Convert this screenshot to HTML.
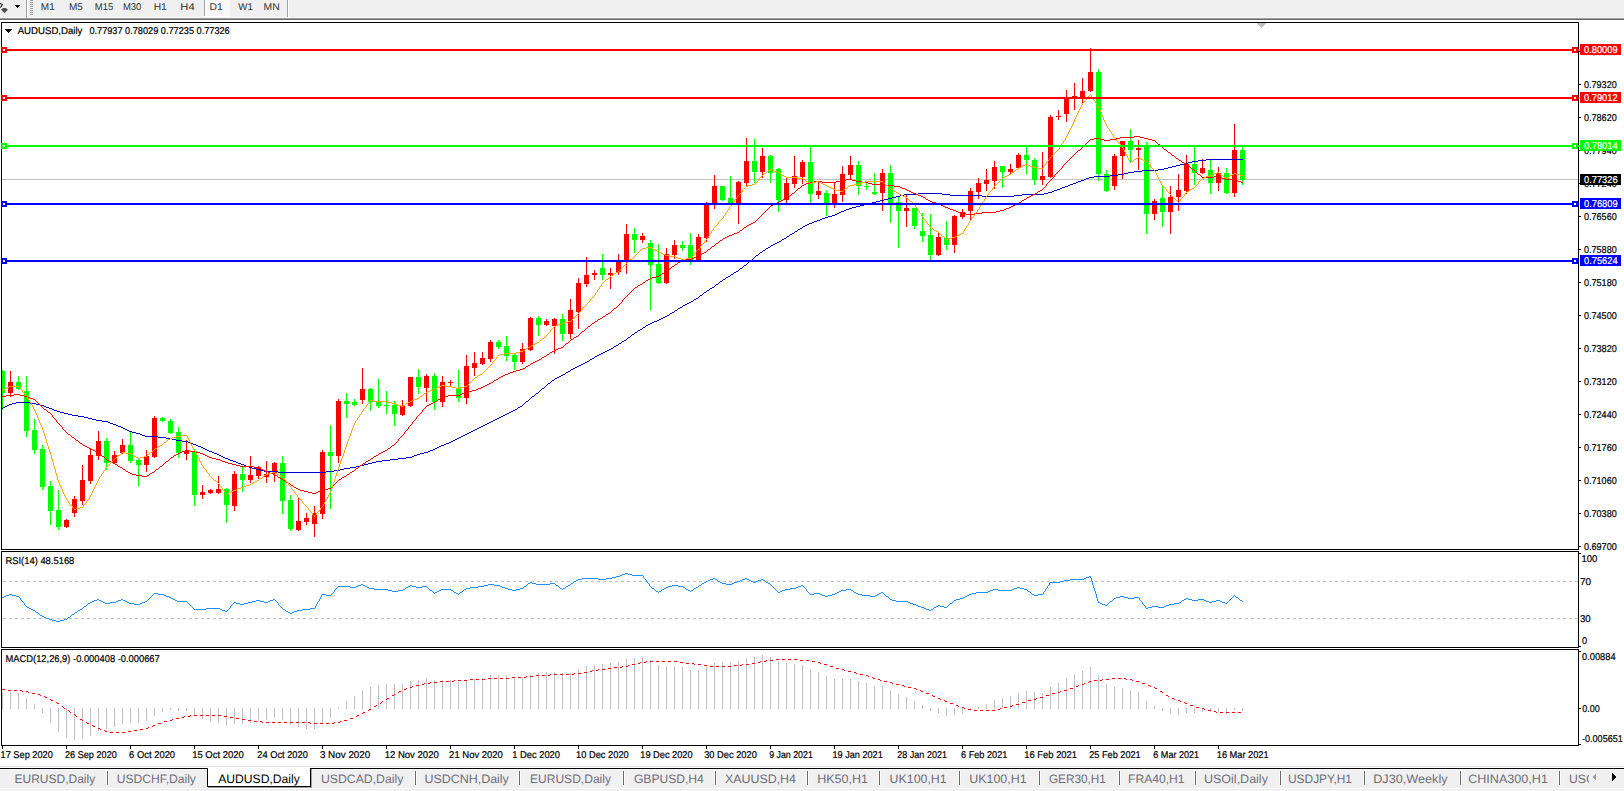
<!DOCTYPE html>
<html><head><meta charset="utf-8"><style>
html,body{margin:0;padding:0;width:1624px;height:791px;overflow:hidden;background:#fff;}
svg{display:block;}
text{font-family:"Liberation Sans",sans-serif;text-rendering:geometricPrecision;}
</style></head><body>
<svg width="1624" height="791" viewBox="0 0 1624 791" shape-rendering="crispEdges">
<rect x="0" y="0" width="1624" height="17" fill="#f0f0f0"/>
<rect x="0" y="17" width="1624" height="1" fill="#f5f5f5"/>
<rect x="0" y="18" width="1624" height="1" fill="#a0a0a0"/>
<rect x="0" y="19" width="1624" height="1" fill="#696969"/>
<path d="M0 3.2 L2.4 4.6 L0.3 7.6" fill="none" stroke="#404040" stroke-width="1.3" shape-rendering="auto"/>
<path d="M3.2 8 L5.6 8 L8 9.5 L4.4 13.2 L0.9 9.5 Z" fill="#505050" shape-rendering="auto"/>
<path d="M15 5 L20 5 L17.5 8 Z" fill="#000"/>
<rect x="26" y="0" width="1" height="18" fill="#a0a0a0"/>
<rect x="27" y="0" width="1" height="17" fill="#ffffff"/>
<rect x="30" y="0" width="3" height="1" fill="#a0a0a0"/>
<rect x="30" y="2" width="3" height="1" fill="#a0a0a0"/>
<rect x="30" y="4" width="3" height="1" fill="#a0a0a0"/>
<rect x="30" y="6" width="3" height="1" fill="#a0a0a0"/>
<rect x="30" y="8" width="3" height="1" fill="#a0a0a0"/>
<rect x="30" y="10" width="3" height="1" fill="#a0a0a0"/>
<rect x="30" y="12" width="3" height="1" fill="#a0a0a0"/>
<rect x="30" y="14" width="3" height="1" fill="#a0a0a0"/>
<rect x="205" y="0" width="24" height="16" fill="#f8f8f8"/>
<rect x="229" y="0" width="1" height="17" fill="#ffffff"/>
<rect x="204" y="16" width="26" height="1" fill="#ffffff"/>
<rect x="204" y="0" width="1" height="16" fill="#a0a0a0"/>
<rect x="287" y="0" width="1" height="17" fill="#a0a0a0"/>
<rect x="288" y="0" width="1" height="17" fill="#ffffff"/>
<text transform="translate(40.78,10) scale(1.0167,1)" font-size="9.9" fill="#303030">M1</text>
<text transform="translate(68.88,10) scale(1.0167,1)" font-size="9.9" fill="#303030">M5</text>
<text transform="translate(94.84,10) scale(0.9611,1)" font-size="9.9" fill="#303030">M15</text>
<text transform="translate(122.94,10) scale(0.9611,1)" font-size="9.9" fill="#303030">M30</text>
<text transform="translate(153.65,10) scale(1.0455,1)" font-size="9.9" fill="#303030">H1</text>
<text transform="translate(180.37,10) scale(1.1273,1)" font-size="9.9" fill="#303030">H4</text>
<text transform="translate(209.55,10) scale(1.0455,1)" font-size="9.9" fill="#303030">D1</text>
<text transform="translate(238.30,10) scale(0.9857,1)" font-size="9.9" fill="#303030">W1</text>
<text transform="translate(263.55,10) scale(1.0500,1)" font-size="9.9" fill="#303030">MN</text>
<defs><clipPath id="cm"><rect x="2" y="23" width="1576" height="526"/></clipPath><clipPath id="cr"><rect x="2" y="552" width="1576" height="95"/></clipPath><clipPath id="cd"><rect x="2" y="650" width="1576" height="95"/></clipPath></defs>
<rect x="2" y="179" width="1576" height="1" fill="#c0c0c0"/>
<g clip-path="url(#cm)">
<rect x="2" y="370" width="1" height="40" fill="#00ff00"/>
<rect x="0" y="371" width="5" height="22" fill="#00ff00"/>
<rect x="10" y="371" width="1" height="26" fill="#ff0000"/>
<rect x="8" y="382" width="5" height="11" fill="#ff0000"/>
<rect x="18" y="376" width="1" height="14" fill="#00ff00"/>
<rect x="16" y="382" width="5" height="7" fill="#00ff00"/>
<rect x="26" y="376" width="1" height="61" fill="#00ff00"/>
<rect x="24" y="391" width="5" height="40" fill="#00ff00"/>
<rect x="34" y="419" width="1" height="35" fill="#00ff00"/>
<rect x="32" y="430" width="5" height="20" fill="#00ff00"/>
<rect x="42" y="445" width="1" height="45" fill="#00ff00"/>
<rect x="40" y="449" width="5" height="38" fill="#00ff00"/>
<rect x="50" y="481" width="1" height="44" fill="#00ff00"/>
<rect x="48" y="486" width="5" height="25" fill="#00ff00"/>
<rect x="58" y="490" width="1" height="40" fill="#00ff00"/>
<rect x="56" y="510" width="5" height="17" fill="#00ff00"/>
<rect x="66" y="519" width="1" height="9" fill="#ff0000"/>
<rect x="64" y="520" width="5" height="7" fill="#ff0000"/>
<rect x="74" y="496" width="1" height="21" fill="#ff0000"/>
<rect x="72" y="499" width="5" height="14" fill="#ff0000"/>
<rect x="82" y="465" width="1" height="40" fill="#ff0000"/>
<rect x="80" y="480" width="5" height="21" fill="#ff0000"/>
<rect x="90" y="448" width="1" height="36" fill="#ff0000"/>
<rect x="88" y="455" width="5" height="26" fill="#ff0000"/>
<rect x="98" y="431" width="1" height="29" fill="#ff0000"/>
<rect x="96" y="441" width="5" height="15" fill="#ff0000"/>
<rect x="106" y="438" width="1" height="32" fill="#00ff00"/>
<rect x="104" y="441" width="5" height="22" fill="#00ff00"/>
<rect x="114" y="451" width="1" height="13" fill="#ff0000"/>
<rect x="112" y="455" width="5" height="8" fill="#ff0000"/>
<rect x="122" y="439" width="1" height="15" fill="#ff0000"/>
<rect x="120" y="445" width="5" height="8" fill="#ff0000"/>
<rect x="130" y="432" width="1" height="31" fill="#00ff00"/>
<rect x="128" y="445" width="5" height="16" fill="#00ff00"/>
<rect x="138" y="458" width="1" height="28" fill="#00ff00"/>
<rect x="136" y="460" width="5" height="5" fill="#00ff00"/>
<rect x="146" y="450" width="1" height="22" fill="#ff0000"/>
<rect x="144" y="456" width="5" height="9" fill="#ff0000"/>
<rect x="154" y="416" width="1" height="42" fill="#ff0000"/>
<rect x="152" y="418" width="5" height="39" fill="#ff0000"/>
<rect x="162" y="417" width="1" height="5" fill="#00ff00"/>
<rect x="160" y="418" width="5" height="3" fill="#00ff00"/>
<rect x="170" y="419" width="1" height="15" fill="#00ff00"/>
<rect x="168" y="421" width="5" height="12" fill="#00ff00"/>
<rect x="178" y="427" width="1" height="31" fill="#00ff00"/>
<rect x="176" y="432" width="5" height="21" fill="#00ff00"/>
<rect x="186" y="440" width="1" height="20" fill="#ff0000"/>
<rect x="184" y="451" width="5" height="3" fill="#ff0000"/>
<rect x="194" y="449" width="1" height="57" fill="#00ff00"/>
<rect x="192" y="451" width="5" height="44" fill="#00ff00"/>
<rect x="202" y="485" width="1" height="14" fill="#ff0000"/>
<rect x="200" y="492" width="5" height="3" fill="#ff0000"/>
<rect x="210" y="489" width="1" height="5" fill="#ff0000"/>
<rect x="208" y="490" width="5" height="3" fill="#ff0000"/>
<rect x="218" y="476" width="1" height="18" fill="#ff0000"/>
<rect x="216" y="489" width="5" height="4" fill="#ff0000"/>
<rect x="226" y="488" width="1" height="35" fill="#00ff00"/>
<rect x="224" y="489" width="5" height="16" fill="#00ff00"/>
<rect x="234" y="471" width="1" height="40" fill="#ff0000"/>
<rect x="232" y="474" width="5" height="32" fill="#ff0000"/>
<rect x="242" y="466" width="1" height="26" fill="#00ff00"/>
<rect x="240" y="474" width="5" height="6" fill="#00ff00"/>
<rect x="250" y="456" width="1" height="27" fill="#ff0000"/>
<rect x="248" y="475" width="5" height="5" fill="#ff0000"/>
<rect x="258" y="466" width="1" height="13" fill="#ff0000"/>
<rect x="256" y="467" width="5" height="9" fill="#ff0000"/>
<rect x="266" y="461" width="1" height="22" fill="#ff0000"/>
<rect x="264" y="474" width="5" height="3" fill="#ff0000"/>
<rect x="274" y="462" width="1" height="20" fill="#ff0000"/>
<rect x="272" y="463" width="5" height="11" fill="#ff0000"/>
<rect x="282" y="456" width="1" height="58" fill="#00ff00"/>
<rect x="280" y="463" width="5" height="38" fill="#00ff00"/>
<rect x="290" y="495" width="1" height="36" fill="#00ff00"/>
<rect x="288" y="500" width="5" height="29" fill="#00ff00"/>
<rect x="298" y="498" width="1" height="33" fill="#ff0000"/>
<rect x="296" y="521" width="5" height="9" fill="#ff0000"/>
<rect x="306" y="513" width="1" height="12" fill="#ff0000"/>
<rect x="304" y="518" width="5" height="4" fill="#ff0000"/>
<rect x="314" y="506" width="1" height="31" fill="#ff0000"/>
<rect x="312" y="513" width="5" height="11" fill="#ff0000"/>
<rect x="322" y="450" width="1" height="69" fill="#ff0000"/>
<rect x="320" y="452" width="5" height="62" fill="#ff0000"/>
<rect x="330" y="425" width="1" height="84" fill="#00ff00"/>
<rect x="328" y="452" width="5" height="4" fill="#00ff00"/>
<rect x="338" y="399" width="1" height="64" fill="#ff0000"/>
<rect x="336" y="401" width="5" height="55" fill="#ff0000"/>
<rect x="346" y="393" width="1" height="25" fill="#00ff00"/>
<rect x="344" y="401" width="5" height="3" fill="#00ff00"/>
<rect x="354" y="399" width="1" height="7" fill="#00ff00"/>
<rect x="352" y="402" width="5" height="3" fill="#00ff00"/>
<rect x="362" y="368" width="1" height="36" fill="#ff0000"/>
<rect x="360" y="389" width="5" height="11" fill="#ff0000"/>
<rect x="370" y="388" width="1" height="23" fill="#00ff00"/>
<rect x="368" y="389" width="5" height="13" fill="#00ff00"/>
<rect x="378" y="379" width="1" height="29" fill="#00ff00"/>
<rect x="376" y="402" width="5" height="4" fill="#00ff00"/>
<rect x="386" y="391" width="1" height="23" fill="#00ff00"/>
<rect x="384" y="405" width="5" height="1" fill="#00ff00"/>
<rect x="394" y="401" width="1" height="25" fill="#00ff00"/>
<rect x="392" y="405" width="5" height="9" fill="#00ff00"/>
<rect x="402" y="400" width="1" height="16" fill="#ff0000"/>
<rect x="400" y="406" width="5" height="9" fill="#ff0000"/>
<rect x="410" y="377" width="1" height="30" fill="#ff0000"/>
<rect x="408" y="377" width="5" height="29" fill="#ff0000"/>
<rect x="418" y="369" width="1" height="25" fill="#00ff00"/>
<rect x="416" y="377" width="5" height="10" fill="#00ff00"/>
<rect x="426" y="374" width="1" height="28" fill="#ff0000"/>
<rect x="424" y="376" width="5" height="12" fill="#ff0000"/>
<rect x="434" y="373" width="1" height="37" fill="#00ff00"/>
<rect x="432" y="376" width="5" height="26" fill="#00ff00"/>
<rect x="442" y="376" width="1" height="31" fill="#ff0000"/>
<rect x="440" y="382" width="5" height="20" fill="#ff0000"/>
<rect x="450" y="380" width="1" height="6" fill="#ff0000"/>
<rect x="448" y="382" width="5" height="1" fill="#ff0000"/>
<rect x="458" y="370" width="1" height="32" fill="#00ff00"/>
<rect x="456" y="388" width="5" height="10" fill="#00ff00"/>
<rect x="466" y="355" width="1" height="49" fill="#ff0000"/>
<rect x="464" y="366" width="5" height="32" fill="#ff0000"/>
<rect x="474" y="352" width="1" height="24" fill="#ff0000"/>
<rect x="472" y="363" width="5" height="5" fill="#ff0000"/>
<rect x="482" y="352" width="1" height="13" fill="#ff0000"/>
<rect x="480" y="358" width="5" height="6" fill="#ff0000"/>
<rect x="490" y="340" width="1" height="22" fill="#ff0000"/>
<rect x="488" y="342" width="5" height="17" fill="#ff0000"/>
<rect x="498" y="340" width="1" height="9" fill="#00ff00"/>
<rect x="496" y="342" width="5" height="5" fill="#00ff00"/>
<rect x="506" y="336" width="1" height="25" fill="#00ff00"/>
<rect x="504" y="346" width="5" height="10" fill="#00ff00"/>
<rect x="514" y="353" width="1" height="17" fill="#00ff00"/>
<rect x="512" y="355" width="5" height="7" fill="#00ff00"/>
<rect x="522" y="343" width="1" height="21" fill="#ff0000"/>
<rect x="520" y="349" width="5" height="13" fill="#ff0000"/>
<rect x="530" y="317" width="1" height="34" fill="#ff0000"/>
<rect x="528" y="318" width="5" height="32" fill="#ff0000"/>
<rect x="538" y="316" width="1" height="20" fill="#00ff00"/>
<rect x="536" y="318" width="5" height="7" fill="#00ff00"/>
<rect x="546" y="319" width="1" height="7" fill="#ff0000"/>
<rect x="544" y="321" width="5" height="4" fill="#ff0000"/>
<rect x="554" y="318" width="1" height="36" fill="#ff0000"/>
<rect x="552" y="319" width="5" height="7" fill="#ff0000"/>
<rect x="562" y="314" width="1" height="27" fill="#00ff00"/>
<rect x="560" y="319" width="5" height="15" fill="#00ff00"/>
<rect x="570" y="299" width="1" height="40" fill="#ff0000"/>
<rect x="568" y="310" width="5" height="24" fill="#ff0000"/>
<rect x="578" y="278" width="1" height="51" fill="#ff0000"/>
<rect x="576" y="283" width="5" height="29" fill="#ff0000"/>
<rect x="586" y="257" width="1" height="30" fill="#ff0000"/>
<rect x="584" y="275" width="5" height="9" fill="#ff0000"/>
<rect x="594" y="270" width="1" height="10" fill="#ff0000"/>
<rect x="592" y="273" width="5" height="2" fill="#ff0000"/>
<rect x="602" y="254" width="1" height="26" fill="#00ff00"/>
<rect x="600" y="268" width="5" height="7" fill="#00ff00"/>
<rect x="610" y="268" width="1" height="21" fill="#ff0000"/>
<rect x="608" y="273" width="5" height="2" fill="#ff0000"/>
<rect x="618" y="254" width="1" height="21" fill="#ff0000"/>
<rect x="616" y="261" width="5" height="11" fill="#ff0000"/>
<rect x="626" y="224" width="1" height="50" fill="#ff0000"/>
<rect x="624" y="234" width="5" height="28" fill="#ff0000"/>
<rect x="634" y="228" width="1" height="25" fill="#00ff00"/>
<rect x="632" y="234" width="5" height="6" fill="#00ff00"/>
<rect x="642" y="233" width="1" height="10" fill="#ff0000"/>
<rect x="640" y="236" width="5" height="4" fill="#ff0000"/>
<rect x="650" y="240" width="1" height="70" fill="#00ff00"/>
<rect x="648" y="243" width="5" height="22" fill="#00ff00"/>
<rect x="658" y="244" width="1" height="40" fill="#00ff00"/>
<rect x="656" y="264" width="5" height="19" fill="#00ff00"/>
<rect x="666" y="248" width="1" height="36" fill="#ff0000"/>
<rect x="664" y="254" width="5" height="29" fill="#ff0000"/>
<rect x="674" y="240" width="1" height="19" fill="#ff0000"/>
<rect x="672" y="245" width="5" height="10" fill="#ff0000"/>
<rect x="682" y="241" width="1" height="10" fill="#00ff00"/>
<rect x="680" y="245" width="5" height="3" fill="#00ff00"/>
<rect x="690" y="233" width="1" height="32" fill="#00ff00"/>
<rect x="688" y="245" width="5" height="17" fill="#00ff00"/>
<rect x="698" y="234" width="1" height="27" fill="#ff0000"/>
<rect x="696" y="237" width="5" height="23" fill="#ff0000"/>
<rect x="706" y="202" width="1" height="40" fill="#ff0000"/>
<rect x="704" y="204" width="5" height="34" fill="#ff0000"/>
<rect x="714" y="175" width="1" height="34" fill="#ff0000"/>
<rect x="712" y="186" width="5" height="17" fill="#ff0000"/>
<rect x="722" y="186" width="1" height="15" fill="#00ff00"/>
<rect x="720" y="186" width="5" height="14" fill="#00ff00"/>
<rect x="730" y="176" width="1" height="29" fill="#00ff00"/>
<rect x="728" y="198" width="5" height="6" fill="#00ff00"/>
<rect x="738" y="181" width="1" height="43" fill="#ff0000"/>
<rect x="736" y="182" width="5" height="21" fill="#ff0000"/>
<rect x="746" y="138" width="1" height="48" fill="#ff0000"/>
<rect x="744" y="161" width="5" height="22" fill="#ff0000"/>
<rect x="754" y="139" width="1" height="44" fill="#00ff00"/>
<rect x="752" y="161" width="5" height="11" fill="#00ff00"/>
<rect x="762" y="148" width="1" height="30" fill="#ff0000"/>
<rect x="760" y="156" width="5" height="16" fill="#ff0000"/>
<rect x="770" y="155" width="1" height="28" fill="#00ff00"/>
<rect x="768" y="156" width="5" height="17" fill="#00ff00"/>
<rect x="778" y="168" width="1" height="44" fill="#00ff00"/>
<rect x="776" y="169" width="5" height="31" fill="#00ff00"/>
<rect x="786" y="177" width="1" height="26" fill="#ff0000"/>
<rect x="784" y="183" width="5" height="17" fill="#ff0000"/>
<rect x="794" y="156" width="1" height="32" fill="#ff0000"/>
<rect x="792" y="176" width="5" height="8" fill="#ff0000"/>
<rect x="802" y="160" width="1" height="24" fill="#ff0000"/>
<rect x="800" y="162" width="5" height="15" fill="#ff0000"/>
<rect x="810" y="146" width="1" height="58" fill="#00ff00"/>
<rect x="808" y="162" width="5" height="32" fill="#00ff00"/>
<rect x="818" y="182" width="1" height="17" fill="#ff0000"/>
<rect x="816" y="191" width="5" height="4" fill="#ff0000"/>
<rect x="826" y="190" width="1" height="26" fill="#00ff00"/>
<rect x="824" y="193" width="5" height="10" fill="#00ff00"/>
<rect x="834" y="182" width="1" height="26" fill="#ff0000"/>
<rect x="832" y="194" width="5" height="9" fill="#ff0000"/>
<rect x="842" y="166" width="1" height="36" fill="#ff0000"/>
<rect x="840" y="174" width="5" height="21" fill="#ff0000"/>
<rect x="850" y="156" width="1" height="24" fill="#ff0000"/>
<rect x="848" y="165" width="5" height="10" fill="#ff0000"/>
<rect x="858" y="161" width="1" height="34" fill="#00ff00"/>
<rect x="856" y="165" width="5" height="21" fill="#00ff00"/>
<rect x="866" y="183" width="1" height="7" fill="#00ff00"/>
<rect x="864" y="186" width="5" height="1" fill="#00ff00"/>
<rect x="874" y="173" width="1" height="22" fill="#00ff00"/>
<rect x="872" y="192" width="5" height="2" fill="#00ff00"/>
<rect x="882" y="169" width="1" height="42" fill="#ff0000"/>
<rect x="880" y="173" width="5" height="20" fill="#ff0000"/>
<rect x="890" y="165" width="1" height="58" fill="#00ff00"/>
<rect x="888" y="173" width="5" height="30" fill="#00ff00"/>
<rect x="898" y="196" width="1" height="52" fill="#00ff00"/>
<rect x="896" y="202" width="5" height="9" fill="#00ff00"/>
<rect x="906" y="194" width="1" height="33" fill="#ff0000"/>
<rect x="904" y="208" width="5" height="3" fill="#ff0000"/>
<rect x="914" y="208" width="1" height="21" fill="#00ff00"/>
<rect x="912" y="208" width="5" height="18" fill="#00ff00"/>
<rect x="922" y="213" width="1" height="29" fill="#00ff00"/>
<rect x="920" y="231" width="5" height="5" fill="#00ff00"/>
<rect x="930" y="214" width="1" height="46" fill="#00ff00"/>
<rect x="928" y="235" width="5" height="20" fill="#00ff00"/>
<rect x="938" y="232" width="1" height="24" fill="#ff0000"/>
<rect x="936" y="237" width="5" height="18" fill="#ff0000"/>
<rect x="946" y="221" width="1" height="29" fill="#00ff00"/>
<rect x="944" y="238" width="5" height="7" fill="#00ff00"/>
<rect x="954" y="215" width="1" height="38" fill="#ff0000"/>
<rect x="952" y="216" width="5" height="29" fill="#ff0000"/>
<rect x="962" y="209" width="1" height="10" fill="#ff0000"/>
<rect x="960" y="212" width="5" height="5" fill="#ff0000"/>
<rect x="970" y="188" width="1" height="32" fill="#ff0000"/>
<rect x="968" y="191" width="5" height="20" fill="#ff0000"/>
<rect x="978" y="178" width="1" height="21" fill="#ff0000"/>
<rect x="976" y="183" width="5" height="9" fill="#ff0000"/>
<rect x="986" y="169" width="1" height="22" fill="#ff0000"/>
<rect x="984" y="180" width="5" height="4" fill="#ff0000"/>
<rect x="994" y="161" width="1" height="28" fill="#ff0000"/>
<rect x="992" y="167" width="5" height="14" fill="#ff0000"/>
<rect x="1002" y="166" width="1" height="22" fill="#00ff00"/>
<rect x="1000" y="166" width="5" height="6" fill="#00ff00"/>
<rect x="1010" y="164" width="1" height="10" fill="#ff0000"/>
<rect x="1008" y="169" width="5" height="3" fill="#ff0000"/>
<rect x="1018" y="153" width="1" height="16" fill="#ff0000"/>
<rect x="1016" y="155" width="5" height="13" fill="#ff0000"/>
<rect x="1026" y="146" width="1" height="28" fill="#00ff00"/>
<rect x="1024" y="155" width="5" height="5" fill="#00ff00"/>
<rect x="1034" y="158" width="1" height="27" fill="#00ff00"/>
<rect x="1032" y="160" width="5" height="20" fill="#00ff00"/>
<rect x="1042" y="152" width="1" height="33" fill="#ff0000"/>
<rect x="1040" y="176" width="5" height="4" fill="#ff0000"/>
<rect x="1050" y="115" width="1" height="63" fill="#ff0000"/>
<rect x="1048" y="117" width="5" height="60" fill="#ff0000"/>
<rect x="1058" y="110" width="1" height="10" fill="#ff0000"/>
<rect x="1056" y="116" width="5" height="1" fill="#ff0000"/>
<rect x="1066" y="90" width="1" height="32" fill="#ff0000"/>
<rect x="1064" y="98" width="5" height="16" fill="#ff0000"/>
<rect x="1074" y="83" width="1" height="27" fill="#ff0000"/>
<rect x="1072" y="96" width="5" height="2" fill="#ff0000"/>
<rect x="1082" y="78" width="1" height="25" fill="#ff0000"/>
<rect x="1080" y="91" width="5" height="7" fill="#ff0000"/>
<rect x="1090" y="48" width="1" height="44" fill="#ff0000"/>
<rect x="1088" y="72" width="5" height="19" fill="#ff0000"/>
<rect x="1098" y="69" width="1" height="112" fill="#00ff00"/>
<rect x="1096" y="72" width="5" height="102" fill="#00ff00"/>
<rect x="1106" y="170" width="1" height="22" fill="#00ff00"/>
<rect x="1104" y="174" width="5" height="17" fill="#00ff00"/>
<rect x="1114" y="154" width="1" height="36" fill="#ff0000"/>
<rect x="1112" y="156" width="5" height="30" fill="#ff0000"/>
<rect x="1122" y="141" width="1" height="38" fill="#ff0000"/>
<rect x="1120" y="141" width="5" height="15" fill="#ff0000"/>
<rect x="1130" y="129" width="1" height="33" fill="#00ff00"/>
<rect x="1128" y="141" width="5" height="9" fill="#00ff00"/>
<rect x="1138" y="140" width="1" height="30" fill="#ff0000"/>
<rect x="1136" y="148" width="5" height="2" fill="#ff0000"/>
<rect x="1146" y="142" width="1" height="92" fill="#00ff00"/>
<rect x="1144" y="146" width="5" height="68" fill="#00ff00"/>
<rect x="1154" y="199" width="1" height="21" fill="#ff0000"/>
<rect x="1152" y="201" width="5" height="13" fill="#ff0000"/>
<rect x="1162" y="185" width="1" height="42" fill="#00ff00"/>
<rect x="1160" y="198" width="5" height="14" fill="#00ff00"/>
<rect x="1170" y="186" width="1" height="48" fill="#ff0000"/>
<rect x="1168" y="197" width="5" height="15" fill="#ff0000"/>
<rect x="1178" y="174" width="1" height="37" fill="#ff0000"/>
<rect x="1176" y="190" width="5" height="7" fill="#ff0000"/>
<rect x="1186" y="155" width="1" height="39" fill="#ff0000"/>
<rect x="1184" y="164" width="5" height="27" fill="#ff0000"/>
<rect x="1194" y="146" width="1" height="39" fill="#00ff00"/>
<rect x="1192" y="164" width="5" height="9" fill="#00ff00"/>
<rect x="1202" y="159" width="1" height="15" fill="#ff0000"/>
<rect x="1200" y="168" width="5" height="5" fill="#ff0000"/>
<rect x="1210" y="160" width="1" height="34" fill="#00ff00"/>
<rect x="1208" y="170" width="5" height="13" fill="#00ff00"/>
<rect x="1218" y="167" width="1" height="24" fill="#ff0000"/>
<rect x="1216" y="173" width="5" height="10" fill="#ff0000"/>
<rect x="1226" y="168" width="1" height="26" fill="#00ff00"/>
<rect x="1224" y="173" width="5" height="20" fill="#00ff00"/>
<rect x="1234" y="124" width="1" height="73" fill="#ff0000"/>
<rect x="1232" y="150" width="5" height="43" fill="#ff0000"/>
<rect x="1242" y="147" width="1" height="38" fill="#00ff00"/>
<rect x="1240" y="150" width="5" height="30" fill="#00ff00"/>
<path d="M2 408h1v1h-1zM3 407h1v1h-1zM4 407h1v1h-1zM5 406h1v1h-1zM6 406h1v1h-1zM7 405h1v1h-1zM8 405h1v1h-1zM9 404h1v1h-1zM10 404h1v1h-1zM11 404h1v1h-1zM12 403h1v1h-1zM13 403h1v1h-1zM14 403h1v1h-1zM15 403h1v1h-1zM16 402h1v1h-1zM17 402h1v1h-1zM18 402h1v1h-1zM19 402h1v1h-1zM20 402h1v1h-1zM21 402h1v1h-1zM22 402h1v1h-1zM23 402h1v1h-1zM24 402h1v1h-1zM25 402h1v1h-1zM26 402h1v1h-1zM27 402h1v1h-1zM28 402h1v1h-1zM29 402h1v1h-1zM30 403h1v1h-1zM31 403h1v1h-1zM32 403h1v1h-1zM33 403h1v1h-1zM34 403h1v1h-1zM35 403h1v1h-1zM36 404h1v1h-1zM37 404h1v1h-1zM38 404h1v1h-1zM39 404h1v1h-1zM40 405h1v1h-1zM41 405h1v1h-1zM42 405h1v1h-1zM43 405h1v1h-1zM44 406h1v1h-1zM45 406h1v1h-1zM46 407h1v1h-1zM47 407h1v1h-1zM48 407h1v1h-1zM49 408h1v1h-1zM50 408h1v1h-1zM51 408h1v1h-1zM52 409h1v1h-1zM53 409h1v1h-1zM54 410h1v1h-1zM55 410h1v1h-1zM56 410h1v1h-1zM57 411h1v1h-1zM58 411h1v1h-1zM59 411h1v1h-1zM60 412h1v1h-1zM61 412h1v1h-1zM62 412h1v1h-1zM63 412h1v1h-1zM64 413h1v1h-1zM65 413h1v1h-1zM66 413h1v1h-1zM67 413h1v1h-1zM68 414h1v1h-1zM69 414h1v1h-1zM70 414h1v1h-1zM71 414h1v1h-1zM72 415h1v1h-1zM73 415h1v1h-1zM74 415h1v1h-1zM75 415h1v1h-1zM76 415h1v1h-1zM77 415h1v1h-1zM78 416h1v1h-1zM79 416h1v1h-1zM80 416h1v1h-1zM81 416h1v1h-1zM82 416h1v1h-1zM83 416h1v1h-1zM84 417h1v1h-1zM85 417h1v1h-1zM86 417h1v1h-1zM87 417h1v1h-1zM88 418h1v1h-1zM89 418h1v1h-1zM90 418h1v1h-1zM91 418h1v1h-1zM92 419h1v1h-1zM93 419h1v1h-1zM94 419h1v1h-1zM95 419h1v1h-1zM96 420h1v1h-1zM97 420h1v1h-1zM98 420h1v1h-1zM99 420h1v1h-1zM100 420h1v1h-1zM101 420h1v1h-1zM102 421h1v1h-1zM103 421h1v1h-1zM104 421h1v1h-1zM105 421h1v1h-1zM106 421h1v1h-1zM107 421h1v1h-1zM108 422h1v1h-1zM109 422h1v1h-1zM110 423h1v1h-1zM111 423h1v1h-1zM112 423h1v1h-1zM113 424h1v1h-1zM114 424h1v1h-1zM115 424h1v1h-1zM116 425h1v1h-1zM117 425h1v1h-1zM118 426h1v1h-1zM119 426h1v1h-1zM120 426h1v1h-1zM121 427h1v1h-1zM122 427h1v1h-1zM123 428h1v1h-1zM124 428h1v1h-1zM125 429h1v1h-1zM126 429h1v1h-1zM127 430h1v1h-1zM128 430h1v1h-1zM129 431h1v1h-1zM130 431h1v1h-1zM131 431h1v1h-1zM132 432h1v1h-1zM133 432h1v1h-1zM134 432h1v1h-1zM135 432h1v1h-1zM136 433h1v1h-1zM137 433h1v1h-1zM138 433h1v1h-1zM139 433h1v1h-1zM140 434h1v1h-1zM141 434h1v1h-1zM142 435h1v1h-1zM143 435h1v1h-1zM144 435h1v1h-1zM145 436h1v1h-1zM146 436h1v1h-1zM147 436h1v1h-1zM148 436h1v1h-1zM149 436h1v1h-1zM150 436h1v1h-1zM151 436h1v1h-1zM152 436h1v1h-1zM153 436h1v1h-1zM154 436h1v1h-1zM155 436h1v1h-1zM156 436h1v1h-1zM157 436h1v1h-1zM158 437h1v1h-1zM159 437h1v1h-1zM160 437h1v1h-1zM161 437h1v1h-1zM162 437h1v1h-1zM163 437h1v1h-1zM164 437h1v1h-1zM165 437h1v1h-1zM166 438h1v1h-1zM167 438h1v1h-1zM168 438h1v1h-1zM169 438h1v1h-1zM170 438h1v1h-1zM171 438h1v1h-1zM172 439h1v1h-1zM173 439h1v1h-1zM174 439h1v1h-1zM175 439h1v1h-1zM176 440h1v1h-1zM177 440h1v1h-1zM178 440h1v1h-1zM179 440h1v1h-1zM180 440h1v1h-1zM181 440h1v1h-1zM182 441h1v1h-1zM183 441h1v1h-1zM184 441h1v1h-1zM185 441h1v1h-1zM186 441h1v1h-1zM187 441h1v1h-1zM188 442h1v1h-1zM189 442h1v1h-1zM190 443h1v1h-1zM191 443h1v1h-1zM192 443h1v1h-1zM193 444h1v1h-1zM194 444h1v1h-1zM195 444h1v1h-1zM196 445h1v1h-1zM197 445h1v1h-1zM198 446h1v1h-1zM199 446h1v1h-1zM200 446h1v1h-1zM201 447h1v1h-1zM202 447h1v1h-1zM203 448h1v1h-1zM204 448h1v1h-1zM205 449h1v1h-1zM206 449h1v1h-1zM207 450h1v1h-1zM208 450h1v1h-1zM209 451h1v1h-1zM210 451h1v1h-1zM211 451h1v1h-1zM212 452h1v1h-1zM213 452h1v1h-1zM214 453h1v1h-1zM215 453h1v1h-1zM216 453h1v1h-1zM217 454h1v1h-1zM218 454h1v1h-1zM219 455h1v1h-1zM220 455h1v1h-1zM221 456h1v1h-1zM222 456h1v1h-1zM223 457h1v1h-1zM224 457h1v1h-1zM225 458h1v1h-1zM226 458h1v1h-1zM227 458h1v1h-1zM228 459h1v1h-1zM229 459h1v1h-1zM230 460h1v1h-1zM231 460h1v1h-1zM232 460h1v1h-1zM233 461h1v1h-1zM234 461h1v1h-1zM235 461h1v1h-1zM236 462h1v1h-1zM237 462h1v1h-1zM238 463h1v1h-1zM239 463h1v1h-1zM240 463h1v1h-1zM241 464h1v1h-1zM242 464h1v1h-1zM243 464h1v1h-1zM244 465h1v1h-1zM245 465h1v1h-1zM246 466h1v1h-1zM247 466h1v1h-1zM248 466h1v1h-1zM249 467h1v1h-1zM250 467h1v1h-1zM251 467h1v1h-1zM252 468h1v1h-1zM253 468h1v1h-1zM254 468h1v1h-1zM255 468h1v1h-1zM256 469h1v1h-1zM257 469h1v1h-1zM258 469h1v1h-1zM259 469h1v1h-1zM260 470h1v1h-1zM261 470h1v1h-1zM262 470h1v1h-1zM263 470h1v1h-1zM264 471h1v1h-1zM265 471h1v1h-1zM266 471h1v1h-1zM267 471h1v1h-1zM268 471h1v1h-1zM269 471h1v1h-1zM270 471h1v1h-1zM271 471h1v1h-1zM272 471h1v1h-1zM273 471h1v1h-1zM274 471h1v1h-1zM275 471h1v1h-1zM276 471h1v1h-1zM277 471h1v1h-1zM278 472h1v1h-1zM279 472h1v1h-1zM280 472h1v1h-1zM281 472h1v1h-1zM282 472h1v1h-1zM283 472h1v1h-1zM284 472h1v1h-1zM285 472h1v1h-1zM286 472h1v1h-1zM287 472h1v1h-1zM288 472h1v1h-1zM289 472h1v1h-1zM290 472h1v1h-1zM291 472h1v1h-1zM292 472h1v1h-1zM293 472h1v1h-1zM294 472h1v1h-1zM295 472h1v1h-1zM296 472h1v1h-1zM297 472h1v1h-1zM298 472h1v1h-1zM299 472h1v1h-1zM300 472h1v1h-1zM301 472h1v1h-1zM302 472h1v1h-1zM303 472h1v1h-1zM304 472h1v1h-1zM305 472h1v1h-1zM306 472h1v1h-1zM307 472h1v1h-1zM308 472h1v1h-1zM309 472h1v1h-1zM310 472h1v1h-1zM311 472h1v1h-1zM312 472h1v1h-1zM313 472h1v1h-1zM314 472h1v1h-1zM315 472h1v1h-1zM316 472h1v1h-1zM317 472h1v1h-1zM318 472h1v1h-1zM319 472h1v1h-1zM320 472h1v1h-1zM321 472h1v1h-1zM322 472h1v1h-1zM323 472h1v1h-1zM324 472h1v1h-1zM325 472h1v1h-1zM326 471h1v1h-1zM327 471h1v1h-1zM328 471h1v1h-1zM329 471h1v1h-1zM330 471h1v1h-1zM331 471h1v1h-1zM332 471h1v1h-1zM333 471h1v1h-1zM334 470h1v1h-1zM335 470h1v1h-1zM336 470h1v1h-1zM337 470h1v1h-1zM338 470h1v1h-1zM339 470h1v1h-1zM340 469h1v1h-1zM341 469h1v1h-1zM342 469h1v1h-1zM343 469h1v1h-1zM344 468h1v1h-1zM345 468h1v1h-1zM346 468h1v1h-1zM347 468h1v1h-1zM348 468h1v1h-1zM349 468h1v1h-1zM350 467h1v1h-1zM351 467h1v1h-1zM352 467h1v1h-1zM353 467h1v1h-1zM354 467h1v1h-1zM355 467h1v1h-1zM356 466h1v1h-1zM357 466h1v1h-1zM358 466h1v1h-1zM359 466h1v1h-1zM360 465h1v1h-1zM361 465h1v1h-1zM362 465h1v1h-1zM363 465h1v1h-1zM364 464h1v1h-1zM365 464h1v1h-1zM366 464h1v1h-1zM367 464h1v1h-1zM368 463h1v1h-1zM369 463h1v1h-1zM370 463h1v1h-1zM371 463h1v1h-1zM372 462h1v1h-1zM373 462h1v1h-1zM374 462h1v1h-1zM375 462h1v1h-1zM376 461h1v1h-1zM377 461h1v1h-1zM378 461h1v1h-1zM379 461h1v1h-1zM380 461h1v1h-1zM381 461h1v1h-1zM382 460h1v1h-1zM383 460h1v1h-1zM384 460h1v1h-1zM385 460h1v1h-1zM386 460h1v1h-1zM387 460h1v1h-1zM388 460h1v1h-1zM389 460h1v1h-1zM390 459h1v1h-1zM391 459h1v1h-1zM392 459h1v1h-1zM393 459h1v1h-1zM394 459h1v1h-1zM395 459h1v1h-1zM396 459h1v1h-1zM397 459h1v1h-1zM398 458h1v1h-1zM399 458h1v1h-1zM400 458h1v1h-1zM401 458h1v1h-1zM402 458h1v1h-1zM403 458h1v1h-1zM404 458h1v1h-1zM405 458h1v1h-1zM406 457h1v1h-1zM407 457h1v1h-1zM408 457h1v1h-1zM409 457h1v1h-1zM410 457h1v1h-1zM411 457h1v1h-1zM412 456h1v1h-1zM413 456h1v1h-1zM414 455h1v1h-1zM415 455h1v1h-1zM416 455h1v1h-1zM417 454h1v1h-1zM418 454h1v1h-1zM419 454h1v1h-1zM420 453h1v1h-1zM421 453h1v1h-1zM422 453h1v1h-1zM423 453h1v1h-1zM424 452h1v1h-1zM425 452h1v1h-1zM426 452h1v1h-1zM427 452h1v1h-1zM428 451h1v1h-1zM429 451h1v1h-1zM430 450h1v1h-1zM431 450h1v1h-1zM432 450h1v1h-1zM433 449h1v1h-1zM434 449h1v1h-1zM435 448h1v1h-1zM436 448h1v1h-1zM437 447h1v1h-1zM438 447h1v1h-1zM439 446h1v1h-1zM440 446h1v1h-1zM441 445h1v1h-1zM442 445h1v1h-1zM443 445h1v1h-1zM444 444h1v1h-1zM445 444h1v1h-1zM446 443h1v1h-1zM447 443h1v1h-1zM448 443h1v1h-1zM449 442h1v1h-1zM450 442h1v1h-1zM451 441h1v1h-1zM452 441h1v1h-1zM453 440h1v1h-1zM454 440h1v1h-1zM455 439h1v1h-1zM456 439h1v1h-1zM457 438h1v1h-1zM458 438h1v1h-1zM459 437h1v1h-1zM460 437h1v1h-1zM461 436h1v1h-1zM462 436h1v1h-1zM463 435h1v1h-1zM464 435h1v1h-1zM465 434h1v1h-1zM466 434h1v1h-1zM467 433h1v1h-1zM468 433h1v1h-1zM469 432h1v1h-1zM470 432h1v1h-1zM471 431h1v1h-1zM472 431h1v1h-1zM473 430h1v1h-1zM474 430h1v1h-1zM475 429h1v1h-1zM476 429h1v1h-1zM477 428h1v1h-1zM478 428h1v1h-1zM479 427h1v1h-1zM480 427h1v1h-1zM481 426h1v1h-1zM482 426h1v1h-1zM483 425h1v1h-1zM484 425h1v1h-1zM485 424h1v1h-1zM486 424h1v1h-1zM487 423h1v1h-1zM488 423h1v1h-1zM489 422h1v1h-1zM490 422h1v1h-1zM491 421h1v1h-1zM492 421h1v1h-1zM493 420h1v1h-1zM494 420h1v1h-1zM495 419h1v1h-1zM496 419h1v1h-1zM497 418h1v1h-1zM498 418h1v1h-1zM499 417h1v1h-1zM500 417h1v1h-1zM501 416h1v1h-1zM502 416h1v1h-1zM503 415h1v1h-1zM504 415h1v1h-1zM505 414h1v1h-1zM506 414h1v1h-1zM507 413h1v1h-1zM508 413h1v1h-1zM509 412h1v1h-1zM510 412h1v1h-1zM511 411h1v1h-1zM512 411h1v1h-1zM513 410h1v1h-1zM514 410h1v1h-1zM515 409h1v1h-1zM516 409h1v1h-1zM517 408h1v1h-1zM518 407h1v1h-1zM519 407h1v1h-1zM520 406h1v1h-1zM521 406h1v1h-1zM522 405h1v1h-1zM523 404h1v1h-1zM524 403h1v1h-1zM525 402h1v1h-1zM526 401h1v1h-1zM527 401h1v1h-1zM528 400h1v1h-1zM529 399h1v1h-1zM530 398h1v1h-1zM531 397h1v1h-1zM532 396h1v1h-1zM533 396h1v1h-1zM534 395h1v1h-1zM535 394h1v1h-1zM536 393h1v1h-1zM537 393h1v1h-1zM538 392h1v1h-1zM539 391h1v1h-1zM540 390h1v1h-1zM541 389h1v1h-1zM542 388h1v1h-1zM543 388h1v1h-1zM544 387h1v1h-1zM545 386h1v1h-1zM546 385h1v1h-1zM547 384h1v1h-1zM548 383h1v1h-1zM549 383h1v1h-1zM550 382h1v1h-1zM551 381h1v1h-1zM552 380h1v1h-1zM553 380h1v1h-1zM554 379h1v1h-1zM555 378h1v1h-1zM556 378h1v1h-1zM557 377h1v1h-1zM558 377h1v1h-1zM559 376h1v1h-1zM560 376h1v1h-1zM561 375h1v1h-1zM562 375h1v1h-1zM563 374h1v1h-1zM564 374h1v1h-1zM565 373h1v1h-1zM566 372h1v1h-1zM567 372h1v1h-1zM568 371h1v1h-1zM569 371h1v1h-1zM570 370h1v1h-1zM571 369h1v1h-1zM572 369h1v1h-1zM573 368h1v1h-1zM574 368h1v1h-1zM575 367h1v1h-1zM576 367h1v1h-1zM577 366h1v1h-1zM578 366h1v1h-1zM579 365h1v1h-1zM580 365h1v1h-1zM581 364h1v1h-1zM582 364h1v1h-1zM583 363h1v1h-1zM584 363h1v1h-1zM585 362h1v1h-1zM586 362h1v1h-1zM587 361h1v1h-1zM588 361h1v1h-1zM589 360h1v1h-1zM590 359h1v1h-1zM591 359h1v1h-1zM592 358h1v1h-1zM593 358h1v1h-1zM594 357h1v1h-1zM595 356h1v1h-1zM596 356h1v1h-1zM597 355h1v1h-1zM598 355h1v1h-1zM599 354h1v1h-1zM600 354h1v1h-1zM601 353h1v1h-1zM602 353h1v1h-1zM603 352h1v1h-1zM604 352h1v1h-1zM605 351h1v1h-1zM606 351h1v1h-1zM607 350h1v1h-1zM608 350h1v1h-1zM609 349h1v1h-1zM610 349h1v1h-1zM611 348h1v1h-1zM612 348h1v1h-1zM613 347h1v1h-1zM614 346h1v1h-1zM615 346h1v1h-1zM616 345h1v1h-1zM617 345h1v1h-1zM618 344h1v1h-1zM619 343h1v1h-1zM620 343h1v1h-1zM621 342h1v1h-1zM622 341h1v1h-1zM623 341h1v1h-1zM624 340h1v1h-1zM625 340h1v1h-1zM626 339h1v1h-1zM627 338h1v1h-1zM628 337h1v1h-1zM629 337h1v1h-1zM630 336h1v1h-1zM631 335h1v1h-1zM632 334h1v1h-1zM633 334h1v1h-1zM634 333h1v1h-1zM635 332h1v1h-1zM636 332h1v1h-1zM637 331h1v1h-1zM638 330h1v1h-1zM639 330h1v1h-1zM640 329h1v1h-1zM641 329h1v1h-1zM642 328h1v1h-1zM643 327h1v1h-1zM644 327h1v1h-1zM645 326h1v1h-1zM646 325h1v1h-1zM647 325h1v1h-1zM648 324h1v1h-1zM649 324h1v1h-1zM650 323h1v1h-1zM651 323h1v1h-1zM652 322h1v1h-1zM653 322h1v1h-1zM654 321h1v1h-1zM655 321h1v1h-1zM656 321h1v1h-1zM657 320h1v1h-1zM658 320h1v1h-1zM659 319h1v1h-1zM660 319h1v1h-1zM661 318h1v1h-1zM662 318h1v1h-1zM663 317h1v1h-1zM664 317h1v1h-1zM665 316h1v1h-1zM666 316h1v1h-1zM667 315h1v1h-1zM668 315h1v1h-1zM669 314h1v1h-1zM670 313h1v1h-1zM671 313h1v1h-1zM672 312h1v1h-1zM673 312h1v1h-1zM674 311h1v1h-1zM675 310h1v1h-1zM676 310h1v1h-1zM677 309h1v1h-1zM678 308h1v1h-1zM679 308h1v1h-1zM680 307h1v1h-1zM681 307h1v1h-1zM682 306h1v1h-1zM683 305h1v1h-1zM684 305h1v1h-1zM685 304h1v1h-1zM686 304h1v1h-1zM687 303h1v1h-1zM688 303h1v1h-1zM689 302h1v1h-1zM690 302h1v1h-1zM691 301h1v1h-1zM692 301h1v1h-1zM693 300h1v1h-1zM694 299h1v1h-1zM695 299h1v1h-1zM696 298h1v1h-1zM697 298h1v1h-1zM698 297h1v1h-1zM699 296h1v1h-1zM700 295h1v1h-1zM701 295h1v1h-1zM702 294h1v1h-1zM703 293h1v1h-1zM704 292h1v1h-1zM705 292h1v1h-1zM706 291h1v1h-1zM707 290h1v1h-1zM708 290h1v1h-1zM709 289h1v1h-1zM710 288h1v1h-1zM711 288h1v1h-1zM712 287h1v1h-1zM713 287h1v1h-1zM714 286h1v1h-1zM715 285h1v1h-1zM716 284h1v1h-1zM717 284h1v1h-1zM718 283h1v1h-1zM719 282h1v1h-1zM720 281h1v1h-1zM721 281h1v1h-1zM722 280h1v1h-1zM723 279h1v1h-1zM724 279h1v1h-1zM725 278h1v1h-1zM726 277h1v1h-1zM727 277h1v1h-1zM728 276h1v1h-1zM729 276h1v1h-1zM730 275h1v1h-1zM731 274h1v1h-1zM732 274h1v1h-1zM733 273h1v1h-1zM734 272h1v1h-1zM735 272h1v1h-1zM736 271h1v1h-1zM737 271h1v1h-1zM738 270h1v1h-1zM739 269h1v1h-1zM740 268h1v1h-1zM741 268h1v1h-1zM742 267h1v1h-1zM743 266h1v1h-1zM744 265h1v1h-1zM745 265h1v1h-1zM746 264h1v1h-1zM747 263h1v1h-1zM748 262h1v1h-1zM749 261h1v1h-1zM750 260h1v1h-1zM751 260h1v1h-1zM752 259h1v1h-1zM753 258h1v1h-1zM754 257h1v1h-1zM755 256h1v1h-1zM756 255h1v1h-1zM757 255h1v1h-1zM758 254h1v1h-1zM759 253h1v1h-1zM760 252h1v1h-1zM761 252h1v1h-1zM762 251h1v1h-1zM763 250h1v1h-1zM764 250h1v1h-1zM765 249h1v1h-1zM766 248h1v1h-1zM767 248h1v1h-1zM768 247h1v1h-1zM769 247h1v1h-1zM770 246h1v1h-1zM771 245h1v1h-1zM772 245h1v1h-1zM773 244h1v1h-1zM774 244h1v1h-1zM775 243h1v1h-1zM776 243h1v1h-1zM777 242h1v1h-1zM778 242h1v1h-1zM779 241h1v1h-1zM780 241h1v1h-1zM781 240h1v1h-1zM782 239h1v1h-1zM783 239h1v1h-1zM784 238h1v1h-1zM785 238h1v1h-1zM786 237h1v1h-1zM787 236h1v1h-1zM788 236h1v1h-1zM789 235h1v1h-1zM790 234h1v1h-1zM791 234h1v1h-1zM792 233h1v1h-1zM793 233h1v1h-1zM794 232h1v1h-1zM795 231h1v1h-1zM796 231h1v1h-1zM797 230h1v1h-1zM798 229h1v1h-1zM799 229h1v1h-1zM800 228h1v1h-1zM801 228h1v1h-1zM802 227h1v1h-1zM803 226h1v1h-1zM804 226h1v1h-1zM805 225h1v1h-1zM806 225h1v1h-1zM807 224h1v1h-1zM808 224h1v1h-1zM809 223h1v1h-1zM810 223h1v1h-1zM811 223h1v1h-1zM812 222h1v1h-1zM813 222h1v1h-1zM814 221h1v1h-1zM815 221h1v1h-1zM816 221h1v1h-1zM817 220h1v1h-1zM818 220h1v1h-1zM819 220h1v1h-1zM820 219h1v1h-1zM821 219h1v1h-1zM822 218h1v1h-1zM823 218h1v1h-1zM824 218h1v1h-1zM825 217h1v1h-1zM826 217h1v1h-1zM827 217h1v1h-1zM828 216h1v1h-1zM829 216h1v1h-1zM830 216h1v1h-1zM831 216h1v1h-1zM832 215h1v1h-1zM833 215h1v1h-1zM834 215h1v1h-1zM835 214h1v1h-1zM836 214h1v1h-1zM837 213h1v1h-1zM838 213h1v1h-1zM839 212h1v1h-1zM840 212h1v1h-1zM841 211h1v1h-1zM842 211h1v1h-1zM843 211h1v1h-1zM844 210h1v1h-1zM845 210h1v1h-1zM846 209h1v1h-1zM847 209h1v1h-1zM848 209h1v1h-1zM849 208h1v1h-1zM850 208h1v1h-1zM851 208h1v1h-1zM852 207h1v1h-1zM853 207h1v1h-1zM854 207h1v1h-1zM855 207h1v1h-1zM856 206h1v1h-1zM857 206h1v1h-1zM858 206h1v1h-1zM859 206h1v1h-1zM860 205h1v1h-1zM861 205h1v1h-1zM862 205h1v1h-1zM863 205h1v1h-1zM864 204h1v1h-1zM865 204h1v1h-1zM866 204h1v1h-1zM867 204h1v1h-1zM868 203h1v1h-1zM869 203h1v1h-1zM870 203h1v1h-1zM871 203h1v1h-1zM872 202h1v1h-1zM873 202h1v1h-1zM874 202h1v1h-1zM875 202h1v1h-1zM876 201h1v1h-1zM877 201h1v1h-1zM878 201h1v1h-1zM879 201h1v1h-1zM880 200h1v1h-1zM881 200h1v1h-1zM882 200h1v1h-1zM883 200h1v1h-1zM884 199h1v1h-1zM885 199h1v1h-1zM886 199h1v1h-1zM887 199h1v1h-1zM888 198h1v1h-1zM889 198h1v1h-1zM890 198h1v1h-1zM891 198h1v1h-1zM892 197h1v1h-1zM893 197h1v1h-1zM894 197h1v1h-1zM895 197h1v1h-1zM896 196h1v1h-1zM897 196h1v1h-1zM898 196h1v1h-1zM899 196h1v1h-1zM900 195h1v1h-1zM901 195h1v1h-1zM902 195h1v1h-1zM903 195h1v1h-1zM904 194h1v1h-1zM905 194h1v1h-1zM906 194h1v1h-1zM907 194h1v1h-1zM908 194h1v1h-1zM909 194h1v1h-1zM910 194h1v1h-1zM911 194h1v1h-1zM912 194h1v1h-1zM913 194h1v1h-1zM914 194h1v1h-1zM915 194h1v1h-1zM916 194h1v1h-1zM917 194h1v1h-1zM918 193h1v1h-1zM919 193h1v1h-1zM920 193h1v1h-1zM921 193h1v1h-1zM922 193h1v1h-1zM923 193h1v1h-1zM924 193h1v1h-1zM925 193h1v1h-1zM926 193h1v1h-1zM927 193h1v1h-1zM928 193h1v1h-1zM929 193h1v1h-1zM930 193h1v1h-1zM931 193h1v1h-1zM932 193h1v1h-1zM933 193h1v1h-1zM934 193h1v1h-1zM935 193h1v1h-1zM936 193h1v1h-1zM937 193h1v1h-1zM938 193h1v1h-1zM939 193h1v1h-1zM940 193h1v1h-1zM941 193h1v1h-1zM942 194h1v1h-1zM943 194h1v1h-1zM944 194h1v1h-1zM945 194h1v1h-1zM946 194h1v1h-1zM947 194h1v1h-1zM948 194h1v1h-1zM949 194h1v1h-1zM950 195h1v1h-1zM951 195h1v1h-1zM952 195h1v1h-1zM953 195h1v1h-1zM954 195h1v1h-1zM955 195h1v1h-1zM956 195h1v1h-1zM957 195h1v1h-1zM958 195h1v1h-1zM959 195h1v1h-1zM960 195h1v1h-1zM961 195h1v1h-1zM962 195h1v1h-1zM963 195h1v1h-1zM964 195h1v1h-1zM965 195h1v1h-1zM966 195h1v1h-1zM967 195h1v1h-1zM968 195h1v1h-1zM969 195h1v1h-1zM970 195h1v1h-1zM971 195h1v1h-1zM972 195h1v1h-1zM973 195h1v1h-1zM974 195h1v1h-1zM975 195h1v1h-1zM976 195h1v1h-1zM977 195h1v1h-1zM978 195h1v1h-1zM979 195h1v1h-1zM980 195h1v1h-1zM981 195h1v1h-1zM982 196h1v1h-1zM983 196h1v1h-1zM984 196h1v1h-1zM985 196h1v1h-1zM986 196h1v1h-1zM987 196h1v1h-1zM988 196h1v1h-1zM989 196h1v1h-1zM990 196h1v1h-1zM991 196h1v1h-1zM992 196h1v1h-1zM993 196h1v1h-1zM994 196h1v1h-1zM995 196h1v1h-1zM996 196h1v1h-1zM997 196h1v1h-1zM998 196h1v1h-1zM999 196h1v1h-1zM1000 196h1v1h-1zM1001 196h1v1h-1zM1002 196h1v1h-1zM1003 196h1v1h-1zM1004 196h1v1h-1zM1005 196h1v1h-1zM1006 196h1v1h-1zM1007 196h1v1h-1zM1008 196h1v1h-1zM1009 196h1v1h-1zM1010 196h1v1h-1zM1011 196h1v1h-1zM1012 196h1v1h-1zM1013 196h1v1h-1zM1014 195h1v1h-1zM1015 195h1v1h-1zM1016 195h1v1h-1zM1017 195h1v1h-1zM1018 195h1v1h-1zM1019 195h1v1h-1zM1020 195h1v1h-1zM1021 195h1v1h-1zM1022 194h1v1h-1zM1023 194h1v1h-1zM1024 194h1v1h-1zM1025 194h1v1h-1zM1026 194h1v1h-1zM1027 194h1v1h-1zM1028 194h1v1h-1zM1029 194h1v1h-1zM1030 194h1v1h-1zM1031 194h1v1h-1zM1032 194h1v1h-1zM1033 194h1v1h-1zM1034 194h1v1h-1zM1035 194h1v1h-1zM1036 194h1v1h-1zM1037 194h1v1h-1zM1038 194h1v1h-1zM1039 194h1v1h-1zM1040 194h1v1h-1zM1041 194h1v1h-1zM1042 194h1v1h-1zM1043 194h1v1h-1zM1044 193h1v1h-1zM1045 193h1v1h-1zM1046 193h1v1h-1zM1047 193h1v1h-1zM1048 192h1v1h-1zM1049 192h1v1h-1zM1050 192h1v1h-1zM1051 192h1v1h-1zM1052 191h1v1h-1zM1053 191h1v1h-1zM1054 190h1v1h-1zM1055 190h1v1h-1zM1056 190h1v1h-1zM1057 189h1v1h-1zM1058 189h1v1h-1zM1059 189h1v1h-1zM1060 188h1v1h-1zM1061 188h1v1h-1zM1062 187h1v1h-1zM1063 187h1v1h-1zM1064 187h1v1h-1zM1065 186h1v1h-1zM1066 186h1v1h-1zM1067 186h1v1h-1zM1068 185h1v1h-1zM1069 185h1v1h-1zM1070 184h1v1h-1zM1071 184h1v1h-1zM1072 184h1v1h-1zM1073 183h1v1h-1zM1074 183h1v1h-1zM1075 183h1v1h-1zM1076 182h1v1h-1zM1077 182h1v1h-1zM1078 181h1v1h-1zM1079 181h1v1h-1zM1080 181h1v1h-1zM1081 180h1v1h-1zM1082 180h1v1h-1zM1083 180h1v1h-1zM1084 179h1v1h-1zM1085 179h1v1h-1zM1086 178h1v1h-1zM1087 178h1v1h-1zM1088 178h1v1h-1zM1089 177h1v1h-1zM1090 177h1v1h-1zM1091 177h1v1h-1zM1092 177h1v1h-1zM1093 177h1v1h-1zM1094 176h1v1h-1zM1095 176h1v1h-1zM1096 176h1v1h-1zM1097 176h1v1h-1zM1098 176h1v1h-1zM1099 176h1v1h-1zM1100 176h1v1h-1zM1101 176h1v1h-1zM1102 176h1v1h-1zM1103 176h1v1h-1zM1104 176h1v1h-1zM1105 176h1v1h-1zM1106 176h1v1h-1zM1107 176h1v1h-1zM1108 176h1v1h-1zM1109 176h1v1h-1zM1110 175h1v1h-1zM1111 175h1v1h-1zM1112 175h1v1h-1zM1113 175h1v1h-1zM1114 175h1v1h-1zM1115 175h1v1h-1zM1116 175h1v1h-1zM1117 175h1v1h-1zM1118 174h1v1h-1zM1119 174h1v1h-1zM1120 174h1v1h-1zM1121 174h1v1h-1zM1122 174h1v1h-1zM1123 174h1v1h-1zM1124 173h1v1h-1zM1125 173h1v1h-1zM1126 173h1v1h-1zM1127 173h1v1h-1zM1128 172h1v1h-1zM1129 172h1v1h-1zM1130 172h1v1h-1zM1131 172h1v1h-1zM1132 172h1v1h-1zM1133 172h1v1h-1zM1134 171h1v1h-1zM1135 171h1v1h-1zM1136 171h1v1h-1zM1137 171h1v1h-1zM1138 171h1v1h-1zM1139 171h1v1h-1zM1140 171h1v1h-1zM1141 171h1v1h-1zM1142 170h1v1h-1zM1143 170h1v1h-1zM1144 170h1v1h-1zM1145 170h1v1h-1zM1146 170h1v1h-1zM1147 170h1v1h-1zM1148 170h1v1h-1zM1149 170h1v1h-1zM1150 170h1v1h-1zM1151 170h1v1h-1zM1152 170h1v1h-1zM1153 170h1v1h-1zM1154 170h1v1h-1zM1155 170h1v1h-1zM1156 170h1v1h-1zM1157 170h1v1h-1zM1158 169h1v1h-1zM1159 169h1v1h-1zM1160 169h1v1h-1zM1161 169h1v1h-1zM1162 169h1v1h-1zM1163 169h1v1h-1zM1164 168h1v1h-1zM1165 168h1v1h-1zM1166 168h1v1h-1zM1167 168h1v1h-1zM1168 167h1v1h-1zM1169 167h1v1h-1zM1170 167h1v1h-1zM1171 167h1v1h-1zM1172 166h1v1h-1zM1173 166h1v1h-1zM1174 166h1v1h-1zM1175 166h1v1h-1zM1176 165h1v1h-1zM1177 165h1v1h-1zM1178 165h1v1h-1zM1179 165h1v1h-1zM1180 164h1v1h-1zM1181 164h1v1h-1zM1182 164h1v1h-1zM1183 164h1v1h-1zM1184 163h1v1h-1zM1185 163h1v1h-1zM1186 163h1v1h-1zM1187 163h1v1h-1zM1188 162h1v1h-1zM1189 162h1v1h-1zM1190 162h1v1h-1zM1191 162h1v1h-1zM1192 161h1v1h-1zM1193 161h1v1h-1zM1194 161h1v1h-1zM1195 161h1v1h-1zM1196 161h1v1h-1zM1197 161h1v1h-1zM1198 160h1v1h-1zM1199 160h1v1h-1zM1200 160h1v1h-1zM1201 160h1v1h-1zM1202 160h1v1h-1zM1203 160h1v1h-1zM1204 160h1v1h-1zM1205 160h1v1h-1zM1206 159h1v1h-1zM1207 159h1v1h-1zM1208 159h1v1h-1zM1209 159h1v1h-1zM1210 159h1v1h-1zM1211 159h1v1h-1zM1212 159h1v1h-1zM1213 159h1v1h-1zM1214 159h1v1h-1zM1215 159h1v1h-1zM1216 159h1v1h-1zM1217 159h1v1h-1zM1218 159h1v1h-1zM1219 159h1v1h-1zM1220 159h1v1h-1zM1221 159h1v1h-1zM1222 159h1v1h-1zM1223 159h1v1h-1zM1224 159h1v1h-1zM1225 159h1v1h-1zM1226 159h1v1h-1zM1227 159h1v1h-1zM1228 159h1v1h-1zM1229 159h1v1h-1zM1230 159h1v1h-1zM1231 159h1v1h-1zM1232 159h1v1h-1zM1233 159h1v1h-1zM1234 159h1v1h-1zM1235 159h1v1h-1zM1236 159h1v1h-1zM1237 159h1v1h-1zM1238 159h1v1h-1zM1239 159h1v1h-1zM1240 159h1v1h-1zM1241 159h1v1h-1zM1242 159h1v1h-1z" fill="#0000cd"/>
<path d="M2 396h1v1h-1zM3 396h1v1h-1zM4 396h1v1h-1zM5 396h1v1h-1zM6 395h1v1h-1zM7 395h1v1h-1zM8 395h1v1h-1zM9 395h1v1h-1zM10 395h1v1h-1zM11 395h1v1h-1zM12 395h1v1h-1zM13 395h1v1h-1zM14 394h1v1h-1zM15 394h1v1h-1zM16 394h1v1h-1zM17 394h1v1h-1zM18 394h1v1h-1zM19 394h1v1h-1zM20 395h1v1h-1zM21 395h1v1h-1zM22 395h1v1h-1zM23 395h1v1h-1zM24 396h1v1h-1zM25 396h1v1h-1zM26 396h1v1h-1zM27 396h1v1h-1zM28 397h1v1h-1zM29 397h1v1h-1zM30 398h1v1h-1zM31 398h1v1h-1zM32 398h1v1h-1zM33 399h1v1h-1zM34 399h1v1h-1zM35 400h1v1h-1zM36 401h1v1h-1zM37 402h1v1h-1zM38 403h1v1h-1zM39 404h1v1h-1zM40 405h1v1h-1zM41 406h1v1h-1zM42 407h1v1h-1zM43 408h1v1h-1zM44 409h1v1h-1zM45 409h1v1h-1zM46 410h1v1h-1zM47 411h1v1h-1zM48 412h1v1h-1zM49 412h1v1h-1zM50 413h1v1h-1zM51 414h1v1h-1zM52 415h1v2h-1zM53 417h1v1h-1zM54 418h1v1h-1zM55 419h1v1h-1zM56 420h1v2h-1zM57 422h1v1h-1zM58 423h1v1h-1zM59 424h1v1h-1zM60 425h1v1h-1zM61 426h1v1h-1zM62 427h1v2h-1zM63 429h1v1h-1zM64 430h1v1h-1zM65 431h1v1h-1zM66 432h1v1h-1zM67 433h1v1h-1zM68 434h1v1h-1zM69 434h1v1h-1zM70 435h1v1h-1zM71 436h1v1h-1zM72 437h1v1h-1zM73 437h1v1h-1zM74 438h1v1h-1zM75 439h1v1h-1zM76 440h1v1h-1zM77 440h1v1h-1zM78 441h1v1h-1zM79 442h1v1h-1zM80 443h1v1h-1zM81 443h1v1h-1zM82 444h1v1h-1zM83 445h1v1h-1zM84 445h1v1h-1zM85 446h1v1h-1zM86 446h1v1h-1zM87 447h1v1h-1zM88 447h1v1h-1zM89 448h1v1h-1zM90 448h1v1h-1zM91 449h1v1h-1zM92 449h1v1h-1zM93 450h1v1h-1zM94 450h1v1h-1zM95 451h1v1h-1zM96 451h1v1h-1zM97 452h1v1h-1zM98 452h1v1h-1zM99 453h1v1h-1zM100 454h1v1h-1zM101 455h1v1h-1zM102 456h1v1h-1zM103 456h1v1h-1zM104 457h1v1h-1zM105 458h1v1h-1zM106 459h1v1h-1zM107 460h1v1h-1zM108 460h1v1h-1zM109 461h1v1h-1zM110 461h1v1h-1zM111 462h1v1h-1zM112 462h1v1h-1zM113 463h1v1h-1zM114 463h1v1h-1zM115 464h1v1h-1zM116 464h1v1h-1zM117 465h1v1h-1zM118 466h1v1h-1zM119 466h1v1h-1zM120 467h1v1h-1zM121 467h1v1h-1zM122 468h1v1h-1zM123 469h1v1h-1zM124 469h1v1h-1zM125 470h1v1h-1zM126 471h1v1h-1zM127 471h1v1h-1zM128 472h1v1h-1zM129 472h1v1h-1zM130 473h1v1h-1zM131 473h1v1h-1zM132 474h1v1h-1zM133 474h1v1h-1zM134 474h1v1h-1zM135 474h1v1h-1zM136 475h1v1h-1zM137 475h1v1h-1zM138 475h1v1h-1zM139 475h1v1h-1zM140 475h1v1h-1zM141 475h1v1h-1zM142 476h1v1h-1zM143 476h1v1h-1zM144 476h1v1h-1zM145 476h1v1h-1zM146 476h1v1h-1zM147 475h1v1h-1zM148 475h1v1h-1zM149 474h1v1h-1zM150 473h1v1h-1zM151 473h1v1h-1zM152 472h1v1h-1zM153 472h1v1h-1zM154 471h1v1h-1zM155 470h1v1h-1zM156 469h1v1h-1zM157 469h1v1h-1zM158 468h1v1h-1zM159 467h1v1h-1zM160 466h1v1h-1zM161 466h1v1h-1zM162 465h1v1h-1zM163 464h1v1h-1zM164 463h1v1h-1zM165 462h1v1h-1zM166 461h1v1h-1zM167 461h1v1h-1zM168 460h1v1h-1zM169 459h1v1h-1zM170 458h1v1h-1zM171 457h1v1h-1zM172 457h1v1h-1zM173 456h1v1h-1zM174 455h1v1h-1zM175 455h1v1h-1zM176 454h1v1h-1zM177 454h1v1h-1zM178 453h1v1h-1zM179 453h1v1h-1zM180 452h1v1h-1zM181 452h1v1h-1zM182 451h1v1h-1zM183 451h1v1h-1zM184 451h1v1h-1zM185 450h1v1h-1zM186 450h1v1h-1zM187 450h1v1h-1zM188 450h1v1h-1zM189 450h1v1h-1zM190 451h1v1h-1zM191 451h1v1h-1zM192 451h1v1h-1zM193 451h1v1h-1zM194 451h1v1h-1zM195 451h1v1h-1zM196 452h1v1h-1zM197 452h1v1h-1zM198 452h1v1h-1zM199 452h1v1h-1zM200 453h1v1h-1zM201 453h1v1h-1zM202 453h1v1h-1zM203 454h1v1h-1zM204 454h1v1h-1zM205 455h1v1h-1zM206 455h1v1h-1zM207 456h1v1h-1zM208 456h1v1h-1zM209 457h1v1h-1zM210 457h1v1h-1zM211 457h1v1h-1zM212 458h1v1h-1zM213 458h1v1h-1zM214 458h1v1h-1zM215 458h1v1h-1zM216 459h1v1h-1zM217 459h1v1h-1zM218 459h1v1h-1zM219 459h1v1h-1zM220 460h1v1h-1zM221 460h1v1h-1zM222 461h1v1h-1zM223 461h1v1h-1zM224 461h1v1h-1zM225 462h1v1h-1zM226 462h1v1h-1zM227 462h1v1h-1zM228 463h1v1h-1zM229 463h1v1h-1zM230 463h1v1h-1zM231 463h1v1h-1zM232 464h1v1h-1zM233 464h1v1h-1zM234 464h1v1h-1zM235 464h1v1h-1zM236 465h1v1h-1zM237 465h1v1h-1zM238 465h1v1h-1zM239 465h1v1h-1zM240 466h1v1h-1zM241 466h1v1h-1zM242 466h1v1h-1zM243 466h1v1h-1zM244 466h1v1h-1zM245 466h1v1h-1zM246 466h1v1h-1zM247 466h1v1h-1zM248 466h1v1h-1zM249 466h1v1h-1zM250 466h1v1h-1zM251 466h1v1h-1zM252 466h1v1h-1zM253 466h1v1h-1zM254 467h1v1h-1zM255 467h1v1h-1zM256 467h1v1h-1zM257 467h1v1h-1zM258 467h1v1h-1zM259 468h1v1h-1zM260 468h1v1h-1zM261 469h1v1h-1zM262 469h1v1h-1zM263 470h1v1h-1zM264 470h1v1h-1zM265 471h1v1h-1zM266 471h1v1h-1zM267 471h1v1h-1zM268 472h1v1h-1zM269 472h1v1h-1zM270 473h1v1h-1zM271 473h1v1h-1zM272 473h1v1h-1zM273 474h1v1h-1zM274 474h1v1h-1zM275 475h1v1h-1zM276 475h1v1h-1zM277 476h1v1h-1zM278 477h1v1h-1zM279 477h1v1h-1zM280 478h1v1h-1zM281 478h1v1h-1zM282 479h1v1h-1zM283 480h1v1h-1zM284 480h1v1h-1zM285 481h1v1h-1zM286 482h1v1h-1zM287 482h1v1h-1zM288 483h1v1h-1zM289 483h1v1h-1zM290 484h1v1h-1zM291 485h1v1h-1zM292 485h1v1h-1zM293 486h1v1h-1zM294 487h1v1h-1zM295 487h1v1h-1zM296 488h1v1h-1zM297 488h1v1h-1zM298 489h1v1h-1zM299 489h1v1h-1zM300 490h1v1h-1zM301 490h1v1h-1zM302 490h1v1h-1zM303 490h1v1h-1zM304 491h1v1h-1zM305 491h1v1h-1zM306 491h1v1h-1zM307 491h1v1h-1zM308 492h1v1h-1zM309 492h1v1h-1zM310 492h1v1h-1zM311 492h1v1h-1zM312 493h1v1h-1zM313 493h1v1h-1zM314 493h1v1h-1zM315 493h1v1h-1zM316 492h1v1h-1zM317 492h1v1h-1zM318 491h1v1h-1zM319 491h1v1h-1zM320 491h1v1h-1zM321 490h1v1h-1zM322 490h1v1h-1zM323 490h1v1h-1zM324 489h1v1h-1zM325 489h1v1h-1zM326 489h1v1h-1zM327 489h1v1h-1zM328 488h1v1h-1zM329 488h1v1h-1zM330 488h1v1h-1zM331 487h1v1h-1zM332 486h1v1h-1zM333 485h1v1h-1zM334 484h1v1h-1zM335 483h1v1h-1zM336 482h1v1h-1zM337 481h1v1h-1zM338 480h1v1h-1zM339 479h1v1h-1zM340 479h1v1h-1zM341 478h1v1h-1zM342 477h1v1h-1zM343 477h1v1h-1zM344 476h1v1h-1zM345 476h1v1h-1zM346 475h1v1h-1zM347 474h1v1h-1zM348 474h1v1h-1zM349 473h1v1h-1zM350 472h1v1h-1zM351 472h1v1h-1zM352 471h1v1h-1zM353 471h1v1h-1zM354 470h1v1h-1zM355 469h1v1h-1zM356 468h1v1h-1zM357 468h1v1h-1zM358 467h1v1h-1zM359 466h1v1h-1zM360 465h1v1h-1zM361 465h1v1h-1zM362 464h1v1h-1zM363 463h1v1h-1zM364 463h1v1h-1zM365 462h1v1h-1zM366 461h1v1h-1zM367 461h1v1h-1zM368 460h1v1h-1zM369 460h1v1h-1zM370 459h1v1h-1zM371 458h1v1h-1zM372 458h1v1h-1zM373 457h1v1h-1zM374 456h1v1h-1zM375 456h1v1h-1zM376 455h1v1h-1zM377 455h1v1h-1zM378 454h1v1h-1zM379 453h1v1h-1zM380 453h1v1h-1zM381 452h1v1h-1zM382 452h1v1h-1zM383 451h1v1h-1zM384 451h1v1h-1zM385 450h1v1h-1zM386 450h1v1h-1zM387 449h1v1h-1zM388 448h1v1h-1zM389 448h1v1h-1zM390 447h1v1h-1zM391 446h1v1h-1zM392 445h1v1h-1zM393 445h1v1h-1zM394 444h1v1h-1zM395 443h1v1h-1zM396 442h1v1h-1zM397 441h1v1h-1zM398 439h1v2h-1zM399 438h1v1h-1zM400 437h1v1h-1zM401 436h1v1h-1zM402 435h1v1h-1zM403 434h1v1h-1zM404 432h1v2h-1zM405 431h1v1h-1zM406 430h1v1h-1zM407 429h1v1h-1zM408 427h1v2h-1zM409 426h1v1h-1zM410 425h1v1h-1zM411 424h1v1h-1zM412 422h1v2h-1zM413 421h1v1h-1zM414 420h1v1h-1zM415 419h1v1h-1zM416 417h1v2h-1zM417 416h1v1h-1zM418 415h1v1h-1zM419 414h1v1h-1zM420 413h1v1h-1zM421 412h1v1h-1zM422 410h1v2h-1zM423 409h1v1h-1zM424 408h1v1h-1zM425 407h1v1h-1zM426 406h1v1h-1zM427 405h1v1h-1zM428 405h1v1h-1zM429 404h1v1h-1zM430 404h1v1h-1zM431 403h1v1h-1zM432 403h1v1h-1zM433 402h1v1h-1zM434 402h1v1h-1zM435 401h1v1h-1zM436 401h1v1h-1zM437 400h1v1h-1zM438 399h1v1h-1zM439 399h1v1h-1zM440 398h1v1h-1zM441 398h1v1h-1zM442 397h1v1h-1zM443 397h1v1h-1zM444 396h1v1h-1zM445 396h1v1h-1zM446 396h1v1h-1zM447 396h1v1h-1zM448 395h1v1h-1zM449 395h1v1h-1zM450 395h1v1h-1zM451 395h1v1h-1zM452 395h1v1h-1zM453 395h1v1h-1zM454 395h1v1h-1zM455 395h1v1h-1zM456 395h1v1h-1zM457 395h1v1h-1zM458 395h1v1h-1zM459 395h1v1h-1zM460 394h1v1h-1zM461 394h1v1h-1zM462 393h1v1h-1zM463 393h1v1h-1zM464 393h1v1h-1zM465 392h1v1h-1zM466 392h1v1h-1zM467 392h1v1h-1zM468 391h1v1h-1zM469 391h1v1h-1zM470 391h1v1h-1zM471 391h1v1h-1zM472 390h1v1h-1zM473 390h1v1h-1zM474 390h1v1h-1zM475 390h1v1h-1zM476 389h1v1h-1zM477 389h1v1h-1zM478 388h1v1h-1zM479 388h1v1h-1zM480 388h1v1h-1zM481 387h1v1h-1zM482 387h1v1h-1zM483 386h1v1h-1zM484 386h1v1h-1zM485 385h1v1h-1zM486 385h1v1h-1zM487 384h1v1h-1zM488 384h1v1h-1zM489 383h1v1h-1zM490 383h1v1h-1zM491 382h1v1h-1zM492 382h1v1h-1zM493 381h1v1h-1zM494 380h1v1h-1zM495 380h1v1h-1zM496 379h1v1h-1zM497 379h1v1h-1zM498 378h1v1h-1zM499 377h1v1h-1zM500 377h1v1h-1zM501 376h1v1h-1zM502 376h1v1h-1zM503 375h1v1h-1zM504 375h1v1h-1zM505 374h1v1h-1zM506 374h1v1h-1zM507 374h1v1h-1zM508 373h1v1h-1zM509 373h1v1h-1zM510 372h1v1h-1zM511 372h1v1h-1zM512 372h1v1h-1zM513 371h1v1h-1zM514 371h1v1h-1zM515 371h1v1h-1zM516 370h1v1h-1zM517 370h1v1h-1zM518 370h1v1h-1zM519 370h1v1h-1zM520 369h1v1h-1zM521 369h1v1h-1zM522 369h1v1h-1zM523 368h1v1h-1zM524 368h1v1h-1zM525 367h1v1h-1zM526 366h1v1h-1zM527 366h1v1h-1zM528 365h1v1h-1zM529 365h1v1h-1zM530 364h1v1h-1zM531 363h1v1h-1zM532 363h1v1h-1zM533 362h1v1h-1zM534 362h1v1h-1zM535 361h1v1h-1zM536 361h1v1h-1zM537 360h1v1h-1zM538 360h1v1h-1zM539 359h1v1h-1zM540 359h1v1h-1zM541 358h1v1h-1zM542 357h1v1h-1zM543 357h1v1h-1zM544 356h1v1h-1zM545 356h1v1h-1zM546 355h1v1h-1zM547 354h1v1h-1zM548 354h1v1h-1zM549 353h1v1h-1zM550 352h1v1h-1zM551 352h1v1h-1zM552 351h1v1h-1zM553 351h1v1h-1zM554 350h1v1h-1zM555 350h1v1h-1zM556 349h1v1h-1zM557 349h1v1h-1zM558 348h1v1h-1zM559 348h1v1h-1zM560 348h1v1h-1zM561 347h1v1h-1zM562 347h1v1h-1zM563 346h1v1h-1zM564 345h1v1h-1zM565 344h1v1h-1zM566 343h1v1h-1zM567 343h1v1h-1zM568 342h1v1h-1zM569 341h1v1h-1zM570 340h1v1h-1zM571 339h1v1h-1zM572 339h1v1h-1zM573 338h1v1h-1zM574 337h1v1h-1zM575 337h1v1h-1zM576 336h1v1h-1zM577 336h1v1h-1zM578 335h1v1h-1zM579 334h1v1h-1zM580 333h1v1h-1zM581 332h1v1h-1zM582 331h1v1h-1zM583 331h1v1h-1zM584 330h1v1h-1zM585 329h1v1h-1zM586 328h1v1h-1zM587 327h1v1h-1zM588 326h1v1h-1zM589 326h1v1h-1zM590 325h1v1h-1zM591 324h1v1h-1zM592 323h1v1h-1zM593 323h1v1h-1zM594 322h1v1h-1zM595 321h1v1h-1zM596 321h1v1h-1zM597 320h1v1h-1zM598 319h1v1h-1zM599 319h1v1h-1zM600 318h1v1h-1zM601 318h1v1h-1zM602 317h1v1h-1zM603 316h1v1h-1zM604 316h1v1h-1zM605 315h1v1h-1zM606 314h1v1h-1zM607 314h1v1h-1zM608 313h1v1h-1zM609 313h1v1h-1zM610 312h1v1h-1zM611 311h1v1h-1zM612 310h1v1h-1zM613 309h1v1h-1zM614 308h1v1h-1zM615 308h1v1h-1zM616 307h1v1h-1zM617 306h1v1h-1zM618 305h1v1h-1zM619 304h1v1h-1zM620 303h1v1h-1zM621 302h1v1h-1zM622 300h1v2h-1zM623 299h1v1h-1zM624 298h1v1h-1zM625 297h1v1h-1zM626 296h1v1h-1zM627 295h1v1h-1zM628 294h1v1h-1zM629 293h1v1h-1zM630 292h1v1h-1zM631 291h1v1h-1zM632 290h1v1h-1zM633 289h1v1h-1zM634 288h1v1h-1zM635 287h1v1h-1zM636 287h1v1h-1zM637 286h1v1h-1zM638 285h1v1h-1zM639 285h1v1h-1zM640 284h1v1h-1zM641 284h1v1h-1zM642 283h1v1h-1zM643 282h1v1h-1zM644 282h1v1h-1zM645 281h1v1h-1zM646 280h1v1h-1zM647 280h1v1h-1zM648 279h1v1h-1zM649 279h1v1h-1zM650 278h1v1h-1zM651 278h1v1h-1zM652 277h1v1h-1zM653 277h1v1h-1zM654 277h1v1h-1zM655 277h1v1h-1zM656 276h1v1h-1zM657 276h1v1h-1zM658 276h1v1h-1zM659 275h1v1h-1zM660 275h1v1h-1zM661 274h1v1h-1zM662 273h1v1h-1zM663 273h1v1h-1zM664 272h1v1h-1zM665 272h1v1h-1zM666 271h1v1h-1zM667 270h1v1h-1zM668 269h1v1h-1zM669 269h1v1h-1zM670 268h1v1h-1zM671 267h1v1h-1zM672 266h1v1h-1zM673 266h1v1h-1zM674 265h1v1h-1zM675 264h1v1h-1zM676 264h1v1h-1zM677 263h1v1h-1zM678 262h1v1h-1zM679 262h1v1h-1zM680 261h1v1h-1zM681 261h1v1h-1zM682 260h1v1h-1zM683 260h1v1h-1zM684 260h1v1h-1zM685 260h1v1h-1zM686 259h1v1h-1zM687 259h1v1h-1zM688 259h1v1h-1zM689 259h1v1h-1zM690 259h1v1h-1zM691 259h1v1h-1zM692 258h1v1h-1zM693 258h1v1h-1zM694 257h1v1h-1zM695 257h1v1h-1zM696 257h1v1h-1zM697 256h1v1h-1zM698 256h1v1h-1zM699 255h1v1h-1zM700 255h1v1h-1zM701 254h1v1h-1zM702 253h1v1h-1zM703 253h1v1h-1zM704 252h1v1h-1zM705 252h1v1h-1zM706 251h1v1h-1zM707 250h1v1h-1zM708 249h1v1h-1zM709 249h1v1h-1zM710 248h1v1h-1zM711 247h1v1h-1zM712 246h1v1h-1zM713 246h1v1h-1zM714 245h1v1h-1zM715 244h1v1h-1zM716 243h1v1h-1zM717 243h1v1h-1zM718 242h1v1h-1zM719 241h1v1h-1zM720 240h1v1h-1zM721 240h1v1h-1zM722 239h1v1h-1zM723 238h1v1h-1zM724 238h1v1h-1zM725 237h1v1h-1zM726 237h1v1h-1zM727 236h1v1h-1zM728 236h1v1h-1zM729 235h1v1h-1zM730 235h1v1h-1zM731 235h1v1h-1zM732 234h1v1h-1zM733 234h1v1h-1zM734 233h1v1h-1zM735 233h1v1h-1zM736 233h1v1h-1zM737 232h1v1h-1zM738 232h1v1h-1zM739 231h1v1h-1zM740 230h1v1h-1zM741 230h1v1h-1zM742 229h1v1h-1zM743 228h1v1h-1zM744 227h1v1h-1zM745 227h1v1h-1zM746 226h1v1h-1zM747 225h1v1h-1zM748 225h1v1h-1zM749 224h1v1h-1zM750 224h1v1h-1zM751 223h1v1h-1zM752 223h1v1h-1zM753 222h1v1h-1zM754 222h1v1h-1zM755 221h1v1h-1zM756 220h1v1h-1zM757 219h1v1h-1zM758 218h1v1h-1zM759 217h1v1h-1zM760 216h1v1h-1zM761 215h1v1h-1zM762 214h1v1h-1zM763 213h1v1h-1zM764 212h1v1h-1zM765 211h1v1h-1zM766 210h1v1h-1zM767 209h1v1h-1zM768 208h1v1h-1zM769 207h1v1h-1zM770 206h1v1h-1zM771 205h1v1h-1zM772 205h1v1h-1zM773 204h1v1h-1zM774 204h1v1h-1zM775 203h1v1h-1zM776 203h1v1h-1zM777 202h1v1h-1zM778 202h1v1h-1zM779 201h1v1h-1zM780 201h1v1h-1zM781 200h1v1h-1zM782 200h1v1h-1zM783 199h1v1h-1zM784 199h1v1h-1zM785 198h1v1h-1zM786 198h1v1h-1zM787 197h1v1h-1zM788 196h1v1h-1zM789 196h1v1h-1zM790 195h1v1h-1zM791 194h1v1h-1zM792 193h1v1h-1zM793 193h1v1h-1zM794 192h1v1h-1zM795 191h1v1h-1zM796 190h1v1h-1zM797 189h1v1h-1zM798 188h1v1h-1zM799 188h1v1h-1zM800 187h1v1h-1zM801 186h1v1h-1zM802 185h1v1h-1zM803 185h1v1h-1zM804 184h1v1h-1zM805 184h1v1h-1zM806 183h1v1h-1zM807 183h1v1h-1zM808 183h1v1h-1zM809 182h1v1h-1zM810 182h1v1h-1zM811 182h1v1h-1zM812 182h1v1h-1zM813 182h1v1h-1zM814 181h1v1h-1zM815 181h1v1h-1zM816 181h1v1h-1zM817 181h1v1h-1zM818 181h1v1h-1zM819 181h1v1h-1zM820 181h1v1h-1zM821 181h1v1h-1zM822 182h1v1h-1zM823 182h1v1h-1zM824 182h1v1h-1zM825 182h1v1h-1zM826 182h1v1h-1zM827 182h1v1h-1zM828 182h1v1h-1zM829 182h1v1h-1zM830 182h1v1h-1zM831 182h1v1h-1zM832 182h1v1h-1zM833 182h1v1h-1zM834 182h1v1h-1zM835 182h1v1h-1zM836 181h1v1h-1zM837 181h1v1h-1zM838 181h1v1h-1zM839 181h1v1h-1zM840 180h1v1h-1zM841 180h1v1h-1zM842 180h1v1h-1zM843 180h1v1h-1zM844 180h1v1h-1zM845 180h1v1h-1zM846 179h1v1h-1zM847 179h1v1h-1zM848 179h1v1h-1zM849 179h1v1h-1zM850 179h1v1h-1zM851 179h1v1h-1zM852 180h1v1h-1zM853 180h1v1h-1zM854 180h1v1h-1zM855 180h1v1h-1zM856 181h1v1h-1zM857 181h1v1h-1zM858 181h1v1h-1zM859 181h1v1h-1zM860 181h1v1h-1zM861 181h1v1h-1zM862 182h1v1h-1zM863 182h1v1h-1zM864 182h1v1h-1zM865 182h1v1h-1zM866 182h1v1h-1zM867 182h1v1h-1zM868 183h1v1h-1zM869 183h1v1h-1zM870 183h1v1h-1zM871 183h1v1h-1zM872 184h1v1h-1zM873 184h1v1h-1zM874 184h1v1h-1zM875 184h1v1h-1zM876 184h1v1h-1zM877 184h1v1h-1zM878 184h1v1h-1zM879 184h1v1h-1zM880 184h1v1h-1zM881 184h1v1h-1zM882 184h1v1h-1zM883 184h1v1h-1zM884 184h1v1h-1zM885 184h1v1h-1zM886 185h1v1h-1zM887 185h1v1h-1zM888 185h1v1h-1zM889 185h1v1h-1zM890 185h1v1h-1zM891 185h1v1h-1zM892 185h1v1h-1zM893 185h1v1h-1zM894 186h1v1h-1zM895 186h1v1h-1zM896 186h1v1h-1zM897 186h1v1h-1zM898 186h1v1h-1zM899 186h1v1h-1zM900 187h1v1h-1zM901 187h1v1h-1zM902 188h1v1h-1zM903 188h1v1h-1zM904 188h1v1h-1zM905 189h1v1h-1zM906 189h1v1h-1zM907 190h1v1h-1zM908 190h1v1h-1zM909 191h1v1h-1zM910 191h1v1h-1zM911 192h1v1h-1zM912 192h1v1h-1zM913 193h1v1h-1zM914 193h1v1h-1zM915 193h1v1h-1zM916 194h1v1h-1zM917 194h1v1h-1zM918 195h1v1h-1zM919 195h1v1h-1zM920 195h1v1h-1zM921 196h1v1h-1zM922 196h1v1h-1zM923 197h1v1h-1zM924 197h1v1h-1zM925 198h1v1h-1zM926 199h1v1h-1zM927 199h1v1h-1zM928 200h1v1h-1zM929 200h1v1h-1zM930 201h1v1h-1zM931 201h1v1h-1zM932 202h1v1h-1zM933 202h1v1h-1zM934 202h1v1h-1zM935 202h1v1h-1zM936 203h1v1h-1zM937 203h1v1h-1zM938 203h1v1h-1zM939 204h1v1h-1zM940 204h1v1h-1zM941 205h1v1h-1zM942 205h1v1h-1zM943 206h1v1h-1zM944 206h1v1h-1zM945 207h1v1h-1zM946 207h1v1h-1zM947 207h1v1h-1zM948 208h1v1h-1zM949 208h1v1h-1zM950 209h1v1h-1zM951 209h1v1h-1zM952 209h1v1h-1zM953 210h1v1h-1zM954 210h1v1h-1zM955 210h1v1h-1zM956 211h1v1h-1zM957 211h1v1h-1zM958 212h1v1h-1zM959 212h1v1h-1zM960 212h1v1h-1zM961 213h1v1h-1zM962 213h1v1h-1zM963 213h1v1h-1zM964 213h1v1h-1zM965 213h1v1h-1zM966 214h1v1h-1zM967 214h1v1h-1zM968 214h1v1h-1zM969 214h1v1h-1zM970 214h1v1h-1zM971 214h1v1h-1zM972 214h1v1h-1zM973 214h1v1h-1zM974 213h1v1h-1zM975 213h1v1h-1zM976 213h1v1h-1zM977 213h1v1h-1zM978 213h1v1h-1zM979 213h1v1h-1zM980 213h1v1h-1zM981 213h1v1h-1zM982 212h1v1h-1zM983 212h1v1h-1zM984 212h1v1h-1zM985 212h1v1h-1zM986 212h1v1h-1zM987 212h1v1h-1zM988 212h1v1h-1zM989 212h1v1h-1zM990 212h1v1h-1zM991 212h1v1h-1zM992 212h1v1h-1zM993 212h1v1h-1zM994 212h1v1h-1zM995 212h1v1h-1zM996 211h1v1h-1zM997 211h1v1h-1zM998 211h1v1h-1zM999 211h1v1h-1zM1000 210h1v1h-1zM1001 210h1v1h-1zM1002 210h1v1h-1zM1003 210h1v1h-1zM1004 209h1v1h-1zM1005 209h1v1h-1zM1006 208h1v1h-1zM1007 208h1v1h-1zM1008 208h1v1h-1zM1009 207h1v1h-1zM1010 207h1v1h-1zM1011 206h1v1h-1zM1012 206h1v1h-1zM1013 205h1v1h-1zM1014 205h1v1h-1zM1015 204h1v1h-1zM1016 204h1v1h-1zM1017 203h1v1h-1zM1018 203h1v1h-1zM1019 202h1v1h-1zM1020 202h1v1h-1zM1021 201h1v1h-1zM1022 200h1v1h-1zM1023 200h1v1h-1zM1024 199h1v1h-1zM1025 199h1v1h-1zM1026 198h1v1h-1zM1027 197h1v1h-1zM1028 197h1v1h-1zM1029 196h1v1h-1zM1030 196h1v1h-1zM1031 195h1v1h-1zM1032 195h1v1h-1zM1033 194h1v1h-1zM1034 194h1v1h-1zM1035 193h1v1h-1zM1036 193h1v1h-1zM1037 192h1v1h-1zM1038 191h1v1h-1zM1039 191h1v1h-1zM1040 190h1v1h-1zM1041 190h1v1h-1zM1042 189h1v1h-1zM1043 188h1v1h-1zM1044 187h1v1h-1zM1045 186h1v1h-1zM1046 184h1v2h-1zM1047 183h1v1h-1zM1048 182h1v1h-1zM1049 181h1v1h-1zM1050 180h1v1h-1zM1051 179h1v1h-1zM1052 178h1v1h-1zM1053 177h1v1h-1zM1054 175h1v2h-1zM1055 174h1v1h-1zM1056 173h1v1h-1zM1057 172h1v1h-1zM1058 171h1v1h-1zM1059 170h1v1h-1zM1060 169h1v1h-1zM1061 168h1v1h-1zM1062 166h1v2h-1zM1063 165h1v1h-1zM1064 164h1v1h-1zM1065 163h1v1h-1zM1066 162h1v1h-1zM1067 161h1v1h-1zM1068 160h1v1h-1zM1069 159h1v1h-1zM1070 158h1v1h-1zM1071 157h1v1h-1zM1072 156h1v1h-1zM1073 155h1v1h-1zM1074 154h1v1h-1zM1075 153h1v1h-1zM1076 152h1v1h-1zM1077 151h1v1h-1zM1078 150h1v1h-1zM1079 150h1v1h-1zM1080 149h1v1h-1zM1081 148h1v1h-1zM1082 147h1v1h-1zM1083 146h1v1h-1zM1084 145h1v1h-1zM1085 144h1v1h-1zM1086 143h1v1h-1zM1087 142h1v1h-1zM1088 141h1v1h-1zM1089 140h1v1h-1zM1090 139h1v1h-1zM1091 139h1v1h-1zM1092 139h1v1h-1zM1093 139h1v1h-1zM1094 138h1v1h-1zM1095 138h1v1h-1zM1096 138h1v1h-1zM1097 138h1v1h-1zM1098 138h1v1h-1zM1099 138h1v1h-1zM1100 139h1v1h-1zM1101 139h1v1h-1zM1102 139h1v1h-1zM1103 139h1v1h-1zM1104 140h1v1h-1zM1105 140h1v1h-1zM1106 140h1v1h-1zM1107 140h1v1h-1zM1108 140h1v1h-1zM1109 140h1v1h-1zM1110 139h1v1h-1zM1111 139h1v1h-1zM1112 139h1v1h-1zM1113 139h1v1h-1zM1114 139h1v1h-1zM1115 139h1v1h-1zM1116 138h1v1h-1zM1117 138h1v1h-1zM1118 138h1v1h-1zM1119 138h1v1h-1zM1120 137h1v1h-1zM1121 137h1v1h-1zM1122 137h1v1h-1zM1123 137h1v1h-1zM1124 137h1v1h-1zM1125 137h1v1h-1zM1126 137h1v1h-1zM1127 137h1v1h-1zM1128 137h1v1h-1zM1129 137h1v1h-1zM1130 137h1v1h-1zM1131 137h1v1h-1zM1132 137h1v1h-1zM1133 137h1v1h-1zM1134 136h1v1h-1zM1135 136h1v1h-1zM1136 136h1v1h-1zM1137 136h1v1h-1zM1138 136h1v1h-1zM1139 136h1v1h-1zM1140 137h1v1h-1zM1141 137h1v1h-1zM1142 137h1v1h-1zM1143 137h1v1h-1zM1144 138h1v1h-1zM1145 138h1v1h-1zM1146 138h1v1h-1zM1147 138h1v1h-1zM1148 139h1v1h-1zM1149 139h1v1h-1zM1150 139h1v1h-1zM1151 139h1v1h-1zM1152 140h1v1h-1zM1153 140h1v1h-1zM1154 140h1v1h-1zM1155 141h1v1h-1zM1156 142h1v1h-1zM1157 143h1v1h-1zM1158 144h1v1h-1zM1159 144h1v1h-1zM1160 145h1v1h-1zM1161 146h1v1h-1zM1162 147h1v1h-1zM1163 148h1v1h-1zM1164 149h1v1h-1zM1165 149h1v1h-1zM1166 150h1v1h-1zM1167 151h1v1h-1zM1168 152h1v1h-1zM1169 152h1v1h-1zM1170 153h1v1h-1zM1171 154h1v1h-1zM1172 155h1v1h-1zM1173 155h1v1h-1zM1174 156h1v1h-1zM1175 157h1v1h-1zM1176 158h1v1h-1zM1177 158h1v1h-1zM1178 159h1v1h-1zM1179 160h1v1h-1zM1180 160h1v1h-1zM1181 161h1v1h-1zM1182 162h1v1h-1zM1183 162h1v1h-1zM1184 163h1v1h-1zM1185 163h1v1h-1zM1186 164h1v1h-1zM1187 165h1v1h-1zM1188 166h1v1h-1zM1189 166h1v1h-1zM1190 167h1v1h-1zM1191 168h1v1h-1zM1192 169h1v1h-1zM1193 169h1v1h-1zM1194 170h1v1h-1zM1195 171h1v1h-1zM1196 172h1v1h-1zM1197 173h1v1h-1zM1198 174h1v1h-1zM1199 174h1v1h-1zM1200 175h1v1h-1zM1201 176h1v1h-1zM1202 177h1v1h-1zM1203 177h1v1h-1zM1204 177h1v1h-1zM1205 177h1v1h-1zM1206 177h1v1h-1zM1207 177h1v1h-1zM1208 177h1v1h-1zM1209 177h1v1h-1zM1210 177h1v1h-1zM1211 177h1v1h-1zM1212 177h1v1h-1zM1213 177h1v1h-1zM1214 176h1v1h-1zM1215 176h1v1h-1zM1216 176h1v1h-1zM1217 176h1v1h-1zM1218 176h1v1h-1zM1219 176h1v1h-1zM1220 177h1v1h-1zM1221 177h1v1h-1zM1222 178h1v1h-1zM1223 178h1v1h-1zM1224 178h1v1h-1zM1225 179h1v1h-1zM1226 179h1v1h-1zM1227 179h1v1h-1zM1228 179h1v1h-1zM1229 179h1v1h-1zM1230 179h1v1h-1zM1231 179h1v1h-1zM1232 179h1v1h-1zM1233 179h1v1h-1zM1234 179h1v1h-1zM1235 179h1v1h-1zM1236 180h1v1h-1zM1237 180h1v1h-1zM1238 181h1v1h-1zM1239 181h1v1h-1zM1240 181h1v1h-1zM1241 182h1v1h-1zM1242 182h1v1h-1z" fill="#ff0000"/>
<path d="M2 390h1v1h-1zM3 389h1v1h-1zM4 389h1v1h-1zM5 388h1v1h-1zM6 388h1v1h-1zM7 387h1v1h-1zM8 387h1v1h-1zM9 386h1v1h-1zM10 386h1v1h-1zM11 386h1v1h-1zM12 386h1v1h-1zM13 386h1v1h-1zM14 386h1v1h-1zM15 386h1v1h-1zM16 386h1v1h-1zM17 386h1v1h-1zM18 386h1v1h-1zM19 387h1v1h-1zM20 388h1v1h-1zM21 389h1v1h-1zM22 390h1v2h-1zM23 392h1v1h-1zM24 393h1v1h-1zM25 394h1v1h-1zM26 395h1v1h-1zM27 396h1v2h-1zM28 398h1v2h-1zM29 400h1v2h-1zM30 402h1v1h-1zM31 403h1v2h-1zM32 405h1v2h-1zM33 407h1v2h-1zM34 409h1v2h-1zM35 411h1v2h-1zM36 413h1v2h-1zM37 415h1v3h-1zM38 418h1v2h-1zM39 420h1v3h-1zM40 423h1v2h-1zM41 425h1v2h-1zM42 427h1v3h-1zM43 430h1v3h-1zM44 433h1v3h-1zM45 436h1v3h-1zM46 439h1v4h-1zM47 443h1v3h-1zM48 446h1v3h-1zM49 449h1v3h-1zM50 452h1v3h-1zM51 455h1v4h-1zM52 459h1v3h-1zM53 462h1v4h-1zM54 466h1v3h-1zM55 469h1v4h-1zM56 473h1v3h-1zM57 476h1v4h-1zM58 480h1v3h-1zM59 483h1v2h-1zM60 485h1v2h-1zM61 487h1v2h-1zM62 489h1v3h-1zM63 492h1v2h-1zM64 494h1v2h-1zM65 496h1v2h-1zM66 498h1v2h-1zM67 500h1v1h-1zM68 501h1v2h-1zM69 503h1v1h-1zM70 504h1v1h-1zM71 505h1v1h-1zM72 506h1v2h-1zM73 508h1v1h-1zM74 509h1v1h-1zM75 509h1v1h-1zM76 508h1v1h-1zM77 508h1v1h-1zM78 508h1v1h-1zM79 508h1v1h-1zM80 507h1v1h-1zM81 507h1v1h-1zM82 507h1v1h-1zM83 505h1v2h-1zM84 504h1v1h-1zM85 503h1v1h-1zM86 501h1v2h-1zM87 500h1v1h-1zM88 499h1v1h-1zM89 497h1v2h-1zM90 495h1v2h-1zM91 493h1v2h-1zM92 491h1v2h-1zM93 489h1v2h-1zM94 487h1v2h-1zM95 485h1v2h-1zM96 483h1v2h-1zM97 481h1v2h-1zM98 479h1v2h-1zM99 477h1v2h-1zM100 476h1v1h-1zM101 474h1v2h-1zM102 473h1v1h-1zM103 471h1v2h-1zM104 470h1v1h-1zM105 468h1v2h-1zM106 467h1v1h-1zM107 466h1v1h-1zM108 465h1v1h-1zM109 464h1v1h-1zM110 463h1v1h-1zM111 462h1v1h-1zM112 461h1v1h-1zM113 460h1v1h-1zM114 459h1v1h-1zM115 458h1v1h-1zM116 457h1v1h-1zM117 456h1v1h-1zM118 455h1v1h-1zM119 455h1v1h-1zM120 454h1v1h-1zM121 453h1v1h-1zM122 452h1v1h-1zM123 452h1v1h-1zM124 452h1v1h-1zM125 452h1v1h-1zM126 453h1v1h-1zM127 453h1v1h-1zM128 453h1v1h-1zM129 453h1v1h-1zM130 453h1v1h-1zM131 454h1v1h-1zM132 454h1v1h-1zM133 455h1v1h-1zM134 456h1v1h-1zM135 456h1v1h-1zM136 457h1v1h-1zM137 457h1v1h-1zM138 458h1v1h-1zM139 458h1v1h-1zM140 457h1v1h-1zM141 457h1v1h-1zM142 457h1v1h-1zM143 457h1v1h-1zM144 456h1v1h-1zM145 456h1v1h-1zM146 456h1v1h-1zM147 455h1v1h-1zM148 454h1v1h-1zM149 453h1v1h-1zM150 452h1v1h-1zM151 452h1v1h-1zM152 451h1v1h-1zM153 450h1v1h-1zM154 449h1v1h-1zM155 448h1v1h-1zM156 448h1v1h-1zM157 447h1v1h-1zM158 446h1v1h-1zM159 446h1v1h-1zM160 445h1v1h-1zM161 445h1v1h-1zM162 444h1v1h-1zM163 443h1v1h-1zM164 442h1v1h-1zM165 442h1v1h-1zM166 441h1v1h-1zM167 440h1v1h-1zM168 439h1v1h-1zM169 439h1v1h-1zM170 438h1v1h-1zM171 438h1v1h-1zM172 437h1v1h-1zM173 437h1v1h-1zM174 437h1v1h-1zM175 437h1v1h-1zM176 436h1v1h-1zM177 436h1v1h-1zM178 436h1v1h-1zM179 436h1v1h-1zM180 436h1v1h-1zM181 436h1v1h-1zM182 435h1v1h-1zM183 435h1v1h-1zM184 435h1v1h-1zM185 435h1v1h-1zM186 435h1v1h-1zM187 436h1v2h-1zM188 438h1v2h-1zM189 440h1v2h-1zM190 442h1v2h-1zM191 444h1v2h-1zM192 446h1v2h-1zM193 448h1v2h-1zM194 450h1v1h-1zM195 451h1v2h-1zM196 453h1v2h-1zM197 455h1v2h-1zM198 457h1v2h-1zM199 459h1v2h-1zM200 461h1v2h-1zM201 463h1v2h-1zM202 465h1v1h-1zM203 466h1v2h-1zM204 468h1v1h-1zM205 469h1v1h-1zM206 470h1v2h-1zM207 472h1v1h-1zM208 473h1v1h-1zM209 474h1v2h-1zM210 476h1v1h-1zM211 477h1v1h-1zM212 478h1v1h-1zM213 479h1v1h-1zM214 480h1v1h-1zM215 480h1v1h-1zM216 481h1v1h-1zM217 482h1v1h-1zM218 483h1v1h-1zM219 484h1v2h-1zM220 486h1v1h-1zM221 487h1v1h-1zM222 488h1v2h-1zM223 490h1v1h-1zM224 491h1v1h-1zM225 492h1v2h-1zM226 494h1v1h-1zM227 493h1v1h-1zM228 493h1v1h-1zM229 492h1v1h-1zM230 492h1v1h-1zM231 491h1v1h-1zM232 491h1v1h-1zM233 490h1v1h-1zM234 490h1v1h-1zM235 490h1v1h-1zM236 489h1v1h-1zM237 489h1v1h-1zM238 488h1v1h-1zM239 488h1v1h-1zM240 488h1v1h-1zM241 487h1v1h-1zM242 487h1v1h-1zM243 487h1v1h-1zM244 486h1v1h-1zM245 486h1v1h-1zM246 485h1v1h-1zM247 485h1v1h-1zM248 485h1v1h-1zM249 484h1v1h-1zM250 484h1v1h-1zM251 483h1v1h-1zM252 483h1v1h-1zM253 482h1v1h-1zM254 482h1v1h-1zM255 481h1v1h-1zM256 481h1v1h-1zM257 480h1v1h-1zM258 480h1v1h-1zM259 479h1v1h-1zM260 478h1v1h-1zM261 478h1v1h-1zM262 477h1v1h-1zM263 476h1v1h-1zM264 475h1v1h-1zM265 475h1v1h-1zM266 474h1v1h-1zM267 474h1v1h-1zM268 473h1v1h-1zM269 473h1v1h-1zM270 473h1v1h-1zM271 473h1v1h-1zM272 472h1v1h-1zM273 472h1v1h-1zM274 472h1v1h-1zM275 473h1v1h-1zM276 473h1v1h-1zM277 474h1v1h-1zM278 474h1v1h-1zM279 475h1v1h-1zM280 475h1v1h-1zM281 476h1v1h-1zM282 476h1v1h-1zM283 477h1v1h-1zM284 478h1v2h-1zM285 480h1v1h-1zM286 481h1v1h-1zM287 482h1v1h-1zM288 483h1v2h-1zM289 485h1v1h-1zM290 486h1v1h-1zM291 487h1v2h-1zM292 489h1v1h-1zM293 490h1v1h-1zM294 491h1v2h-1zM295 493h1v1h-1zM296 494h1v1h-1zM297 495h1v2h-1zM298 497h1v1h-1zM299 498h1v1h-1zM300 499h1v1h-1zM301 500h1v1h-1zM302 501h1v2h-1zM303 503h1v1h-1zM304 504h1v1h-1zM305 505h1v1h-1zM306 506h1v1h-1zM307 507h1v1h-1zM308 508h1v2h-1zM309 510h1v1h-1zM310 511h1v1h-1zM311 512h1v1h-1zM312 513h1v2h-1zM313 515h1v1h-1zM314 516h1v1h-1zM315 515h1v1h-1zM316 513h1v2h-1zM317 512h1v1h-1zM318 511h1v1h-1zM319 510h1v1h-1zM320 508h1v2h-1zM321 507h1v1h-1zM322 506h1v1h-1zM323 504h1v2h-1zM324 502h1v2h-1zM325 500h1v2h-1zM326 499h1v1h-1zM327 497h1v2h-1zM328 495h1v2h-1zM329 493h1v2h-1zM330 491h1v2h-1zM331 488h1v3h-1zM332 485h1v3h-1zM333 482h1v3h-1zM334 479h1v3h-1zM335 476h1v3h-1zM336 473h1v3h-1zM337 470h1v3h-1zM338 467h1v3h-1zM339 464h1v3h-1zM340 461h1v3h-1zM341 458h1v3h-1zM342 456h1v2h-1zM343 453h1v3h-1zM344 450h1v3h-1zM345 447h1v3h-1zM346 444h1v3h-1zM347 441h1v3h-1zM348 439h1v2h-1zM349 436h1v3h-1zM350 433h1v3h-1zM351 430h1v3h-1zM352 428h1v2h-1zM353 425h1v3h-1zM354 423h1v2h-1zM355 421h1v2h-1zM356 420h1v1h-1zM357 418h1v2h-1zM358 417h1v1h-1zM359 415h1v2h-1zM360 414h1v1h-1zM361 412h1v2h-1zM362 411h1v1h-1zM363 409h1v2h-1zM364 408h1v1h-1zM365 407h1v1h-1zM366 405h1v2h-1zM367 404h1v1h-1zM368 403h1v1h-1zM369 401h1v2h-1zM370 400h1v1h-1zM371 400h1v1h-1zM372 400h1v1h-1zM373 400h1v1h-1zM374 401h1v1h-1zM375 401h1v1h-1zM376 401h1v1h-1zM377 401h1v1h-1zM378 401h1v1h-1zM379 401h1v1h-1zM380 401h1v1h-1zM381 401h1v1h-1zM382 401h1v1h-1zM383 401h1v1h-1zM384 401h1v1h-1zM385 401h1v1h-1zM386 401h1v1h-1zM387 401h1v1h-1zM388 402h1v1h-1zM389 402h1v1h-1zM390 402h1v1h-1zM391 402h1v1h-1zM392 403h1v1h-1zM393 403h1v1h-1zM394 403h1v1h-1zM395 403h1v1h-1zM396 404h1v1h-1zM397 404h1v1h-1zM398 405h1v1h-1zM399 405h1v1h-1zM400 405h1v1h-1zM401 406h1v1h-1zM402 406h1v1h-1zM403 405h1v1h-1zM404 405h1v1h-1zM405 404h1v1h-1zM406 403h1v1h-1zM407 403h1v1h-1zM408 402h1v1h-1zM409 402h1v1h-1zM410 401h1v1h-1zM411 401h1v1h-1zM412 400h1v1h-1zM413 400h1v1h-1zM414 399h1v1h-1zM415 399h1v1h-1zM416 399h1v1h-1zM417 398h1v1h-1zM418 398h1v1h-1zM419 397h1v1h-1zM420 396h1v1h-1zM421 396h1v1h-1zM422 395h1v1h-1zM423 394h1v1h-1zM424 393h1v1h-1zM425 393h1v1h-1zM426 392h1v1h-1zM427 392h1v1h-1zM428 391h1v1h-1zM429 391h1v1h-1zM430 390h1v1h-1zM431 390h1v1h-1zM432 390h1v1h-1zM433 389h1v1h-1zM434 389h1v1h-1zM435 388h1v1h-1zM436 388h1v1h-1zM437 387h1v1h-1zM438 387h1v1h-1zM439 386h1v1h-1zM440 386h1v1h-1zM441 385h1v1h-1zM442 385h1v1h-1zM443 385h1v1h-1zM444 385h1v1h-1zM445 385h1v1h-1zM446 386h1v1h-1zM447 386h1v1h-1zM448 386h1v1h-1zM449 386h1v1h-1zM450 386h1v1h-1zM451 386h1v1h-1zM452 387h1v1h-1zM453 387h1v1h-1zM454 387h1v1h-1zM455 387h1v1h-1zM456 388h1v1h-1zM457 388h1v1h-1zM458 388h1v1h-1zM459 388h1v1h-1zM460 387h1v1h-1zM461 387h1v1h-1zM462 387h1v1h-1zM463 387h1v1h-1zM464 386h1v1h-1zM465 386h1v1h-1zM466 386h1v1h-1zM467 385h1v1h-1zM468 384h1v1h-1zM469 383h1v1h-1zM470 382h1v1h-1zM471 381h1v1h-1zM472 380h1v1h-1zM473 379h1v1h-1zM474 378h1v1h-1zM475 377h1v1h-1zM476 377h1v1h-1zM477 376h1v1h-1zM478 375h1v1h-1zM479 375h1v1h-1zM480 374h1v1h-1zM481 374h1v1h-1zM482 373h1v1h-1zM483 372h1v1h-1zM484 371h1v1h-1zM485 370h1v1h-1zM486 369h1v1h-1zM487 368h1v1h-1zM488 367h1v1h-1zM489 366h1v1h-1zM490 365h1v1h-1zM491 364h1v1h-1zM492 362h1v2h-1zM493 361h1v1h-1zM494 360h1v1h-1zM495 359h1v1h-1zM496 357h1v2h-1zM497 356h1v1h-1zM498 355h1v1h-1zM499 355h1v1h-1zM500 354h1v1h-1zM501 354h1v1h-1zM502 354h1v1h-1zM503 354h1v1h-1zM504 353h1v1h-1zM505 353h1v1h-1zM506 353h1v1h-1zM507 353h1v1h-1zM508 353h1v1h-1zM509 353h1v1h-1zM510 353h1v1h-1zM511 353h1v1h-1zM512 353h1v1h-1zM513 353h1v1h-1zM514 353h1v1h-1zM515 353h1v1h-1zM516 352h1v1h-1zM517 352h1v1h-1zM518 352h1v1h-1zM519 352h1v1h-1zM520 351h1v1h-1zM521 351h1v1h-1zM522 351h1v1h-1zM523 350h1v1h-1zM524 350h1v1h-1zM525 349h1v1h-1zM526 348h1v1h-1zM527 348h1v1h-1zM528 347h1v1h-1zM529 347h1v1h-1zM530 346h1v1h-1zM531 345h1v1h-1zM532 345h1v1h-1zM533 344h1v1h-1zM534 344h1v1h-1zM535 343h1v1h-1zM536 343h1v1h-1zM537 342h1v1h-1zM538 342h1v1h-1zM539 341h1v1h-1zM540 340h1v1h-1zM541 339h1v1h-1zM542 338h1v1h-1zM543 338h1v1h-1zM544 337h1v1h-1zM545 336h1v1h-1zM546 335h1v1h-1zM547 334h1v1h-1zM548 333h1v1h-1zM549 332h1v1h-1zM550 330h1v2h-1zM551 329h1v1h-1zM552 328h1v1h-1zM553 327h1v1h-1zM554 326h1v1h-1zM555 326h1v1h-1zM556 325h1v1h-1zM557 325h1v1h-1zM558 324h1v1h-1zM559 324h1v1h-1zM560 324h1v1h-1zM561 323h1v1h-1zM562 323h1v1h-1zM563 323h1v1h-1zM564 322h1v1h-1zM565 322h1v1h-1zM566 322h1v1h-1zM567 322h1v1h-1zM568 321h1v1h-1zM569 321h1v1h-1zM570 321h1v1h-1zM571 320h1v1h-1zM572 319h1v1h-1zM573 318h1v1h-1zM574 317h1v1h-1zM575 316h1v1h-1zM576 315h1v1h-1zM577 314h1v1h-1zM578 313h1v1h-1zM579 312h1v1h-1zM580 311h1v1h-1zM581 310h1v1h-1zM582 308h1v2h-1zM583 307h1v1h-1zM584 306h1v1h-1zM585 305h1v1h-1zM586 304h1v1h-1zM587 303h1v1h-1zM588 302h1v1h-1zM589 301h1v1h-1zM590 299h1v2h-1zM591 298h1v1h-1zM592 297h1v1h-1zM593 296h1v1h-1zM594 295h1v1h-1zM595 293h1v2h-1zM596 292h1v1h-1zM597 290h1v2h-1zM598 289h1v1h-1zM599 287h1v2h-1zM600 286h1v1h-1zM601 284h1v2h-1zM602 283h1v1h-1zM603 282h1v1h-1zM604 281h1v1h-1zM605 280h1v1h-1zM606 279h1v1h-1zM607 279h1v1h-1zM608 278h1v1h-1zM609 277h1v1h-1zM610 276h1v1h-1zM611 275h1v1h-1zM612 275h1v1h-1zM613 274h1v1h-1zM614 273h1v1h-1zM615 273h1v1h-1zM616 272h1v1h-1zM617 272h1v1h-1zM618 271h1v1h-1zM619 270h1v1h-1zM620 269h1v1h-1zM621 268h1v1h-1zM622 267h1v1h-1zM623 266h1v1h-1zM624 265h1v1h-1zM625 264h1v1h-1zM626 263h1v1h-1zM627 262h1v1h-1zM628 261h1v1h-1zM629 260h1v1h-1zM630 259h1v1h-1zM631 259h1v1h-1zM632 258h1v1h-1zM633 257h1v1h-1zM634 256h1v1h-1zM635 255h1v1h-1zM636 254h1v1h-1zM637 253h1v1h-1zM638 252h1v1h-1zM639 251h1v1h-1zM640 250h1v1h-1zM641 249h1v1h-1zM642 248h1v1h-1zM643 248h1v1h-1zM644 248h1v1h-1zM645 248h1v1h-1zM646 247h1v1h-1zM647 247h1v1h-1zM648 247h1v1h-1zM649 247h1v1h-1zM650 247h1v1h-1zM651 248h1v1h-1zM652 248h1v1h-1zM653 249h1v1h-1zM654 249h1v1h-1zM655 250h1v1h-1zM656 250h1v1h-1zM657 251h1v1h-1zM658 251h1v1h-1zM659 252h1v1h-1zM660 252h1v1h-1zM661 253h1v1h-1zM662 253h1v1h-1zM663 254h1v1h-1zM664 254h1v1h-1zM665 255h1v1h-1zM666 255h1v1h-1zM667 255h1v1h-1zM668 255h1v1h-1zM669 255h1v1h-1zM670 256h1v1h-1zM671 256h1v1h-1zM672 256h1v1h-1zM673 256h1v1h-1zM674 256h1v1h-1zM675 256h1v1h-1zM676 257h1v1h-1zM677 257h1v1h-1zM678 258h1v1h-1zM679 258h1v1h-1zM680 258h1v1h-1zM681 259h1v1h-1zM682 259h1v1h-1zM683 259h1v1h-1zM684 259h1v1h-1zM685 259h1v1h-1zM686 258h1v1h-1zM687 258h1v1h-1zM688 258h1v1h-1zM689 258h1v1h-1zM690 258h1v1h-1zM691 257h1v1h-1zM692 256h1v1h-1zM693 255h1v1h-1zM694 253h1v2h-1zM695 252h1v1h-1zM696 251h1v1h-1zM697 250h1v1h-1zM698 249h1v1h-1zM699 248h1v1h-1zM700 246h1v2h-1zM701 245h1v1h-1zM702 244h1v1h-1zM703 243h1v1h-1zM704 241h1v2h-1zM705 240h1v1h-1zM706 239h1v1h-1zM707 237h1v2h-1zM708 236h1v1h-1zM709 234h1v2h-1zM710 233h1v1h-1zM711 231h1v2h-1zM712 230h1v1h-1zM713 228h1v2h-1zM714 227h1v1h-1zM715 226h1v1h-1zM716 225h1v1h-1zM717 224h1v1h-1zM718 222h1v2h-1zM719 221h1v1h-1zM720 220h1v1h-1zM721 219h1v1h-1zM722 218h1v1h-1zM723 216h1v2h-1zM724 215h1v1h-1zM725 213h1v2h-1zM726 212h1v1h-1zM727 210h1v2h-1zM728 209h1v1h-1zM729 207h1v2h-1zM730 206h1v1h-1zM731 204h1v2h-1zM732 203h1v1h-1zM733 202h1v1h-1zM734 200h1v2h-1zM735 199h1v1h-1zM736 198h1v1h-1zM737 196h1v2h-1zM738 195h1v1h-1zM739 194h1v1h-1zM740 193h1v1h-1zM741 192h1v1h-1zM742 190h1v2h-1zM743 189h1v1h-1zM744 188h1v1h-1zM745 187h1v1h-1zM746 186h1v1h-1zM747 186h1v1h-1zM748 185h1v1h-1zM749 185h1v1h-1zM750 185h1v1h-1zM751 185h1v1h-1zM752 184h1v1h-1zM753 184h1v1h-1zM754 184h1v1h-1zM755 183h1v1h-1zM756 182h1v1h-1zM757 181h1v1h-1zM758 179h1v2h-1zM759 178h1v1h-1zM760 177h1v1h-1zM761 176h1v1h-1zM762 175h1v1h-1zM763 174h1v1h-1zM764 173h1v1h-1zM765 173h1v1h-1zM766 172h1v1h-1zM767 171h1v1h-1zM768 170h1v1h-1zM769 170h1v1h-1zM770 169h1v1h-1zM771 169h1v1h-1zM772 170h1v1h-1zM773 170h1v1h-1zM774 171h1v1h-1zM775 171h1v1h-1zM776 171h1v1h-1zM777 172h1v1h-1zM778 172h1v1h-1zM779 173h1v1h-1zM780 173h1v1h-1zM781 174h1v1h-1zM782 175h1v1h-1zM783 175h1v1h-1zM784 176h1v1h-1zM785 176h1v1h-1zM786 177h1v1h-1zM787 177h1v1h-1zM788 177h1v1h-1zM789 177h1v1h-1zM790 177h1v1h-1zM791 177h1v1h-1zM792 177h1v1h-1zM793 177h1v1h-1zM794 177h1v1h-1zM795 177h1v1h-1zM796 177h1v1h-1zM797 177h1v1h-1zM798 178h1v1h-1zM799 178h1v1h-1zM800 178h1v1h-1zM801 178h1v1h-1zM802 178h1v1h-1zM803 179h1v1h-1zM804 179h1v1h-1zM805 180h1v1h-1zM806 181h1v1h-1zM807 181h1v1h-1zM808 182h1v1h-1zM809 182h1v1h-1zM810 183h1v1h-1zM811 183h1v1h-1zM812 182h1v1h-1zM813 182h1v1h-1zM814 182h1v1h-1zM815 182h1v1h-1zM816 181h1v1h-1zM817 181h1v1h-1zM818 181h1v1h-1zM819 182h1v1h-1zM820 182h1v1h-1zM821 183h1v1h-1zM822 183h1v1h-1zM823 184h1v1h-1zM824 184h1v1h-1zM825 185h1v1h-1zM826 185h1v1h-1zM827 186h1v1h-1zM828 186h1v1h-1zM829 187h1v1h-1zM830 187h1v1h-1zM831 188h1v1h-1zM832 188h1v1h-1zM833 189h1v1h-1zM834 189h1v1h-1zM835 189h1v1h-1zM836 190h1v1h-1zM837 190h1v1h-1zM838 190h1v1h-1zM839 190h1v1h-1zM840 191h1v1h-1zM841 191h1v1h-1zM842 191h1v1h-1zM843 190h1v1h-1zM844 189h1v1h-1zM845 189h1v1h-1zM846 188h1v1h-1zM847 187h1v1h-1zM848 186h1v1h-1zM849 186h1v1h-1zM850 185h1v1h-1zM851 185h1v1h-1zM852 185h1v1h-1zM853 185h1v1h-1zM854 184h1v1h-1zM855 184h1v1h-1zM856 184h1v1h-1zM857 184h1v1h-1zM858 184h1v1h-1zM859 184h1v1h-1zM860 183h1v1h-1zM861 183h1v1h-1zM862 182h1v1h-1zM863 182h1v1h-1zM864 182h1v1h-1zM865 181h1v1h-1zM866 181h1v1h-1zM867 181h1v1h-1zM868 181h1v1h-1zM869 181h1v1h-1zM870 181h1v1h-1zM871 181h1v1h-1zM872 181h1v1h-1zM873 181h1v1h-1zM874 181h1v1h-1zM875 181h1v1h-1zM876 181h1v1h-1zM877 181h1v1h-1zM878 181h1v1h-1zM879 181h1v1h-1zM880 181h1v1h-1zM881 181h1v1h-1zM882 181h1v1h-1zM883 182h1v1h-1zM884 183h1v1h-1zM885 184h1v1h-1zM886 185h1v1h-1zM887 185h1v1h-1zM888 186h1v1h-1zM889 187h1v1h-1zM890 188h1v1h-1zM891 189h1v1h-1zM892 189h1v1h-1zM893 190h1v1h-1zM894 191h1v1h-1zM895 191h1v1h-1zM896 192h1v1h-1zM897 192h1v1h-1zM898 193h1v1h-1zM899 194h1v1h-1zM900 194h1v1h-1zM901 195h1v1h-1zM902 195h1v1h-1zM903 196h1v1h-1zM904 196h1v1h-1zM905 197h1v1h-1zM906 197h1v1h-1zM907 198h1v1h-1zM908 199h1v1h-1zM909 200h1v1h-1zM910 201h1v1h-1zM911 201h1v1h-1zM912 202h1v1h-1zM913 203h1v1h-1zM914 204h1v1h-1zM915 205h1v2h-1zM916 207h1v1h-1zM917 208h1v2h-1zM918 210h1v1h-1zM919 211h1v2h-1zM920 213h1v1h-1zM921 214h1v2h-1zM922 216h1v1h-1zM923 217h1v2h-1zM924 219h1v1h-1zM925 220h1v1h-1zM926 221h1v2h-1zM927 223h1v1h-1zM928 224h1v1h-1zM929 225h1v2h-1zM930 227h1v1h-1zM931 228h1v1h-1zM932 228h1v1h-1zM933 229h1v1h-1zM934 230h1v1h-1zM935 230h1v1h-1zM936 231h1v1h-1zM937 231h1v1h-1zM938 232h1v1h-1zM939 233h1v1h-1zM940 234h1v1h-1zM941 235h1v1h-1zM942 236h1v1h-1zM943 236h1v1h-1zM944 237h1v1h-1zM945 238h1v1h-1zM946 239h1v1h-1zM947 239h1v1h-1zM948 238h1v1h-1zM949 238h1v1h-1zM950 238h1v1h-1zM951 238h1v1h-1zM952 237h1v1h-1zM953 237h1v1h-1zM954 237h1v1h-1zM955 236h1v1h-1zM956 236h1v1h-1zM957 235h1v1h-1zM958 235h1v1h-1zM959 234h1v1h-1zM960 234h1v1h-1zM961 233h1v1h-1zM962 233h1v1h-1zM963 231h1v2h-1zM964 229h1v2h-1zM965 228h1v1h-1zM966 226h1v2h-1zM967 225h1v1h-1zM968 223h1v2h-1zM969 221h1v2h-1zM970 220h1v1h-1zM971 218h1v2h-1zM972 217h1v1h-1zM973 216h1v1h-1zM974 214h1v2h-1zM975 213h1v1h-1zM976 212h1v1h-1zM977 210h1v2h-1zM978 209h1v1h-1zM979 207h1v2h-1zM980 205h1v2h-1zM981 204h1v1h-1zM982 202h1v2h-1zM983 201h1v1h-1zM984 199h1v2h-1zM985 197h1v2h-1zM986 196h1v1h-1zM987 195h1v1h-1zM988 193h1v2h-1zM989 192h1v1h-1zM990 191h1v1h-1zM991 190h1v1h-1zM992 188h1v2h-1zM993 187h1v1h-1zM994 186h1v1h-1zM995 185h1v1h-1zM996 184h1v1h-1zM997 183h1v1h-1zM998 182h1v1h-1zM999 181h1v1h-1zM1000 180h1v1h-1zM1001 179h1v1h-1zM1002 178h1v1h-1zM1003 177h1v1h-1zM1004 177h1v1h-1zM1005 176h1v1h-1zM1006 176h1v1h-1zM1007 175h1v1h-1zM1008 175h1v1h-1zM1009 174h1v1h-1zM1010 174h1v1h-1zM1011 173h1v1h-1zM1012 172h1v1h-1zM1013 172h1v1h-1zM1014 171h1v1h-1zM1015 170h1v1h-1zM1016 169h1v1h-1zM1017 169h1v1h-1zM1018 168h1v1h-1zM1019 167h1v1h-1zM1020 167h1v1h-1zM1021 166h1v1h-1zM1022 166h1v1h-1zM1023 165h1v1h-1zM1024 165h1v1h-1zM1025 164h1v1h-1zM1026 164h1v1h-1zM1027 164h1v1h-1zM1028 165h1v1h-1zM1029 165h1v1h-1zM1030 166h1v1h-1zM1031 166h1v1h-1zM1032 166h1v1h-1zM1033 167h1v1h-1zM1034 167h1v1h-1zM1035 167h1v1h-1zM1036 167h1v1h-1zM1037 167h1v1h-1zM1038 168h1v1h-1zM1039 168h1v1h-1zM1040 168h1v1h-1zM1041 168h1v1h-1zM1042 168h1v1h-1zM1043 166h1v2h-1zM1044 165h1v1h-1zM1045 164h1v1h-1zM1046 162h1v2h-1zM1047 161h1v1h-1zM1048 160h1v1h-1zM1049 158h1v2h-1zM1050 157h1v1h-1zM1051 156h1v1h-1zM1052 155h1v1h-1zM1053 154h1v1h-1zM1054 153h1v1h-1zM1055 152h1v1h-1zM1056 151h1v1h-1zM1057 150h1v1h-1zM1058 149h1v1h-1zM1059 147h1v2h-1zM1060 146h1v1h-1zM1061 144h1v2h-1zM1062 143h1v1h-1zM1063 141h1v2h-1zM1064 140h1v1h-1zM1065 138h1v2h-1zM1066 136h1v2h-1zM1067 134h1v2h-1zM1068 132h1v2h-1zM1069 130h1v2h-1zM1070 128h1v2h-1zM1071 126h1v2h-1zM1072 124h1v2h-1zM1073 122h1v2h-1zM1074 119h1v3h-1zM1075 117h1v2h-1zM1076 115h1v2h-1zM1077 113h1v2h-1zM1078 111h1v2h-1zM1079 109h1v2h-1zM1080 107h1v2h-1zM1081 105h1v2h-1zM1082 103h1v2h-1zM1083 102h1v1h-1zM1084 101h1v1h-1zM1085 100h1v1h-1zM1086 98h1v2h-1zM1087 97h1v1h-1zM1088 96h1v1h-1zM1089 95h1v1h-1zM1090 94h1v1h-1zM1091 95h1v2h-1zM1092 97h1v1h-1zM1093 98h1v2h-1zM1094 100h1v1h-1zM1095 101h1v2h-1zM1096 103h1v1h-1zM1097 104h1v2h-1zM1098 106h1v2h-1zM1099 108h1v2h-1zM1100 110h1v2h-1zM1101 112h1v3h-1zM1102 115h1v2h-1zM1103 117h1v3h-1zM1104 120h1v2h-1zM1105 122h1v2h-1zM1106 124h1v2h-1zM1107 126h1v2h-1zM1108 128h1v1h-1zM1109 129h1v2h-1zM1110 131h1v1h-1zM1111 132h1v2h-1zM1112 134h1v1h-1zM1113 135h1v2h-1zM1114 137h1v1h-1zM1115 138h1v1h-1zM1116 139h1v2h-1zM1117 141h1v1h-1zM1118 142h1v1h-1zM1119 143h1v1h-1zM1120 144h1v2h-1zM1121 146h1v1h-1zM1122 147h1v1h-1zM1123 148h1v2h-1zM1124 150h1v2h-1zM1125 152h1v2h-1zM1126 154h1v2h-1zM1127 156h1v2h-1zM1128 158h1v2h-1zM1129 160h1v2h-1zM1130 162h1v1h-1zM1131 161h1v1h-1zM1132 161h1v1h-1zM1133 160h1v1h-1zM1134 159h1v1h-1zM1135 159h1v1h-1zM1136 158h1v1h-1zM1137 158h1v1h-1zM1138 157h1v1h-1zM1139 158h1v1h-1zM1140 158h1v1h-1zM1141 159h1v1h-1zM1142 159h1v1h-1zM1143 160h1v1h-1zM1144 160h1v1h-1zM1145 161h1v1h-1zM1146 161h1v1h-1zM1147 162h1v1h-1zM1148 163h1v1h-1zM1149 164h1v1h-1zM1150 165h1v2h-1zM1151 167h1v1h-1zM1152 168h1v1h-1zM1153 169h1v1h-1zM1154 170h1v1h-1zM1155 171h1v2h-1zM1156 173h1v2h-1zM1157 175h1v2h-1zM1158 177h1v2h-1zM1159 179h1v2h-1zM1160 181h1v2h-1zM1161 183h1v2h-1zM1162 185h1v1h-1zM1163 186h1v1h-1zM1164 187h1v1h-1zM1165 188h1v1h-1zM1166 189h1v2h-1zM1167 191h1v1h-1zM1168 192h1v1h-1zM1169 193h1v1h-1zM1170 194h1v1h-1zM1171 195h1v1h-1zM1172 196h1v1h-1zM1173 197h1v1h-1zM1174 198h1v1h-1zM1175 199h1v1h-1zM1176 200h1v1h-1zM1177 201h1v1h-1zM1178 202h1v1h-1zM1179 201h1v1h-1zM1180 199h1v2h-1zM1181 198h1v1h-1zM1182 197h1v1h-1zM1183 196h1v1h-1zM1184 194h1v2h-1zM1185 193h1v1h-1zM1186 192h1v1h-1zM1187 191h1v1h-1zM1188 191h1v1h-1zM1189 190h1v1h-1zM1190 189h1v1h-1zM1191 189h1v1h-1zM1192 188h1v1h-1zM1193 188h1v1h-1zM1194 187h1v1h-1zM1195 186h1v1h-1zM1196 185h1v1h-1zM1197 184h1v1h-1zM1198 182h1v2h-1zM1199 181h1v1h-1zM1200 180h1v1h-1zM1201 179h1v1h-1zM1202 178h1v1h-1zM1203 178h1v1h-1zM1204 177h1v1h-1zM1205 177h1v1h-1zM1206 176h1v1h-1zM1207 176h1v1h-1zM1208 176h1v1h-1zM1209 175h1v1h-1zM1210 175h1v1h-1zM1211 175h1v1h-1zM1212 174h1v1h-1zM1213 174h1v1h-1zM1214 173h1v1h-1zM1215 173h1v1h-1zM1216 173h1v1h-1zM1217 172h1v1h-1zM1218 172h1v1h-1zM1219 173h1v1h-1zM1220 174h1v1h-1zM1221 174h1v1h-1zM1222 175h1v1h-1zM1223 176h1v1h-1zM1224 177h1v1h-1zM1225 177h1v1h-1zM1226 178h1v1h-1zM1227 177h1v1h-1zM1228 177h1v1h-1zM1229 176h1v1h-1zM1230 175h1v1h-1zM1231 175h1v1h-1zM1232 174h1v1h-1zM1233 174h1v1h-1zM1234 173h1v1h-1zM1235 173h1v1h-1zM1236 174h1v1h-1zM1237 174h1v1h-1zM1238 174h1v1h-1zM1239 174h1v1h-1zM1240 175h1v1h-1zM1241 175h1v1h-1zM1242 175h1v1h-1z" fill="#ffa500"/>
</g>
<rect x="2" y="49" width="1576" height="2" fill="#ff0000"/>
<rect x="2" y="97" width="1576" height="2" fill="#ff0000"/>
<rect x="2" y="145" width="1576" height="2" fill="#00ff00"/>
<rect x="2" y="203" width="1576" height="2" fill="#0000ff"/>
<rect x="2" y="260" width="1576" height="2" fill="#0000ff"/>
<rect x="1" y="22" width="1578" height="1" fill="#000"/>
<rect x="1" y="549" width="1578" height="1" fill="#000"/>
<rect x="1" y="22" width="1" height="528" fill="#000"/>
<rect x="1578" y="22" width="1" height="528" fill="#000"/>
<rect x="1578" y="49" width="1" height="2" fill="#ff0000"/>
<rect x="1" y="47" width="6" height="6" fill="#ff0000"/>
<rect x="3" y="49" width="2" height="2" fill="#fff"/>
<rect x="1572" y="47" width="6" height="6" fill="#ff0000"/>
<rect x="1574" y="49" width="2" height="2" fill="#fff"/>
<rect x="1578" y="97" width="1" height="2" fill="#ff0000"/>
<rect x="1" y="95" width="6" height="6" fill="#ff0000"/>
<rect x="3" y="97" width="2" height="2" fill="#fff"/>
<rect x="1572" y="95" width="6" height="6" fill="#ff0000"/>
<rect x="1574" y="97" width="2" height="2" fill="#fff"/>
<rect x="1578" y="145" width="1" height="2" fill="#00ff00"/>
<rect x="1" y="143" width="6" height="6" fill="#00ff00"/>
<rect x="3" y="145" width="2" height="2" fill="#fff"/>
<rect x="1572" y="143" width="6" height="6" fill="#00ff00"/>
<rect x="1574" y="145" width="2" height="2" fill="#fff"/>
<rect x="1578" y="203" width="1" height="2" fill="#0000ff"/>
<rect x="1" y="201" width="6" height="6" fill="#0000ff"/>
<rect x="3" y="203" width="2" height="2" fill="#fff"/>
<rect x="1572" y="201" width="6" height="6" fill="#0000ff"/>
<rect x="1574" y="203" width="2" height="2" fill="#fff"/>
<rect x="1578" y="260" width="1" height="2" fill="#0000ff"/>
<rect x="1" y="258" width="6" height="6" fill="#0000ff"/>
<rect x="3" y="260" width="2" height="2" fill="#fff"/>
<rect x="1572" y="258" width="6" height="6" fill="#0000ff"/>
<rect x="1574" y="260" width="2" height="2" fill="#fff"/>
<rect x="1579" y="51" width="2" height="1" fill="#000"/>
<text transform="translate(1584.00,55) scale(0.9167,1)" font-size="9.9" fill="#000" stroke="#000" stroke-width="0.2">0.80000</text>
<rect x="1579" y="84" width="2" height="1" fill="#000"/>
<text transform="translate(1584.00,88) scale(0.9167,1)" font-size="9.9" fill="#000" stroke="#000" stroke-width="0.2">0.79320</text>
<rect x="1579" y="117" width="2" height="1" fill="#000"/>
<text transform="translate(1584.00,121) scale(0.9167,1)" font-size="9.9" fill="#000" stroke="#000" stroke-width="0.2">0.78620</text>
<rect x="1579" y="150" width="2" height="1" fill="#000"/>
<text transform="translate(1584.00,154) scale(0.9167,1)" font-size="9.9" fill="#000" stroke="#000" stroke-width="0.2">0.77940</text>
<rect x="1579" y="183" width="2" height="1" fill="#000"/>
<text transform="translate(1584.00,187) scale(0.9167,1)" font-size="9.9" fill="#000" stroke="#000" stroke-width="0.2">0.77240</text>
<rect x="1579" y="216" width="2" height="1" fill="#000"/>
<text transform="translate(1584.00,220) scale(0.9167,1)" font-size="9.9" fill="#000" stroke="#000" stroke-width="0.2">0.76560</text>
<rect x="1579" y="249" width="2" height="1" fill="#000"/>
<text transform="translate(1584.00,253) scale(0.9167,1)" font-size="9.9" fill="#000" stroke="#000" stroke-width="0.2">0.75880</text>
<rect x="1579" y="282" width="2" height="1" fill="#000"/>
<text transform="translate(1584.00,286) scale(0.9167,1)" font-size="9.9" fill="#000" stroke="#000" stroke-width="0.2">0.75180</text>
<rect x="1579" y="315" width="2" height="1" fill="#000"/>
<text transform="translate(1584.00,319) scale(0.9167,1)" font-size="9.9" fill="#000" stroke="#000" stroke-width="0.2">0.74500</text>
<rect x="1579" y="348" width="2" height="1" fill="#000"/>
<text transform="translate(1584.00,352) scale(0.9167,1)" font-size="9.9" fill="#000" stroke="#000" stroke-width="0.2">0.73820</text>
<rect x="1579" y="381" width="2" height="1" fill="#000"/>
<text transform="translate(1584.00,385) scale(0.9167,1)" font-size="9.9" fill="#000" stroke="#000" stroke-width="0.2">0.73120</text>
<rect x="1579" y="414" width="2" height="1" fill="#000"/>
<text transform="translate(1584.00,418) scale(0.9167,1)" font-size="9.9" fill="#000" stroke="#000" stroke-width="0.2">0.72440</text>
<rect x="1579" y="447" width="2" height="1" fill="#000"/>
<text transform="translate(1584.00,451) scale(0.9167,1)" font-size="9.9" fill="#000" stroke="#000" stroke-width="0.2">0.71760</text>
<rect x="1579" y="480" width="2" height="1" fill="#000"/>
<text transform="translate(1584.00,484) scale(0.9167,1)" font-size="9.9" fill="#000" stroke="#000" stroke-width="0.2">0.71060</text>
<rect x="1579" y="513" width="2" height="1" fill="#000"/>
<text transform="translate(1584.00,517) scale(0.9167,1)" font-size="9.9" fill="#000" stroke="#000" stroke-width="0.2">0.70380</text>
<rect x="1579" y="546" width="2" height="1" fill="#000"/>
<text transform="translate(1584.00,550) scale(0.9167,1)" font-size="9.9" fill="#000" stroke="#000" stroke-width="0.2">0.69700</text>
<rect x="1580" y="44" width="41" height="11" fill="#ff0000"/>
<text transform="translate(1584.00,53) scale(0.9429,1)" font-size="9.9" fill="#fff" stroke="#fff" stroke-width="0.2">0.80009</text>
<rect x="1580" y="92" width="41" height="11" fill="#ff0000"/>
<text transform="translate(1584.00,101) scale(0.9429,1)" font-size="9.9" fill="#fff" stroke="#fff" stroke-width="0.2">0.79012</text>
<rect x="1580" y="140" width="41" height="11" fill="#00ff00"/>
<text transform="translate(1584.00,149) scale(0.9429,1)" font-size="9.9" fill="#fff" stroke="#fff" stroke-width="0.2">0.78014</text>
<rect x="1580" y="174" width="41" height="11" fill="#000000"/>
<text transform="translate(1584.00,183) scale(0.9429,1)" font-size="9.9" fill="#fff" stroke="#fff" stroke-width="0.2">0.77326</text>
<rect x="1580" y="198" width="41" height="11" fill="#0000ff"/>
<text transform="translate(1584.00,207) scale(0.9429,1)" font-size="9.9" fill="#fff" stroke="#fff" stroke-width="0.2">0.76809</text>
<rect x="1580" y="255" width="41" height="11" fill="#0000ff"/>
<text transform="translate(1584.00,264) scale(0.9429,1)" font-size="9.9" fill="#fff" stroke="#fff" stroke-width="0.2">0.75624</text>
<path d="M5 29 L12 29 L8.5 33 Z" fill="#000"/>
<text transform="translate(17.70,34) scale(0.9742,1)" font-size="9.9" fill="#000" stroke="#000" stroke-width="0.2">AUDUSD,Daily</text>
<text transform="translate(89.40,34) scale(0.9291,1)" font-size="9.9" fill="#000" stroke="#000" stroke-width="0.2">0.77937 0.78029 0.77235 0.77326</text>
<path d="M1257 23 L1266 23 L1261.5 28 Z" fill="#c0c0c0"/>
<rect x="1" y="551" width="1578" height="1" fill="#000"/>
<rect x="1" y="647" width="1578" height="1" fill="#000"/>
<rect x="1" y="551" width="1" height="97" fill="#000"/>
<rect x="1578" y="551" width="1" height="97" fill="#000"/>
<line x1="2" y1="581.5" x2="1578" y2="581.5" stroke="#c0c0c0" stroke-width="1" stroke-dasharray="3,3" stroke-dashoffset="-1"/>
<line x1="2" y1="618.5" x2="1578" y2="618.5" stroke="#c0c0c0" stroke-width="1" stroke-dasharray="3,3" stroke-dashoffset="-1"/>
<g clip-path="url(#cr)">
<path d="M2 597h1v1h-1zM3 597h1v1h-1zM4 596h1v1h-1zM5 596h1v1h-1zM6 595h1v1h-1zM7 595h1v1h-1zM8 595h1v1h-1zM9 594h1v1h-1zM10 594h1v1h-1zM11 594h1v1h-1zM12 595h1v1h-1zM13 595h1v1h-1zM14 595h1v1h-1zM15 595h1v1h-1zM16 596h1v1h-1zM17 596h1v1h-1zM18 596h1v1h-1zM19 597h1v1h-1zM20 598h1v2h-1zM21 600h1v1h-1zM22 601h1v1h-1zM23 602h1v1h-1zM24 603h1v2h-1zM25 605h1v1h-1zM26 606h1v1h-1zM27 607h1v1h-1zM28 607h1v1h-1zM29 608h1v1h-1zM30 608h1v1h-1zM31 609h1v1h-1zM32 609h1v1h-1zM33 610h1v1h-1zM34 610h1v1h-1zM35 611h1v1h-1zM36 612h1v1h-1zM37 612h1v1h-1zM38 613h1v1h-1zM39 614h1v1h-1zM40 615h1v1h-1zM41 615h1v1h-1zM42 616h1v1h-1zM43 616h1v1h-1zM44 617h1v1h-1zM45 617h1v1h-1zM46 618h1v1h-1zM47 618h1v1h-1zM48 618h1v1h-1zM49 619h1v1h-1zM50 619h1v1h-1zM51 619h1v1h-1zM52 620h1v1h-1zM53 620h1v1h-1zM54 620h1v1h-1zM55 620h1v1h-1zM56 621h1v1h-1zM57 621h1v1h-1zM58 621h1v1h-1zM59 621h1v1h-1zM60 620h1v1h-1zM61 620h1v1h-1zM62 620h1v1h-1zM63 620h1v1h-1zM64 619h1v1h-1zM65 619h1v1h-1zM66 619h1v1h-1zM67 618h1v1h-1zM68 617h1v1h-1zM69 617h1v1h-1zM70 616h1v1h-1zM71 615h1v1h-1zM72 614h1v1h-1zM73 614h1v1h-1zM74 613h1v1h-1zM75 612h1v1h-1zM76 612h1v1h-1zM77 611h1v1h-1zM78 610h1v1h-1zM79 610h1v1h-1zM80 609h1v1h-1zM81 609h1v1h-1zM82 608h1v1h-1zM83 607h1v1h-1zM84 606h1v1h-1zM85 606h1v1h-1zM86 605h1v1h-1zM87 604h1v1h-1zM88 603h1v1h-1zM89 603h1v1h-1zM90 602h1v1h-1zM91 602h1v1h-1zM92 601h1v1h-1zM93 601h1v1h-1zM94 600h1v1h-1zM95 600h1v1h-1zM96 600h1v1h-1zM97 599h1v1h-1zM98 599h1v1h-1zM99 600h1v1h-1zM100 600h1v1h-1zM101 601h1v1h-1zM102 601h1v1h-1zM103 602h1v1h-1zM104 602h1v1h-1zM105 603h1v1h-1zM106 603h1v1h-1zM107 603h1v1h-1zM108 603h1v1h-1zM109 603h1v1h-1zM110 602h1v1h-1zM111 602h1v1h-1zM112 602h1v1h-1zM113 602h1v1h-1zM114 602h1v1h-1zM115 602h1v1h-1zM116 601h1v1h-1zM117 601h1v1h-1zM118 600h1v1h-1zM119 600h1v1h-1zM120 600h1v1h-1zM121 599h1v1h-1zM122 599h1v1h-1zM123 600h1v1h-1zM124 600h1v1h-1zM125 601h1v1h-1zM126 601h1v1h-1zM127 602h1v1h-1zM128 602h1v1h-1zM129 603h1v1h-1zM130 603h1v1h-1zM131 603h1v1h-1zM132 603h1v1h-1zM133 603h1v1h-1zM134 604h1v1h-1zM135 604h1v1h-1zM136 604h1v1h-1zM137 604h1v1h-1zM138 604h1v1h-1zM139 604h1v1h-1zM140 603h1v1h-1zM141 603h1v1h-1zM142 602h1v1h-1zM143 602h1v1h-1zM144 602h1v1h-1zM145 601h1v1h-1zM146 601h1v1h-1zM147 600h1v1h-1zM148 599h1v1h-1zM149 598h1v1h-1zM150 597h1v1h-1zM151 596h1v1h-1zM152 595h1v1h-1zM153 594h1v1h-1zM154 593h1v1h-1zM155 593h1v1h-1zM156 593h1v1h-1zM157 593h1v1h-1zM158 594h1v1h-1zM159 594h1v1h-1zM160 594h1v1h-1zM161 594h1v1h-1zM162 594h1v1h-1zM163 594h1v1h-1zM164 595h1v1h-1zM165 595h1v1h-1zM166 596h1v1h-1zM167 596h1v1h-1zM168 596h1v1h-1zM169 597h1v1h-1zM170 597h1v1h-1zM171 598h1v1h-1zM172 598h1v1h-1zM173 599h1v1h-1zM174 599h1v1h-1zM175 600h1v1h-1zM176 600h1v1h-1zM177 601h1v1h-1zM178 601h1v1h-1zM179 601h1v1h-1zM180 601h1v1h-1zM181 601h1v1h-1zM182 601h1v1h-1zM183 601h1v1h-1zM184 601h1v1h-1zM185 601h1v1h-1zM186 601h1v1h-1zM187 602h1v1h-1zM188 603h1v1h-1zM189 604h1v1h-1zM190 605h1v1h-1zM191 606h1v1h-1zM192 607h1v1h-1zM193 608h1v1h-1zM194 609h1v1h-1zM195 609h1v1h-1zM196 609h1v1h-1zM197 609h1v1h-1zM198 609h1v1h-1zM199 609h1v1h-1zM200 609h1v1h-1zM201 609h1v1h-1zM202 609h1v1h-1zM203 609h1v1h-1zM204 609h1v1h-1zM205 609h1v1h-1zM206 608h1v1h-1zM207 608h1v1h-1zM208 608h1v1h-1zM209 608h1v1h-1zM210 608h1v1h-1zM211 608h1v1h-1zM212 608h1v1h-1zM213 608h1v1h-1zM214 608h1v1h-1zM215 608h1v1h-1zM216 608h1v1h-1zM217 608h1v1h-1zM218 608h1v1h-1zM219 608h1v1h-1zM220 609h1v1h-1zM221 609h1v1h-1zM222 610h1v1h-1zM223 610h1v1h-1zM224 610h1v1h-1zM225 611h1v1h-1zM226 611h1v1h-1zM227 610h1v1h-1zM228 609h1v1h-1zM229 608h1v1h-1zM230 606h1v2h-1zM231 605h1v1h-1zM232 604h1v1h-1zM233 603h1v1h-1zM234 602h1v1h-1zM235 602h1v1h-1zM236 603h1v1h-1zM237 603h1v1h-1zM238 603h1v1h-1zM239 603h1v1h-1zM240 604h1v1h-1zM241 604h1v1h-1zM242 604h1v1h-1zM243 604h1v1h-1zM244 603h1v1h-1zM245 603h1v1h-1zM246 603h1v1h-1zM247 603h1v1h-1zM248 602h1v1h-1zM249 602h1v1h-1zM250 602h1v1h-1zM251 602h1v1h-1zM252 601h1v1h-1zM253 601h1v1h-1zM254 601h1v1h-1zM255 601h1v1h-1zM256 600h1v1h-1zM257 600h1v1h-1zM258 600h1v1h-1zM259 600h1v1h-1zM260 601h1v1h-1zM261 601h1v1h-1zM262 601h1v1h-1zM263 601h1v1h-1zM264 602h1v1h-1zM265 602h1v1h-1zM266 602h1v1h-1zM267 602h1v1h-1zM268 601h1v1h-1zM269 601h1v1h-1zM270 600h1v1h-1zM271 600h1v1h-1zM272 600h1v1h-1zM273 599h1v1h-1zM274 599h1v1h-1zM275 600h1v1h-1zM276 601h1v1h-1zM277 602h1v1h-1zM278 603h1v2h-1zM279 605h1v1h-1zM280 606h1v1h-1zM281 607h1v1h-1zM282 608h1v1h-1zM283 609h1v1h-1zM284 609h1v1h-1zM285 610h1v1h-1zM286 611h1v1h-1zM287 611h1v1h-1zM288 612h1v1h-1zM289 612h1v1h-1zM290 613h1v1h-1zM291 613h1v1h-1zM292 612h1v1h-1zM293 612h1v1h-1zM294 611h1v1h-1zM295 611h1v1h-1zM296 611h1v1h-1zM297 610h1v1h-1zM298 610h1v1h-1zM299 610h1v1h-1zM300 610h1v1h-1zM301 610h1v1h-1zM302 609h1v1h-1zM303 609h1v1h-1zM304 609h1v1h-1zM305 609h1v1h-1zM306 609h1v1h-1zM307 609h1v1h-1zM308 609h1v1h-1zM309 609h1v1h-1zM310 608h1v1h-1zM311 608h1v1h-1zM312 608h1v1h-1zM313 608h1v1h-1zM314 608h1v1h-1zM315 606h1v2h-1zM316 604h1v2h-1zM317 602h1v2h-1zM318 601h1v1h-1zM319 599h1v2h-1zM320 597h1v2h-1zM321 595h1v2h-1zM322 594h1v1h-1zM323 594h1v1h-1zM324 594h1v1h-1zM325 594h1v1h-1zM326 595h1v1h-1zM327 595h1v1h-1zM328 595h1v1h-1zM329 595h1v1h-1zM330 595h1v1h-1zM331 594h1v1h-1zM332 593h1v1h-1zM333 592h1v1h-1zM334 590h1v2h-1zM335 589h1v1h-1zM336 588h1v1h-1zM337 587h1v1h-1zM338 586h1v1h-1zM339 586h1v1h-1zM340 586h1v1h-1zM341 586h1v1h-1zM342 586h1v1h-1zM343 586h1v1h-1zM344 586h1v1h-1zM345 586h1v1h-1zM346 586h1v1h-1zM347 586h1v1h-1zM348 586h1v1h-1zM349 586h1v1h-1zM350 587h1v1h-1zM351 587h1v1h-1zM352 587h1v1h-1zM353 587h1v1h-1zM354 587h1v1h-1zM355 587h1v1h-1zM356 586h1v1h-1zM357 586h1v1h-1zM358 585h1v1h-1zM359 585h1v1h-1zM360 585h1v1h-1zM361 584h1v1h-1zM362 584h1v1h-1zM363 585h1v1h-1zM364 585h1v1h-1zM365 586h1v1h-1zM366 586h1v1h-1zM367 587h1v1h-1zM368 587h1v1h-1zM369 588h1v1h-1zM370 588h1v1h-1zM371 588h1v1h-1zM372 588h1v1h-1zM373 588h1v1h-1zM374 589h1v1h-1zM375 589h1v1h-1zM376 589h1v1h-1zM377 589h1v1h-1zM378 589h1v1h-1zM379 589h1v1h-1zM380 589h1v1h-1zM381 589h1v1h-1zM382 589h1v1h-1zM383 589h1v1h-1zM384 589h1v1h-1zM385 589h1v1h-1zM386 589h1v1h-1zM387 589h1v1h-1zM388 590h1v1h-1zM389 590h1v1h-1zM390 590h1v1h-1zM391 590h1v1h-1zM392 591h1v1h-1zM393 591h1v1h-1zM394 591h1v1h-1zM395 591h1v1h-1zM396 591h1v1h-1zM397 591h1v1h-1zM398 590h1v1h-1zM399 590h1v1h-1zM400 590h1v1h-1zM401 590h1v1h-1zM402 590h1v1h-1zM403 589h1v1h-1zM404 589h1v1h-1zM405 588h1v1h-1zM406 587h1v1h-1zM407 587h1v1h-1zM408 586h1v1h-1zM409 586h1v1h-1zM410 585h1v1h-1zM411 585h1v1h-1zM412 586h1v1h-1zM413 586h1v1h-1zM414 586h1v1h-1zM415 586h1v1h-1zM416 587h1v1h-1zM417 587h1v1h-1zM418 587h1v1h-1zM419 587h1v1h-1zM420 587h1v1h-1zM421 587h1v1h-1zM422 586h1v1h-1zM423 586h1v1h-1zM424 586h1v1h-1zM425 586h1v1h-1zM426 586h1v1h-1zM427 587h1v1h-1zM428 588h1v1h-1zM429 589h1v1h-1zM430 590h1v1h-1zM431 590h1v1h-1zM432 591h1v1h-1zM433 592h1v1h-1zM434 593h1v1h-1zM435 592h1v1h-1zM436 592h1v1h-1zM437 591h1v1h-1zM438 591h1v1h-1zM439 590h1v1h-1zM440 590h1v1h-1zM441 589h1v1h-1zM442 589h1v1h-1zM443 589h1v1h-1zM444 589h1v1h-1zM445 589h1v1h-1zM446 589h1v1h-1zM447 589h1v1h-1zM448 589h1v1h-1zM449 589h1v1h-1zM450 589h1v1h-1zM451 590h1v1h-1zM452 590h1v1h-1zM453 591h1v1h-1zM454 592h1v1h-1zM455 592h1v1h-1zM456 593h1v1h-1zM457 593h1v1h-1zM458 594h1v1h-1zM459 593h1v1h-1zM460 592h1v1h-1zM461 592h1v1h-1zM462 591h1v1h-1zM463 590h1v1h-1zM464 589h1v1h-1zM465 589h1v1h-1zM466 588h1v1h-1zM467 588h1v1h-1zM468 588h1v1h-1zM469 588h1v1h-1zM470 587h1v1h-1zM471 587h1v1h-1zM472 587h1v1h-1zM473 587h1v1h-1zM474 587h1v1h-1zM475 587h1v1h-1zM476 587h1v1h-1zM477 587h1v1h-1zM478 586h1v1h-1zM479 586h1v1h-1zM480 586h1v1h-1zM481 586h1v1h-1zM482 586h1v1h-1zM483 586h1v1h-1zM484 585h1v1h-1zM485 585h1v1h-1zM486 585h1v1h-1zM487 585h1v1h-1zM488 584h1v1h-1zM489 584h1v1h-1zM490 584h1v1h-1zM491 584h1v1h-1zM492 584h1v1h-1zM493 584h1v1h-1zM494 585h1v1h-1zM495 585h1v1h-1zM496 585h1v1h-1zM497 585h1v1h-1zM498 585h1v1h-1zM499 585h1v1h-1zM500 586h1v1h-1zM501 586h1v1h-1zM502 587h1v1h-1zM503 587h1v1h-1zM504 587h1v1h-1zM505 588h1v1h-1zM506 588h1v1h-1zM507 588h1v1h-1zM508 589h1v1h-1zM509 589h1v1h-1zM510 589h1v1h-1zM511 589h1v1h-1zM512 590h1v1h-1zM513 590h1v1h-1zM514 590h1v1h-1zM515 590h1v1h-1zM516 589h1v1h-1zM517 589h1v1h-1zM518 589h1v1h-1zM519 589h1v1h-1zM520 588h1v1h-1zM521 588h1v1h-1zM522 588h1v1h-1zM523 587h1v1h-1zM524 586h1v1h-1zM525 586h1v1h-1zM526 585h1v1h-1zM527 584h1v1h-1zM528 583h1v1h-1zM529 583h1v1h-1zM530 582h1v1h-1zM531 582h1v1h-1zM532 583h1v1h-1zM533 583h1v1h-1zM534 583h1v1h-1zM535 583h1v1h-1zM536 584h1v1h-1zM537 584h1v1h-1zM538 584h1v1h-1zM539 584h1v1h-1zM540 584h1v1h-1zM541 584h1v1h-1zM542 584h1v1h-1zM543 584h1v1h-1zM544 584h1v1h-1zM545 584h1v1h-1zM546 584h1v1h-1zM547 584h1v1h-1zM548 584h1v1h-1zM549 584h1v1h-1zM550 583h1v1h-1zM551 583h1v1h-1zM552 583h1v1h-1zM553 583h1v1h-1zM554 583h1v1h-1zM555 584h1v1h-1zM556 585h1v1h-1zM557 585h1v1h-1zM558 586h1v1h-1zM559 587h1v1h-1zM560 588h1v1h-1zM561 588h1v1h-1zM562 589h1v1h-1zM563 588h1v1h-1zM564 588h1v1h-1zM565 587h1v1h-1zM566 586h1v1h-1zM567 586h1v1h-1zM568 585h1v1h-1zM569 585h1v1h-1zM570 584h1v1h-1zM571 583h1v1h-1zM572 583h1v1h-1zM573 582h1v1h-1zM574 581h1v1h-1zM575 581h1v1h-1zM576 580h1v1h-1zM577 580h1v1h-1zM578 579h1v1h-1zM579 579h1v1h-1zM580 579h1v1h-1zM581 579h1v1h-1zM582 578h1v1h-1zM583 578h1v1h-1zM584 578h1v1h-1zM585 578h1v1h-1zM586 578h1v1h-1zM587 578h1v1h-1zM588 578h1v1h-1zM589 578h1v1h-1zM590 578h1v1h-1zM591 578h1v1h-1zM592 578h1v1h-1zM593 578h1v1h-1zM594 578h1v1h-1zM595 578h1v1h-1zM596 578h1v1h-1zM597 578h1v1h-1zM598 579h1v1h-1zM599 579h1v1h-1zM600 579h1v1h-1zM601 579h1v1h-1zM602 579h1v1h-1zM603 579h1v1h-1zM604 579h1v1h-1zM605 579h1v1h-1zM606 578h1v1h-1zM607 578h1v1h-1zM608 578h1v1h-1zM609 578h1v1h-1zM610 578h1v1h-1zM611 578h1v1h-1zM612 577h1v1h-1zM613 577h1v1h-1zM614 577h1v1h-1zM615 577h1v1h-1zM616 576h1v1h-1zM617 576h1v1h-1zM618 576h1v1h-1zM619 576h1v1h-1zM620 575h1v1h-1zM621 575h1v1h-1zM622 574h1v1h-1zM623 574h1v1h-1zM624 574h1v1h-1zM625 573h1v1h-1zM626 573h1v1h-1zM627 573h1v1h-1zM628 574h1v1h-1zM629 574h1v1h-1zM630 574h1v1h-1zM631 574h1v1h-1zM632 575h1v1h-1zM633 575h1v1h-1zM634 575h1v1h-1zM635 575h1v1h-1zM636 575h1v1h-1zM637 575h1v1h-1zM638 575h1v1h-1zM639 575h1v1h-1zM640 575h1v1h-1zM641 575h1v1h-1zM642 575h1v1h-1zM643 576h1v2h-1zM644 578h1v1h-1zM645 579h1v1h-1zM646 580h1v2h-1zM647 582h1v1h-1zM648 583h1v1h-1zM649 584h1v2h-1zM650 586h1v1h-1zM651 587h1v1h-1zM652 588h1v1h-1zM653 588h1v1h-1zM654 589h1v1h-1zM655 590h1v1h-1zM656 591h1v1h-1zM657 591h1v1h-1zM658 592h1v1h-1zM659 591h1v1h-1zM660 591h1v1h-1zM661 590h1v1h-1zM662 589h1v1h-1zM663 589h1v1h-1zM664 588h1v1h-1zM665 588h1v1h-1zM666 587h1v1h-1zM667 587h1v1h-1zM668 586h1v1h-1zM669 586h1v1h-1zM670 586h1v1h-1zM671 586h1v1h-1zM672 585h1v1h-1zM673 585h1v1h-1zM674 585h1v1h-1zM675 585h1v1h-1zM676 585h1v1h-1zM677 585h1v1h-1zM678 586h1v1h-1zM679 586h1v1h-1zM680 586h1v1h-1zM681 586h1v1h-1zM682 586h1v1h-1zM683 587h1v1h-1zM684 587h1v1h-1zM685 588h1v1h-1zM686 589h1v1h-1zM687 589h1v1h-1zM688 590h1v1h-1zM689 590h1v1h-1zM690 591h1v1h-1zM691 590h1v1h-1zM692 590h1v1h-1zM693 589h1v1h-1zM694 588h1v1h-1zM695 588h1v1h-1zM696 587h1v1h-1zM697 587h1v1h-1zM698 586h1v1h-1zM699 585h1v1h-1zM700 585h1v1h-1zM701 584h1v1h-1zM702 583h1v1h-1zM703 583h1v1h-1zM704 582h1v1h-1zM705 582h1v1h-1zM706 581h1v1h-1zM707 581h1v1h-1zM708 580h1v1h-1zM709 580h1v1h-1zM710 579h1v1h-1zM711 579h1v1h-1zM712 579h1v1h-1zM713 578h1v1h-1zM714 578h1v1h-1zM715 579h1v1h-1zM716 579h1v1h-1zM717 580h1v1h-1zM718 581h1v1h-1zM719 581h1v1h-1zM720 582h1v1h-1zM721 582h1v1h-1zM722 583h1v1h-1zM723 583h1v1h-1zM724 583h1v1h-1zM725 583h1v1h-1zM726 584h1v1h-1zM727 584h1v1h-1zM728 584h1v1h-1zM729 584h1v1h-1zM730 584h1v1h-1zM731 584h1v1h-1zM732 583h1v1h-1zM733 583h1v1h-1zM734 582h1v1h-1zM735 582h1v1h-1zM736 582h1v1h-1zM737 581h1v1h-1zM738 581h1v1h-1zM739 581h1v1h-1zM740 580h1v1h-1zM741 580h1v1h-1zM742 579h1v1h-1zM743 579h1v1h-1zM744 579h1v1h-1zM745 578h1v1h-1zM746 578h1v1h-1zM747 579h1v1h-1zM748 579h1v1h-1zM749 580h1v1h-1zM750 580h1v1h-1zM751 581h1v1h-1zM752 581h1v1h-1zM753 582h1v1h-1zM754 582h1v1h-1zM755 582h1v1h-1zM756 581h1v1h-1zM757 581h1v1h-1zM758 580h1v1h-1zM759 580h1v1h-1zM760 580h1v1h-1zM761 579h1v1h-1zM762 579h1v1h-1zM763 580h1v1h-1zM764 580h1v1h-1zM765 581h1v1h-1zM766 582h1v1h-1zM767 582h1v1h-1zM768 583h1v1h-1zM769 583h1v1h-1zM770 584h1v1h-1zM771 585h1v1h-1zM772 586h1v1h-1zM773 587h1v1h-1zM774 588h1v1h-1zM775 589h1v1h-1zM776 590h1v1h-1zM777 591h1v1h-1zM778 592h1v1h-1zM779 592h1v1h-1zM780 591h1v1h-1zM781 591h1v1h-1zM782 590h1v1h-1zM783 590h1v1h-1zM784 590h1v1h-1zM785 589h1v1h-1zM786 589h1v1h-1zM787 589h1v1h-1zM788 589h1v1h-1zM789 589h1v1h-1zM790 588h1v1h-1zM791 588h1v1h-1zM792 588h1v1h-1zM793 588h1v1h-1zM794 588h1v1h-1zM795 588h1v1h-1zM796 587h1v1h-1zM797 587h1v1h-1zM798 586h1v1h-1zM799 586h1v1h-1zM800 586h1v1h-1zM801 585h1v1h-1zM802 585h1v1h-1zM803 586h1v1h-1zM804 587h1v1h-1zM805 588h1v1h-1zM806 589h1v2h-1zM807 591h1v1h-1zM808 592h1v1h-1zM809 593h1v1h-1zM810 594h1v1h-1zM811 594h1v1h-1zM812 594h1v1h-1zM813 594h1v1h-1zM814 593h1v1h-1zM815 593h1v1h-1zM816 593h1v1h-1zM817 593h1v1h-1zM818 593h1v1h-1zM819 593h1v1h-1zM820 594h1v1h-1zM821 594h1v1h-1zM822 595h1v1h-1zM823 595h1v1h-1zM824 595h1v1h-1zM825 596h1v1h-1zM826 596h1v1h-1zM827 596h1v1h-1zM828 595h1v1h-1zM829 595h1v1h-1zM830 595h1v1h-1zM831 595h1v1h-1zM832 594h1v1h-1zM833 594h1v1h-1zM834 594h1v1h-1zM835 593h1v1h-1zM836 593h1v1h-1zM837 592h1v1h-1zM838 592h1v1h-1zM839 591h1v1h-1zM840 591h1v1h-1zM841 590h1v1h-1zM842 590h1v1h-1zM843 590h1v1h-1zM844 590h1v1h-1zM845 590h1v1h-1zM846 589h1v1h-1zM847 589h1v1h-1zM848 589h1v1h-1zM849 589h1v1h-1zM850 589h1v1h-1zM851 590h1v1h-1zM852 590h1v1h-1zM853 591h1v1h-1zM854 592h1v1h-1zM855 592h1v1h-1zM856 593h1v1h-1zM857 593h1v1h-1zM858 594h1v1h-1zM859 594h1v1h-1zM860 594h1v1h-1zM861 594h1v1h-1zM862 595h1v1h-1zM863 595h1v1h-1zM864 595h1v1h-1zM865 595h1v1h-1zM866 595h1v1h-1zM867 595h1v1h-1zM868 595h1v1h-1zM869 595h1v1h-1zM870 596h1v1h-1zM871 596h1v1h-1zM872 596h1v1h-1zM873 596h1v1h-1zM874 596h1v1h-1zM875 595h1v1h-1zM876 595h1v1h-1zM877 594h1v1h-1zM878 594h1v1h-1zM879 593h1v1h-1zM880 593h1v1h-1zM881 592h1v1h-1zM882 592h1v1h-1zM883 593h1v1h-1zM884 594h1v1h-1zM885 595h1v1h-1zM886 596h1v1h-1zM887 596h1v1h-1zM888 597h1v1h-1zM889 598h1v1h-1zM890 599h1v1h-1zM891 599h1v1h-1zM892 600h1v1h-1zM893 600h1v1h-1zM894 600h1v1h-1zM895 600h1v1h-1zM896 601h1v1h-1zM897 601h1v1h-1zM898 601h1v1h-1zM899 601h1v1h-1zM900 601h1v1h-1zM901 601h1v1h-1zM902 601h1v1h-1zM903 601h1v1h-1zM904 601h1v1h-1zM905 601h1v1h-1zM906 601h1v1h-1zM907 601h1v1h-1zM908 602h1v1h-1zM909 602h1v1h-1zM910 603h1v1h-1zM911 603h1v1h-1zM912 603h1v1h-1zM913 604h1v1h-1zM914 604h1v1h-1zM915 604h1v1h-1zM916 605h1v1h-1zM917 605h1v1h-1zM918 606h1v1h-1zM919 606h1v1h-1zM920 606h1v1h-1zM921 607h1v1h-1zM922 607h1v1h-1zM923 607h1v1h-1zM924 608h1v1h-1zM925 608h1v1h-1zM926 609h1v1h-1zM927 609h1v1h-1zM928 609h1v1h-1zM929 610h1v1h-1zM930 610h1v1h-1zM931 609h1v1h-1zM932 609h1v1h-1zM933 608h1v1h-1zM934 607h1v1h-1zM935 607h1v1h-1zM936 606h1v1h-1zM937 606h1v1h-1zM938 605h1v1h-1zM939 605h1v1h-1zM940 606h1v1h-1zM941 606h1v1h-1zM942 606h1v1h-1zM943 606h1v1h-1zM944 607h1v1h-1zM945 607h1v1h-1zM946 607h1v1h-1zM947 606h1v1h-1zM948 605h1v1h-1zM949 604h1v1h-1zM950 603h1v1h-1zM951 603h1v1h-1zM952 602h1v1h-1zM953 601h1v1h-1zM954 600h1v1h-1zM955 600h1v1h-1zM956 599h1v1h-1zM957 599h1v1h-1zM958 599h1v1h-1zM959 599h1v1h-1zM960 598h1v1h-1zM961 598h1v1h-1zM962 598h1v1h-1zM963 597h1v1h-1zM964 597h1v1h-1zM965 596h1v1h-1zM966 596h1v1h-1zM967 595h1v1h-1zM968 595h1v1h-1zM969 594h1v1h-1zM970 594h1v1h-1zM971 594h1v1h-1zM972 593h1v1h-1zM973 593h1v1h-1zM974 593h1v1h-1zM975 593h1v1h-1zM976 592h1v1h-1zM977 592h1v1h-1zM978 592h1v1h-1zM979 592h1v1h-1zM980 592h1v1h-1zM981 592h1v1h-1zM982 592h1v1h-1zM983 592h1v1h-1zM984 592h1v1h-1zM985 592h1v1h-1zM986 592h1v1h-1zM987 592h1v1h-1zM988 591h1v1h-1zM989 591h1v1h-1zM990 590h1v1h-1zM991 590h1v1h-1zM992 590h1v1h-1zM993 589h1v1h-1zM994 589h1v1h-1zM995 589h1v1h-1zM996 589h1v1h-1zM997 589h1v1h-1zM998 590h1v1h-1zM999 590h1v1h-1zM1000 590h1v1h-1zM1001 590h1v1h-1zM1002 590h1v1h-1zM1003 590h1v1h-1zM1004 590h1v1h-1zM1005 590h1v1h-1zM1006 590h1v1h-1zM1007 590h1v1h-1zM1008 590h1v1h-1zM1009 590h1v1h-1zM1010 590h1v1h-1zM1011 590h1v1h-1zM1012 589h1v1h-1zM1013 589h1v1h-1zM1014 588h1v1h-1zM1015 588h1v1h-1zM1016 588h1v1h-1zM1017 587h1v1h-1zM1018 587h1v1h-1zM1019 587h1v1h-1zM1020 588h1v1h-1zM1021 588h1v1h-1zM1022 588h1v1h-1zM1023 588h1v1h-1zM1024 589h1v1h-1zM1025 589h1v1h-1zM1026 589h1v1h-1zM1027 590h1v1h-1zM1028 591h1v1h-1zM1029 591h1v1h-1zM1030 592h1v1h-1zM1031 593h1v1h-1zM1032 594h1v1h-1zM1033 594h1v1h-1zM1034 595h1v1h-1zM1035 595h1v1h-1zM1036 595h1v1h-1zM1037 595h1v1h-1zM1038 594h1v1h-1zM1039 594h1v1h-1zM1040 594h1v1h-1zM1041 594h1v1h-1zM1042 594h1v1h-1zM1043 592h1v2h-1zM1044 591h1v1h-1zM1045 589h1v2h-1zM1046 588h1v1h-1zM1047 586h1v2h-1zM1048 585h1v1h-1zM1049 583h1v2h-1zM1050 582h1v1h-1zM1051 582h1v1h-1zM1052 582h1v1h-1zM1053 582h1v1h-1zM1054 582h1v1h-1zM1055 582h1v1h-1zM1056 582h1v1h-1zM1057 582h1v1h-1zM1058 582h1v1h-1zM1059 582h1v1h-1zM1060 581h1v1h-1zM1061 581h1v1h-1zM1062 581h1v1h-1zM1063 581h1v1h-1zM1064 580h1v1h-1zM1065 580h1v1h-1zM1066 580h1v1h-1zM1067 580h1v1h-1zM1068 580h1v1h-1zM1069 580h1v1h-1zM1070 579h1v1h-1zM1071 579h1v1h-1zM1072 579h1v1h-1zM1073 579h1v1h-1zM1074 579h1v1h-1zM1075 579h1v1h-1zM1076 579h1v1h-1zM1077 579h1v1h-1zM1078 579h1v1h-1zM1079 579h1v1h-1zM1080 579h1v1h-1zM1081 579h1v1h-1zM1082 579h1v1h-1zM1083 579h1v1h-1zM1084 578h1v1h-1zM1085 578h1v1h-1zM1086 577h1v1h-1zM1087 577h1v1h-1zM1088 577h1v1h-1zM1089 576h1v1h-1zM1090 576h1v2h-1zM1091 578h1v3h-1zM1092 581h1v4h-1zM1093 585h1v3h-1zM1094 588h1v3h-1zM1095 591h1v3h-1zM1096 594h1v4h-1zM1097 598h1v3h-1zM1098 601h1v2h-1zM1099 602h1v1h-1zM1100 603h1v1h-1zM1101 603h1v1h-1zM1102 604h1v1h-1zM1103 604h1v1h-1zM1104 604h1v1h-1zM1105 605h1v1h-1zM1106 605h1v1h-1zM1107 604h1v1h-1zM1108 603h1v1h-1zM1109 602h1v1h-1zM1110 601h1v1h-1zM1111 601h1v1h-1zM1112 600h1v1h-1zM1113 599h1v1h-1zM1114 598h1v1h-1zM1115 598h1v1h-1zM1116 597h1v1h-1zM1117 597h1v1h-1zM1118 597h1v1h-1zM1119 597h1v1h-1zM1120 596h1v1h-1zM1121 596h1v1h-1zM1122 596h1v1h-1zM1123 596h1v1h-1zM1124 597h1v1h-1zM1125 597h1v1h-1zM1126 597h1v1h-1zM1127 597h1v1h-1zM1128 598h1v1h-1zM1129 598h1v1h-1zM1130 598h1v1h-1zM1131 598h1v1h-1zM1132 598h1v1h-1zM1133 598h1v1h-1zM1134 597h1v1h-1zM1135 597h1v1h-1zM1136 597h1v1h-1zM1137 597h1v1h-1zM1138 597h1v1h-1zM1139 598h1v2h-1zM1140 600h1v1h-1zM1141 601h1v1h-1zM1142 602h1v2h-1zM1143 604h1v1h-1zM1144 605h1v1h-1zM1145 606h1v2h-1zM1146 608h1v1h-1zM1147 608h1v1h-1zM1148 607h1v1h-1zM1149 607h1v1h-1zM1150 607h1v1h-1zM1151 607h1v1h-1zM1152 606h1v1h-1zM1153 606h1v1h-1zM1154 606h1v1h-1zM1155 606h1v1h-1zM1156 606h1v1h-1zM1157 606h1v1h-1zM1158 607h1v1h-1zM1159 607h1v1h-1zM1160 607h1v1h-1zM1161 607h1v1h-1zM1162 607h1v1h-1zM1163 607h1v1h-1zM1164 606h1v1h-1zM1165 606h1v1h-1zM1166 605h1v1h-1zM1167 605h1v1h-1zM1168 605h1v1h-1zM1169 604h1v1h-1zM1170 604h1v1h-1zM1171 604h1v1h-1zM1172 604h1v1h-1zM1173 604h1v1h-1zM1174 603h1v1h-1zM1175 603h1v1h-1zM1176 603h1v1h-1zM1177 603h1v1h-1zM1178 603h1v1h-1zM1179 602h1v1h-1zM1180 602h1v1h-1zM1181 601h1v1h-1zM1182 600h1v1h-1zM1183 600h1v1h-1zM1184 599h1v1h-1zM1185 599h1v1h-1zM1186 598h1v1h-1zM1187 598h1v1h-1zM1188 599h1v1h-1zM1189 599h1v1h-1zM1190 599h1v1h-1zM1191 599h1v1h-1zM1192 600h1v1h-1zM1193 600h1v1h-1zM1194 600h1v1h-1zM1195 600h1v1h-1zM1196 600h1v1h-1zM1197 600h1v1h-1zM1198 599h1v1h-1zM1199 599h1v1h-1zM1200 599h1v1h-1zM1201 599h1v1h-1zM1202 599h1v1h-1zM1203 599h1v1h-1zM1204 600h1v1h-1zM1205 600h1v1h-1zM1206 601h1v1h-1zM1207 601h1v1h-1zM1208 601h1v1h-1zM1209 602h1v1h-1zM1210 602h1v1h-1zM1211 602h1v1h-1zM1212 601h1v1h-1zM1213 601h1v1h-1zM1214 601h1v1h-1zM1215 601h1v1h-1zM1216 600h1v1h-1zM1217 600h1v1h-1zM1218 600h1v1h-1zM1219 600h1v1h-1zM1220 601h1v1h-1zM1221 601h1v1h-1zM1222 602h1v1h-1zM1223 602h1v1h-1zM1224 602h1v1h-1zM1225 603h1v1h-1zM1226 603h1v1h-1zM1227 602h1v1h-1zM1228 601h1v1h-1zM1229 600h1v1h-1zM1230 599h1v1h-1zM1231 598h1v1h-1zM1232 597h1v1h-1zM1233 596h1v1h-1zM1234 595h1v1h-1zM1235 596h1v1h-1zM1236 597h1v1h-1zM1237 597h1v1h-1zM1238 598h1v1h-1zM1239 599h1v1h-1zM1240 600h1v1h-1zM1241 600h1v1h-1zM1242 601h1v1h-1z" fill="#1e90ff"/>
</g>
<text transform="translate(5.45,564) scale(0.9507,1)" font-size="9.9" fill="#000" stroke="#000" stroke-width="0.2">RSI(14) 48.5168</text>
<rect x="1579" y="553" width="2" height="1" fill="#000"/>
<rect x="1579" y="646" width="2" height="1" fill="#000"/>
<text transform="translate(1581.44,562) scale(0.9600,1)" font-size="9.9" fill="#000" stroke="#000" stroke-width="0.2">100</text>
<text transform="translate(1579.89,585) scale(1.0100,1)" font-size="9.9" fill="#000" stroke="#000" stroke-width="0.2">70</text>
<text transform="translate(1579.92,622) scale(0.9800,1)" font-size="9.9" fill="#000" stroke="#000" stroke-width="0.2">30</text>
<text transform="translate(1582.10,644) scale(0.9200,1)" font-size="9.9" fill="#000" stroke="#000" stroke-width="0.2">0</text>
<rect x="1" y="649" width="1578" height="1" fill="#000"/>
<rect x="1" y="745" width="1578" height="1" fill="#000"/>
<rect x="1" y="649" width="1" height="97" fill="#000"/>
<rect x="1578" y="649" width="1" height="97" fill="#000"/>
<g clip-path="url(#cd)">
<rect x="2" y="692" width="1" height="17" fill="#c0c0c0"/>
<rect x="10" y="692" width="1" height="17" fill="#c0c0c0"/>
<rect x="18" y="693" width="1" height="16" fill="#c0c0c0"/>
<rect x="26" y="698" width="1" height="11" fill="#c0c0c0"/>
<rect x="34" y="704" width="1" height="5" fill="#c0c0c0"/>
<rect x="42" y="708" width="1" height="5" fill="#c0c0c0"/>
<rect x="50" y="708" width="1" height="15" fill="#c0c0c0"/>
<rect x="58" y="708" width="1" height="24" fill="#c0c0c0"/>
<rect x="66" y="708" width="1" height="30" fill="#c0c0c0"/>
<rect x="74" y="708" width="1" height="32" fill="#c0c0c0"/>
<rect x="82" y="708" width="1" height="31" fill="#c0c0c0"/>
<rect x="90" y="708" width="1" height="28" fill="#c0c0c0"/>
<rect x="98" y="708" width="1" height="23" fill="#c0c0c0"/>
<rect x="106" y="708" width="1" height="21" fill="#c0c0c0"/>
<rect x="114" y="708" width="1" height="19" fill="#c0c0c0"/>
<rect x="122" y="708" width="1" height="16" fill="#c0c0c0"/>
<rect x="130" y="708" width="1" height="15" fill="#c0c0c0"/>
<rect x="138" y="708" width="1" height="15" fill="#c0c0c0"/>
<rect x="146" y="708" width="1" height="13" fill="#c0c0c0"/>
<rect x="154" y="708" width="1" height="8" fill="#c0c0c0"/>
<rect x="162" y="708" width="1" height="4" fill="#c0c0c0"/>
<rect x="170" y="708" width="1" height="2" fill="#c0c0c0"/>
<rect x="178" y="708" width="1" height="3" fill="#c0c0c0"/>
<rect x="186" y="708" width="1" height="3" fill="#c0c0c0"/>
<rect x="194" y="708" width="1" height="8" fill="#c0c0c0"/>
<rect x="202" y="708" width="1" height="11" fill="#c0c0c0"/>
<rect x="210" y="708" width="1" height="14" fill="#c0c0c0"/>
<rect x="218" y="708" width="1" height="15" fill="#c0c0c0"/>
<rect x="226" y="708" width="1" height="18" fill="#c0c0c0"/>
<rect x="234" y="708" width="1" height="16" fill="#c0c0c0"/>
<rect x="242" y="708" width="1" height="16" fill="#c0c0c0"/>
<rect x="250" y="708" width="1" height="15" fill="#c0c0c0"/>
<rect x="258" y="708" width="1" height="13" fill="#c0c0c0"/>
<rect x="266" y="708" width="1" height="12" fill="#c0c0c0"/>
<rect x="274" y="708" width="1" height="10" fill="#c0c0c0"/>
<rect x="282" y="708" width="1" height="12" fill="#c0c0c0"/>
<rect x="290" y="708" width="1" height="17" fill="#c0c0c0"/>
<rect x="298" y="708" width="1" height="19" fill="#c0c0c0"/>
<rect x="306" y="708" width="1" height="21" fill="#c0c0c0"/>
<rect x="314" y="708" width="1" height="21" fill="#c0c0c0"/>
<rect x="322" y="708" width="1" height="15" fill="#c0c0c0"/>
<rect x="330" y="708" width="1" height="10" fill="#c0c0c0"/>
<rect x="338" y="708" width="1" height="1" fill="#c0c0c0"/>
<rect x="346" y="701" width="1" height="8" fill="#c0c0c0"/>
<rect x="354" y="696" width="1" height="13" fill="#c0c0c0"/>
<rect x="362" y="690" width="1" height="19" fill="#c0c0c0"/>
<rect x="370" y="687" width="1" height="22" fill="#c0c0c0"/>
<rect x="378" y="685" width="1" height="24" fill="#c0c0c0"/>
<rect x="386" y="684" width="1" height="25" fill="#c0c0c0"/>
<rect x="394" y="684" width="1" height="25" fill="#c0c0c0"/>
<rect x="402" y="684" width="1" height="25" fill="#c0c0c0"/>
<rect x="410" y="681" width="1" height="28" fill="#c0c0c0"/>
<rect x="418" y="680" width="1" height="29" fill="#c0c0c0"/>
<rect x="426" y="678" width="1" height="31" fill="#c0c0c0"/>
<rect x="434" y="680" width="1" height="29" fill="#c0c0c0"/>
<rect x="442" y="680" width="1" height="29" fill="#c0c0c0"/>
<rect x="450" y="680" width="1" height="29" fill="#c0c0c0"/>
<rect x="458" y="682" width="1" height="27" fill="#c0c0c0"/>
<rect x="466" y="680" width="1" height="29" fill="#c0c0c0"/>
<rect x="474" y="679" width="1" height="30" fill="#c0c0c0"/>
<rect x="482" y="678" width="1" height="31" fill="#c0c0c0"/>
<rect x="490" y="675" width="1" height="34" fill="#c0c0c0"/>
<rect x="498" y="675" width="1" height="34" fill="#c0c0c0"/>
<rect x="506" y="675" width="1" height="34" fill="#c0c0c0"/>
<rect x="514" y="677" width="1" height="32" fill="#c0c0c0"/>
<rect x="522" y="677" width="1" height="32" fill="#c0c0c0"/>
<rect x="530" y="674" width="1" height="35" fill="#c0c0c0"/>
<rect x="538" y="673" width="1" height="36" fill="#c0c0c0"/>
<rect x="546" y="672" width="1" height="37" fill="#c0c0c0"/>
<rect x="554" y="672" width="1" height="37" fill="#c0c0c0"/>
<rect x="562" y="673" width="1" height="36" fill="#c0c0c0"/>
<rect x="570" y="673" width="1" height="36" fill="#c0c0c0"/>
<rect x="578" y="669" width="1" height="40" fill="#c0c0c0"/>
<rect x="586" y="666" width="1" height="43" fill="#c0c0c0"/>
<rect x="594" y="665" width="1" height="44" fill="#c0c0c0"/>
<rect x="602" y="664" width="1" height="45" fill="#c0c0c0"/>
<rect x="610" y="663" width="1" height="46" fill="#c0c0c0"/>
<rect x="618" y="662" width="1" height="47" fill="#c0c0c0"/>
<rect x="626" y="659" width="1" height="50" fill="#c0c0c0"/>
<rect x="634" y="658" width="1" height="51" fill="#c0c0c0"/>
<rect x="642" y="657" width="1" height="52" fill="#c0c0c0"/>
<rect x="650" y="660" width="1" height="49" fill="#c0c0c0"/>
<rect x="658" y="665" width="1" height="44" fill="#c0c0c0"/>
<rect x="666" y="666" width="1" height="43" fill="#c0c0c0"/>
<rect x="674" y="666" width="1" height="43" fill="#c0c0c0"/>
<rect x="682" y="667" width="1" height="42" fill="#c0c0c0"/>
<rect x="690" y="670" width="1" height="39" fill="#c0c0c0"/>
<rect x="698" y="670" width="1" height="39" fill="#c0c0c0"/>
<rect x="706" y="667" width="1" height="42" fill="#c0c0c0"/>
<rect x="714" y="663" width="1" height="46" fill="#c0c0c0"/>
<rect x="722" y="662" width="1" height="47" fill="#c0c0c0"/>
<rect x="730" y="662" width="1" height="47" fill="#c0c0c0"/>
<rect x="738" y="661" width="1" height="48" fill="#c0c0c0"/>
<rect x="746" y="658" width="1" height="51" fill="#c0c0c0"/>
<rect x="754" y="657" width="1" height="52" fill="#c0c0c0"/>
<rect x="762" y="655" width="1" height="54" fill="#c0c0c0"/>
<rect x="770" y="657" width="1" height="52" fill="#c0c0c0"/>
<rect x="778" y="661" width="1" height="48" fill="#c0c0c0"/>
<rect x="786" y="663" width="1" height="46" fill="#c0c0c0"/>
<rect x="794" y="664" width="1" height="45" fill="#c0c0c0"/>
<rect x="802" y="665" width="1" height="44" fill="#c0c0c0"/>
<rect x="810" y="669" width="1" height="40" fill="#c0c0c0"/>
<rect x="818" y="672" width="1" height="37" fill="#c0c0c0"/>
<rect x="826" y="676" width="1" height="33" fill="#c0c0c0"/>
<rect x="834" y="679" width="1" height="30" fill="#c0c0c0"/>
<rect x="842" y="679" width="1" height="30" fill="#c0c0c0"/>
<rect x="850" y="679" width="1" height="30" fill="#c0c0c0"/>
<rect x="858" y="681" width="1" height="28" fill="#c0c0c0"/>
<rect x="866" y="683" width="1" height="26" fill="#c0c0c0"/>
<rect x="874" y="686" width="1" height="23" fill="#c0c0c0"/>
<rect x="882" y="686" width="1" height="23" fill="#c0c0c0"/>
<rect x="890" y="690" width="1" height="19" fill="#c0c0c0"/>
<rect x="898" y="694" width="1" height="15" fill="#c0c0c0"/>
<rect x="906" y="697" width="1" height="12" fill="#c0c0c0"/>
<rect x="914" y="701" width="1" height="8" fill="#c0c0c0"/>
<rect x="922" y="705" width="1" height="4" fill="#c0c0c0"/>
<rect x="930" y="708" width="1" height="3" fill="#c0c0c0"/>
<rect x="938" y="708" width="1" height="5" fill="#c0c0c0"/>
<rect x="946" y="708" width="1" height="8" fill="#c0c0c0"/>
<rect x="954" y="708" width="1" height="7" fill="#c0c0c0"/>
<rect x="962" y="708" width="1" height="6" fill="#c0c0c0"/>
<rect x="970" y="708" width="1" height="2" fill="#c0c0c0"/>
<rect x="978" y="707" width="1" height="2" fill="#c0c0c0"/>
<rect x="986" y="704" width="1" height="5" fill="#c0c0c0"/>
<rect x="994" y="700" width="1" height="9" fill="#c0c0c0"/>
<rect x="1002" y="698" width="1" height="11" fill="#c0c0c0"/>
<rect x="1010" y="696" width="1" height="13" fill="#c0c0c0"/>
<rect x="1018" y="693" width="1" height="16" fill="#c0c0c0"/>
<rect x="1026" y="691" width="1" height="18" fill="#c0c0c0"/>
<rect x="1034" y="692" width="1" height="17" fill="#c0c0c0"/>
<rect x="1042" y="693" width="1" height="16" fill="#c0c0c0"/>
<rect x="1050" y="687" width="1" height="22" fill="#c0c0c0"/>
<rect x="1058" y="683" width="1" height="26" fill="#c0c0c0"/>
<rect x="1066" y="678" width="1" height="31" fill="#c0c0c0"/>
<rect x="1074" y="674" width="1" height="35" fill="#c0c0c0"/>
<rect x="1082" y="671" width="1" height="38" fill="#c0c0c0"/>
<rect x="1090" y="667" width="1" height="42" fill="#c0c0c0"/>
<rect x="1098" y="675" width="1" height="34" fill="#c0c0c0"/>
<rect x="1106" y="684" width="1" height="25" fill="#c0c0c0"/>
<rect x="1114" y="687" width="1" height="22" fill="#c0c0c0"/>
<rect x="1122" y="688" width="1" height="21" fill="#c0c0c0"/>
<rect x="1130" y="690" width="1" height="19" fill="#c0c0c0"/>
<rect x="1138" y="692" width="1" height="17" fill="#c0c0c0"/>
<rect x="1146" y="701" width="1" height="8" fill="#c0c0c0"/>
<rect x="1154" y="706" width="1" height="3" fill="#c0c0c0"/>
<rect x="1162" y="708" width="1" height="3" fill="#c0c0c0"/>
<rect x="1170" y="708" width="1" height="6" fill="#c0c0c0"/>
<rect x="1178" y="708" width="1" height="7" fill="#c0c0c0"/>
<rect x="1186" y="708" width="1" height="5" fill="#c0c0c0"/>
<rect x="1194" y="708" width="1" height="5" fill="#c0c0c0"/>
<rect x="1202" y="708" width="1" height="4" fill="#c0c0c0"/>
<rect x="1210" y="708" width="1" height="4" fill="#c0c0c0"/>
<rect x="1218" y="708" width="1" height="4" fill="#c0c0c0"/>
<rect x="1226" y="708" width="1" height="6" fill="#c0c0c0"/>
<rect x="1234" y="708" width="1" height="2" fill="#c0c0c0"/>
<rect x="1242" y="708" width="1" height="3" fill="#c0c0c0"/>
<path d="M2 689h1v1h-1zM3 689h1v1h-1zM4 689h1v1h-1zM8 690h1v1h-1zM9 690h1v1h-1zM10 690h1v1h-1zM14 690h1v1h-1zM15 690h1v1h-1zM16 690h1v1h-1zM20 690h1v1h-1zM21 690h1v1h-1zM22 691h1v1h-1zM26 691h1v1h-1zM27 691h1v1h-1zM28 692h1v1h-1zM32 693h1v1h-1zM33 693h1v1h-1zM34 693h1v1h-1zM38 694h1v1h-1zM39 694h1v1h-1zM40 695h1v1h-1zM44 696h1v1h-1zM45 697h1v1h-1zM46 697h1v1h-1zM50 699h1v1h-1zM51 700h1v1h-1zM52 700h1v1h-1zM56 702h1v1h-1zM57 703h1v1h-1zM58 703h1v1h-1zM62 706h1v1h-1zM63 707h1v1h-1zM64 708h1v1h-1zM68 710h1v1h-1zM69 711h1v1h-1zM70 712h1v1h-1zM74 714h1v1h-1zM75 715h1v1h-1zM76 716h1v1h-1zM80 719h1v1h-1zM81 719h1v1h-1zM82 720h1v1h-1zM86 722h1v1h-1zM87 723h1v1h-1zM88 723h1v1h-1zM92 725h1v1h-1zM93 726h1v1h-1zM94 726h1v1h-1zM98 728h1v1h-1zM99 728h1v1h-1zM100 729h1v1h-1zM104 730h1v1h-1zM105 731h1v1h-1zM106 731h1v1h-1zM110 732h1v1h-1zM111 732h1v1h-1zM112 732h1v1h-1zM116 732h1v1h-1zM117 732h1v1h-1zM118 732h1v1h-1zM122 732h1v1h-1zM123 732h1v1h-1zM124 732h1v1h-1zM128 731h1v1h-1zM129 731h1v1h-1zM130 731h1v1h-1zM134 730h1v1h-1zM135 730h1v1h-1zM136 730h1v1h-1zM140 729h1v1h-1zM141 729h1v1h-1zM142 729h1v1h-1zM146 728h1v1h-1zM147 728h1v1h-1zM148 727h1v1h-1zM152 726h1v1h-1zM153 725h1v1h-1zM154 725h1v1h-1zM158 723h1v1h-1zM159 723h1v1h-1zM160 723h1v1h-1zM164 721h1v1h-1zM165 721h1v1h-1zM166 721h1v1h-1zM170 720h1v1h-1zM171 720h1v1h-1zM172 719h1v1h-1zM176 718h1v1h-1zM177 718h1v1h-1zM178 718h1v1h-1zM182 717h1v1h-1zM183 717h1v1h-1zM184 716h1v1h-1zM188 716h1v1h-1zM189 716h1v1h-1zM190 715h1v1h-1zM194 715h1v1h-1zM195 715h1v1h-1zM196 715h1v1h-1zM200 715h1v1h-1zM201 715h1v1h-1zM202 715h1v1h-1zM206 715h1v1h-1zM207 715h1v1h-1zM208 715h1v1h-1zM212 715h1v1h-1zM213 715h1v1h-1zM214 715h1v1h-1zM218 715h1v1h-1zM219 715h1v1h-1zM220 715h1v1h-1zM224 716h1v1h-1zM225 716h1v1h-1zM226 716h1v1h-1zM230 717h1v1h-1zM231 717h1v1h-1zM232 717h1v1h-1zM236 718h1v1h-1zM237 718h1v1h-1zM238 718h1v1h-1zM242 719h1v1h-1zM243 719h1v1h-1zM244 719h1v1h-1zM248 720h1v1h-1zM249 720h1v1h-1zM250 720h1v1h-1zM254 721h1v1h-1zM255 721h1v1h-1zM256 721h1v1h-1zM260 721h1v1h-1zM261 721h1v1h-1zM262 722h1v1h-1zM266 722h1v1h-1zM267 722h1v1h-1zM268 722h1v1h-1zM272 722h1v1h-1zM273 722h1v1h-1zM274 722h1v1h-1zM278 722h1v1h-1zM279 722h1v1h-1zM280 722h1v1h-1zM284 722h1v1h-1zM285 722h1v1h-1zM286 722h1v1h-1zM290 722h1v1h-1zM291 722h1v1h-1zM292 722h1v1h-1zM296 722h1v1h-1zM297 722h1v1h-1zM298 722h1v1h-1zM302 722h1v1h-1zM303 722h1v1h-1zM304 722h1v1h-1zM308 722h1v1h-1zM309 722h1v1h-1zM310 723h1v1h-1zM314 723h1v1h-1zM315 723h1v1h-1zM316 723h1v1h-1zM320 723h1v1h-1zM321 723h1v1h-1zM322 723h1v1h-1zM326 723h1v1h-1zM327 723h1v1h-1zM328 723h1v1h-1zM332 723h1v1h-1zM333 723h1v1h-1zM334 722h1v1h-1zM338 722h1v1h-1zM339 722h1v1h-1zM340 721h1v1h-1zM344 720h1v1h-1zM345 720h1v1h-1zM346 720h1v1h-1zM350 718h1v1h-1zM351 718h1v1h-1zM352 718h1v1h-1zM356 716h1v1h-1zM357 715h1v1h-1zM358 715h1v1h-1zM362 713h1v1h-1zM363 712h1v1h-1zM364 712h1v1h-1zM368 710h1v1h-1zM369 709h1v1h-1zM370 709h1v1h-1zM374 706h1v1h-1zM375 706h1v1h-1zM376 705h1v1h-1zM380 703h1v1h-1zM381 702h1v1h-1zM382 701h1v1h-1zM386 699h1v1h-1zM387 698h1v1h-1zM388 698h1v1h-1zM392 695h1v1h-1zM393 695h1v1h-1zM394 694h1v1h-1zM398 692h1v1h-1zM399 691h1v1h-1zM400 691h1v1h-1zM404 689h1v1h-1zM405 689h1v1h-1zM406 688h1v1h-1zM410 687h1v1h-1zM411 687h1v1h-1zM412 686h1v1h-1zM416 685h1v1h-1zM417 685h1v1h-1zM418 685h1v1h-1zM422 684h1v1h-1zM423 684h1v1h-1zM424 683h1v1h-1zM428 683h1v1h-1zM429 683h1v1h-1zM430 682h1v1h-1zM434 682h1v1h-1zM435 682h1v1h-1zM436 682h1v1h-1zM440 681h1v1h-1zM441 681h1v1h-1zM442 681h1v1h-1zM446 681h1v1h-1zM447 681h1v1h-1zM448 681h1v1h-1zM452 681h1v1h-1zM453 681h1v1h-1zM454 680h1v1h-1zM458 680h1v1h-1zM459 680h1v1h-1zM460 680h1v1h-1zM464 680h1v1h-1zM465 680h1v1h-1zM466 680h1v1h-1zM470 679h1v1h-1zM471 679h1v1h-1zM472 679h1v1h-1zM476 679h1v1h-1zM477 679h1v1h-1zM478 679h1v1h-1zM482 679h1v1h-1zM483 679h1v1h-1zM484 679h1v1h-1zM488 678h1v1h-1zM489 678h1v1h-1zM490 678h1v1h-1zM494 678h1v1h-1zM495 678h1v1h-1zM496 678h1v1h-1zM500 678h1v1h-1zM501 678h1v1h-1zM502 678h1v1h-1zM506 678h1v1h-1zM507 678h1v1h-1zM508 678h1v1h-1zM512 677h1v1h-1zM513 677h1v1h-1zM514 677h1v1h-1zM518 677h1v1h-1zM519 677h1v1h-1zM520 677h1v1h-1zM524 677h1v1h-1zM525 677h1v1h-1zM526 676h1v1h-1zM530 676h1v1h-1zM531 676h1v1h-1zM532 676h1v1h-1zM536 675h1v1h-1zM537 675h1v1h-1zM538 675h1v1h-1zM542 675h1v1h-1zM543 675h1v1h-1zM544 675h1v1h-1zM548 675h1v1h-1zM549 675h1v1h-1zM550 674h1v1h-1zM554 674h1v1h-1zM555 674h1v1h-1zM556 674h1v1h-1zM560 674h1v1h-1zM561 674h1v1h-1zM562 674h1v1h-1zM566 674h1v1h-1zM567 674h1v1h-1zM568 674h1v1h-1zM572 674h1v1h-1zM573 674h1v1h-1zM574 673h1v1h-1zM578 673h1v1h-1zM579 673h1v1h-1zM580 673h1v1h-1zM584 672h1v1h-1zM585 672h1v1h-1zM586 672h1v1h-1zM590 671h1v1h-1zM591 671h1v1h-1zM592 670h1v1h-1zM596 670h1v1h-1zM597 670h1v1h-1zM598 669h1v1h-1zM602 669h1v1h-1zM603 669h1v1h-1zM604 669h1v1h-1zM608 668h1v1h-1zM609 668h1v1h-1zM610 668h1v1h-1zM614 667h1v1h-1zM615 667h1v1h-1zM616 667h1v1h-1zM620 667h1v1h-1zM621 667h1v1h-1zM622 666h1v1h-1zM626 666h1v1h-1zM627 666h1v1h-1zM628 665h1v1h-1zM632 664h1v1h-1zM633 664h1v1h-1zM634 664h1v1h-1zM638 663h1v1h-1zM639 663h1v1h-1zM640 662h1v1h-1zM644 662h1v1h-1zM645 662h1v1h-1zM646 661h1v1h-1zM650 661h1v1h-1zM651 661h1v1h-1zM652 661h1v1h-1zM656 661h1v1h-1zM657 661h1v1h-1zM658 661h1v1h-1zM662 661h1v1h-1zM663 661h1v1h-1zM664 661h1v1h-1zM668 661h1v1h-1zM669 661h1v1h-1zM670 661h1v1h-1zM674 661h1v1h-1zM675 661h1v1h-1zM676 661h1v1h-1zM680 662h1v1h-1zM681 662h1v1h-1zM682 662h1v1h-1zM686 663h1v1h-1zM687 663h1v1h-1zM688 663h1v1h-1zM692 663h1v1h-1zM693 663h1v1h-1zM694 664h1v1h-1zM698 664h1v1h-1zM699 664h1v1h-1zM700 664h1v1h-1zM704 665h1v1h-1zM705 665h1v1h-1zM706 665h1v1h-1zM710 666h1v1h-1zM711 666h1v1h-1zM712 666h1v1h-1zM716 666h1v1h-1zM717 666h1v1h-1zM718 666h1v1h-1zM722 666h1v1h-1zM723 666h1v1h-1zM724 666h1v1h-1zM728 666h1v1h-1zM729 666h1v1h-1zM730 666h1v1h-1zM734 665h1v1h-1zM735 665h1v1h-1zM736 665h1v1h-1zM740 665h1v1h-1zM741 665h1v1h-1zM742 664h1v1h-1zM746 664h1v1h-1zM747 664h1v1h-1zM748 664h1v1h-1zM752 663h1v1h-1zM753 663h1v1h-1zM754 663h1v1h-1zM758 662h1v1h-1zM759 662h1v1h-1zM760 661h1v1h-1zM764 661h1v1h-1zM765 661h1v1h-1zM766 660h1v1h-1zM770 660h1v1h-1zM771 660h1v1h-1zM772 660h1v1h-1zM776 659h1v1h-1zM777 659h1v1h-1zM778 659h1v1h-1zM782 659h1v1h-1zM783 659h1v1h-1zM784 659h1v1h-1zM788 659h1v1h-1zM789 659h1v1h-1zM790 659h1v1h-1zM794 659h1v1h-1zM795 659h1v1h-1zM796 659h1v1h-1zM800 660h1v1h-1zM801 660h1v1h-1zM802 660h1v1h-1zM806 660h1v1h-1zM807 660h1v1h-1zM808 660h1v1h-1zM812 661h1v1h-1zM813 661h1v1h-1zM814 661h1v1h-1zM818 662h1v1h-1zM819 662h1v1h-1zM820 663h1v1h-1zM824 664h1v1h-1zM825 664h1v1h-1zM826 664h1v1h-1zM830 666h1v1h-1zM831 666h1v1h-1zM832 666h1v1h-1zM836 668h1v1h-1zM837 668h1v1h-1zM838 668h1v1h-1zM842 669h1v1h-1zM843 669h1v1h-1zM844 670h1v1h-1zM848 671h1v1h-1zM849 671h1v1h-1zM850 671h1v1h-1zM854 672h1v1h-1zM855 672h1v1h-1zM856 673h1v1h-1zM860 674h1v1h-1zM861 674h1v1h-1zM862 674h1v1h-1zM866 675h1v1h-1zM867 675h1v1h-1zM868 676h1v1h-1zM872 677h1v1h-1zM873 678h1v1h-1zM874 678h1v1h-1zM878 679h1v1h-1zM879 679h1v1h-1zM880 680h1v1h-1zM884 681h1v1h-1zM885 681h1v1h-1zM886 681h1v1h-1zM890 682h1v1h-1zM891 682h1v1h-1zM892 683h1v1h-1zM896 684h1v1h-1zM897 684h1v1h-1zM898 684h1v1h-1zM902 685h1v1h-1zM903 685h1v1h-1zM904 686h1v1h-1zM908 687h1v1h-1zM909 687h1v1h-1zM910 687h1v1h-1zM914 688h1v1h-1zM915 688h1v1h-1zM916 689h1v1h-1zM920 690h1v1h-1zM921 691h1v1h-1zM922 691h1v1h-1zM926 693h1v1h-1zM927 693h1v1h-1zM928 693h1v1h-1zM932 695h1v1h-1zM933 696h1v1h-1zM934 696h1v1h-1zM938 698h1v1h-1zM939 698h1v1h-1zM940 699h1v1h-1zM944 700h1v1h-1zM945 701h1v1h-1zM946 701h1v1h-1zM950 703h1v1h-1zM951 703h1v1h-1zM952 703h1v1h-1zM956 705h1v1h-1zM957 705h1v1h-1zM958 706h1v1h-1zM962 707h1v1h-1zM963 707h1v1h-1zM964 708h1v1h-1zM968 709h1v1h-1zM969 709h1v1h-1zM970 709h1v1h-1zM974 710h1v1h-1zM975 710h1v1h-1zM976 710h1v1h-1zM980 710h1v1h-1zM981 710h1v1h-1zM982 710h1v1h-1zM986 710h1v1h-1zM987 710h1v1h-1zM988 710h1v1h-1zM992 710h1v1h-1zM993 710h1v1h-1zM994 710h1v1h-1zM998 709h1v1h-1zM999 709h1v1h-1zM1000 708h1v1h-1zM1004 707h1v1h-1zM1005 707h1v1h-1zM1006 707h1v1h-1zM1010 706h1v1h-1zM1011 706h1v1h-1zM1012 705h1v1h-1zM1016 704h1v1h-1zM1017 704h1v1h-1zM1018 704h1v1h-1zM1022 702h1v1h-1zM1023 702h1v1h-1zM1024 702h1v1h-1zM1028 700h1v1h-1zM1029 700h1v1h-1zM1030 700h1v1h-1zM1034 699h1v1h-1zM1035 699h1v1h-1zM1036 698h1v1h-1zM1040 697h1v1h-1zM1041 697h1v1h-1zM1042 697h1v1h-1zM1046 695h1v1h-1zM1047 695h1v1h-1zM1048 695h1v1h-1zM1052 693h1v1h-1zM1053 693h1v1h-1zM1054 693h1v1h-1zM1058 692h1v1h-1zM1059 692h1v1h-1zM1060 691h1v1h-1zM1064 690h1v1h-1zM1065 690h1v1h-1zM1066 690h1v1h-1zM1070 688h1v1h-1zM1071 688h1v1h-1zM1072 688h1v1h-1zM1076 686h1v1h-1zM1077 686h1v1h-1zM1078 685h1v1h-1zM1082 684h1v1h-1zM1083 684h1v1h-1zM1084 683h1v1h-1zM1088 682h1v1h-1zM1089 681h1v1h-1zM1090 681h1v1h-1zM1094 680h1v1h-1zM1095 680h1v1h-1zM1096 680h1v1h-1zM1100 680h1v1h-1zM1101 680h1v1h-1zM1102 679h1v1h-1zM1106 679h1v1h-1zM1107 679h1v1h-1zM1108 679h1v1h-1zM1112 678h1v1h-1zM1113 678h1v1h-1zM1114 678h1v1h-1zM1118 678h1v1h-1zM1119 678h1v1h-1zM1120 678h1v1h-1zM1124 678h1v1h-1zM1125 678h1v1h-1zM1126 679h1v1h-1zM1130 679h1v1h-1zM1131 679h1v1h-1zM1132 680h1v1h-1zM1136 681h1v1h-1zM1137 681h1v1h-1zM1138 681h1v1h-1zM1142 683h1v1h-1zM1143 683h1v1h-1zM1144 683h1v1h-1zM1148 685h1v1h-1zM1149 685h1v1h-1zM1150 686h1v1h-1zM1154 687h1v1h-1zM1155 688h1v1h-1zM1156 688h1v1h-1zM1160 691h1v1h-1zM1161 691h1v1h-1zM1162 692h1v1h-1zM1166 695h1v1h-1zM1167 695h1v1h-1zM1168 696h1v1h-1zM1172 698h1v1h-1zM1173 698h1v1h-1zM1174 699h1v1h-1zM1178 700h1v1h-1zM1179 700h1v1h-1zM1180 701h1v1h-1zM1184 702h1v1h-1zM1185 703h1v1h-1zM1186 703h1v1h-1zM1190 705h1v1h-1zM1191 705h1v1h-1zM1192 705h1v1h-1zM1196 707h1v1h-1zM1197 707h1v1h-1zM1198 707h1v1h-1zM1202 708h1v1h-1zM1203 708h1v1h-1zM1204 709h1v1h-1zM1208 710h1v1h-1zM1209 710h1v1h-1zM1210 710h1v1h-1zM1214 711h1v1h-1zM1215 711h1v1h-1zM1216 712h1v1h-1zM1220 712h1v1h-1zM1221 712h1v1h-1zM1222 712h1v1h-1zM1226 712h1v1h-1zM1227 712h1v1h-1zM1228 712h1v1h-1zM1232 712h1v1h-1zM1233 712h1v1h-1zM1234 712h1v1h-1zM1238 712h1v1h-1zM1239 712h1v1h-1zM1240 712h1v1h-1z" fill="#ff0000"/>
</g>
<text transform="translate(5.55,662) scale(0.9457,1)" font-size="9.9" fill="#000" stroke="#000" stroke-width="0.2">MACD(12,26,9) -0.000408 -0.000667</text>
<rect x="1579" y="651" width="2" height="1" fill="#000"/>
<rect x="1579" y="708" width="2" height="1" fill="#000"/>
<rect x="1579" y="744" width="2" height="1" fill="#000"/>
<text transform="translate(1582.00,660) scale(0.9400,1)" font-size="9.9" fill="#000" stroke="#000" stroke-width="0.2">0.00884</text>
<text transform="translate(1582.20,712) scale(0.9158,1)" font-size="9.9" fill="#000" stroke="#000" stroke-width="0.2">0.00</text>
<text transform="translate(1582.00,742) scale(0.9182,1)" font-size="9.9" fill="#000" stroke="#000" stroke-width="0.2">-0.005651</text>
<rect x="2" y="746" width="1" height="3" fill="#000"/>
<text transform="translate(0.57,758) scale(0.9327,1)" font-size="9.9" fill="#000" stroke="#000" stroke-width="0.2">17 Sep 2020</text>
<rect x="66" y="746" width="1" height="3" fill="#000"/>
<text transform="translate(65.00,758) scale(0.9250,1)" font-size="9.9" fill="#000" stroke="#000" stroke-width="0.2">26 Sep 2020</text>
<rect x="130" y="746" width="1" height="3" fill="#000"/>
<text transform="translate(129.10,758) scale(0.9521,1)" font-size="9.9" fill="#000" stroke="#000" stroke-width="0.2">6 Oct 2020</text>
<rect x="194" y="746" width="1" height="3" fill="#000"/>
<text transform="translate(192.14,758) scale(0.9604,1)" font-size="9.9" fill="#000" stroke="#000" stroke-width="0.2">15 Oct 2020</text>
<rect x="258" y="746" width="1" height="3" fill="#000"/>
<text transform="translate(257.30,758) scale(0.9389,1)" font-size="9.9" fill="#000" stroke="#000" stroke-width="0.2">24 Oct 2020</text>
<rect x="322" y="746" width="1" height="3" fill="#000"/>
<text transform="translate(319.90,758) scale(0.9980,1)" font-size="9.9" fill="#000" stroke="#000" stroke-width="0.2">3 Nov 2020</text>
<rect x="386" y="746" width="1" height="3" fill="#000"/>
<text transform="translate(384.63,758) scale(0.9673,1)" font-size="9.9" fill="#000" stroke="#000" stroke-width="0.2">12 Nov 2020</text>
<rect x="450" y="746" width="1" height="3" fill="#000"/>
<text transform="translate(449.10,758) scale(0.9607,1)" font-size="9.9" fill="#000" stroke="#000" stroke-width="0.2">21 Nov 2020</text>
<rect x="514" y="746" width="1" height="3" fill="#000"/>
<text transform="translate(512.26,758) scale(0.9449,1)" font-size="9.9" fill="#000" stroke="#000" stroke-width="0.2">1 Dec 2020</text>
<rect x="578" y="746" width="1" height="3" fill="#000"/>
<text transform="translate(576.06,758) scale(0.9400,1)" font-size="9.9" fill="#000" stroke="#000" stroke-width="0.2">10 Dec 2020</text>
<rect x="642" y="746" width="1" height="3" fill="#000"/>
<text transform="translate(640.27,758) scale(0.9345,1)" font-size="9.9" fill="#000" stroke="#000" stroke-width="0.2">19 Dec 2020</text>
<rect x="706" y="746" width="1" height="3" fill="#000"/>
<text transform="translate(704.16,758) scale(0.9400,1)" font-size="9.9" fill="#000" stroke="#000" stroke-width="0.2">30 Dec 2020</text>
<rect x="770" y="746" width="1" height="3" fill="#000"/>
<text transform="translate(769.20,758) scale(0.8918,1)" font-size="9.9" fill="#000" stroke="#000" stroke-width="0.2">9 Jan 2021</text>
<rect x="834" y="746" width="1" height="3" fill="#000"/>
<text transform="translate(832.48,758) scale(0.9245,1)" font-size="9.9" fill="#000" stroke="#000" stroke-width="0.2">19 Jan 2021</text>
<rect x="898" y="746" width="1" height="3" fill="#000"/>
<text transform="translate(897.20,758) scale(0.9167,1)" font-size="9.9" fill="#000" stroke="#000" stroke-width="0.2">28 Jan 2021</text>
<rect x="962" y="746" width="1" height="3" fill="#000"/>
<text transform="translate(961.00,758) scale(0.9280,1)" font-size="9.9" fill="#000" stroke="#000" stroke-width="0.2">6 Feb 2021</text>
<rect x="1026" y="746" width="1" height="3" fill="#000"/>
<text transform="translate(1024.25,758) scale(0.9519,1)" font-size="9.9" fill="#000" stroke="#000" stroke-width="0.2">16 Feb 2021</text>
<rect x="1090" y="746" width="1" height="3" fill="#000"/>
<text transform="translate(1089.20,758) scale(0.9291,1)" font-size="9.9" fill="#000" stroke="#000" stroke-width="0.2">25 Feb 2021</text>
<rect x="1154" y="746" width="1" height="3" fill="#000"/>
<text transform="translate(1153.30,758) scale(0.9180,1)" font-size="9.9" fill="#000" stroke="#000" stroke-width="0.2">6 Mar 2021</text>
<rect x="1218" y="746" width="1" height="3" fill="#000"/>
<text transform="translate(1216.76,758) scale(0.9352,1)" font-size="9.9" fill="#000" stroke="#000" stroke-width="0.2">16 Mar 2021</text>
<rect x="0" y="766" width="1624" height="1" fill="#e3e3e3"/>
<rect x="0" y="768" width="1624" height="1" fill="#000000"/>
<rect x="0" y="769" width="1624" height="1" fill="#f8f8f8"/>
<rect x="0" y="770" width="1624" height="21" fill="#f0f0f0"/>
<rect x="0" y="788" width="1624" height="1" fill="#fcfcfc"/>
<rect x="208" y="787" width="104" height="1" fill="#a0a0a0"/>
<rect x="311" y="769" width="1" height="19" fill="#a0a0a0"/>
<rect x="207" y="768" width="104" height="19" fill="#000"/>
<rect x="208" y="768" width="102" height="18" fill="#fff"/>
<text transform="translate(14.52,783) scale(0.9840,1)" font-size="12.2" fill="#6e6e78">EURUSD,Daily</text>
<text transform="translate(116.71,783) scale(0.9911,1)" font-size="12.2" fill="#6e6e78">USDCHF,Daily</text>
<text transform="translate(218.20,783) scale(0.9963,1)" font-size="12.2" fill="#000">AUDUSD,Daily</text>
<text transform="translate(321.00,783) scale(1.0049,1)" font-size="12.2" fill="#6e6e78">USDCAD,Daily</text>
<text transform="translate(424.38,783) scale(1.0222,1)" font-size="12.2" fill="#6e6e78">USDCNH,Daily</text>
<text transform="translate(530.01,783) scale(0.9877,1)" font-size="12.2" fill="#6e6e78">EURUSD,Daily</text>
<text transform="translate(633.91,783) scale(0.9928,1)" font-size="12.2" fill="#6e6e78">GBPUSD,H4</text>
<text transform="translate(724.88,783) scale(1.0191,1)" font-size="12.2" fill="#6e6e78">XAUUSD,H4</text>
<text transform="translate(817.17,783) scale(1.0292,1)" font-size="12.2" fill="#6e6e78">HK50,H1</text>
<text transform="translate(889.59,783) scale(1.0145,1)" font-size="12.2" fill="#6e6e78">UK100,H1</text>
<text transform="translate(969.18,783) scale(1.0218,1)" font-size="12.2" fill="#6e6e78">UK100,H1</text>
<text transform="translate(1048.93,783) scale(0.9672,1)" font-size="12.2" fill="#6e6e78">GER30,H1</text>
<text transform="translate(1128.01,783) scale(0.9945,1)" font-size="12.2" fill="#6e6e78">FRA40,H1</text>
<text transform="translate(1203.97,783) scale(1.0262,1)" font-size="12.2" fill="#6e6e78">USOil,Daily</text>
<text transform="translate(1288.02,783) scale(0.9766,1)" font-size="12.2" fill="#6e6e78">USDJPY,H1</text>
<text transform="translate(1373.16,783) scale(1.0400,1)" font-size="12.2" fill="#6e6e78">DJ30,Weekly</text>
<text transform="translate(1468.17,783) scale(1.0329,1)" font-size="12.2" fill="#6e6e78">CHINA300,H1</text>
<rect x="106" y="771" width="3" height="14" fill="#fafafa"/>
<rect x="107" y="771" width="1" height="14" fill="#696969"/>
<rect x="414" y="771" width="3" height="14" fill="#fafafa"/>
<rect x="415" y="771" width="1" height="14" fill="#696969"/>
<rect x="518" y="771" width="3" height="14" fill="#fafafa"/>
<rect x="519" y="771" width="1" height="14" fill="#696969"/>
<rect x="622" y="771" width="3" height="14" fill="#fafafa"/>
<rect x="623" y="771" width="1" height="14" fill="#696969"/>
<rect x="714" y="771" width="3" height="14" fill="#fafafa"/>
<rect x="715" y="771" width="1" height="14" fill="#696969"/>
<rect x="806" y="771" width="3" height="14" fill="#fafafa"/>
<rect x="807" y="771" width="1" height="14" fill="#696969"/>
<rect x="878" y="771" width="3" height="14" fill="#fafafa"/>
<rect x="879" y="771" width="1" height="14" fill="#696969"/>
<rect x="958" y="771" width="3" height="14" fill="#fafafa"/>
<rect x="959" y="771" width="1" height="14" fill="#696969"/>
<rect x="1038" y="771" width="3" height="14" fill="#fafafa"/>
<rect x="1039" y="771" width="1" height="14" fill="#696969"/>
<rect x="1118" y="771" width="3" height="14" fill="#fafafa"/>
<rect x="1119" y="771" width="1" height="14" fill="#696969"/>
<rect x="1194" y="771" width="3" height="14" fill="#fafafa"/>
<rect x="1195" y="771" width="1" height="14" fill="#696969"/>
<rect x="1279" y="771" width="3" height="14" fill="#fafafa"/>
<rect x="1280" y="771" width="1" height="14" fill="#696969"/>
<rect x="1363" y="771" width="3" height="14" fill="#fafafa"/>
<rect x="1364" y="771" width="1" height="14" fill="#696969"/>
<rect x="1459" y="771" width="3" height="14" fill="#fafafa"/>
<rect x="1460" y="771" width="1" height="14" fill="#696969"/>
<rect x="1558" y="771" width="3" height="14" fill="#fafafa"/>
<rect x="1559" y="771" width="1" height="14" fill="#696969"/>
<svg x="1569" y="769" width="20" height="18" overflow="hidden"><text x="0" y="14" font-size="12.2" fill="#6e6e78">USOil</text></svg>
<path d="M1596 773 L1596 781 L1592 777 Z" fill="#a0a0a0"/>
<path d="M1612 773 L1612 781 L1616 777 Z" fill="#000"/>
</svg>
</body></html>
